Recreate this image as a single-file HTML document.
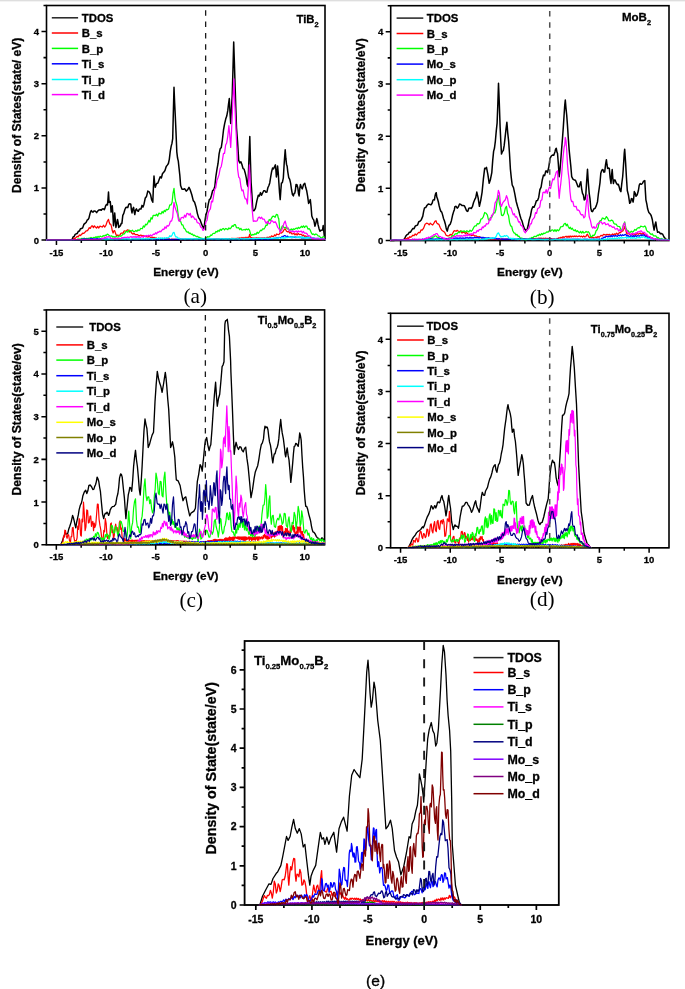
<!DOCTYPE html>
<html><head><meta charset="utf-8"><title>DOS figure</title>
<style>html,body{margin:0;padding:0;background:#fff;width:685px;height:989px;overflow:hidden;position:relative}</style>
</head><body>
<svg width="685" height="989" viewBox="0 0 685 989" style="position:absolute;left:0;top:0;will-change:transform;filter:blur(0.3px)">
<rect x="0" y="0" width="685" height="1" fill="#dedede"/>
<rect x="0" y="1" width="685" height="1" fill="#f3f3f3"/>
<path d="M41.5 240.1H46.5M43.5 214.03H46.5M41.5 187.97H46.5M43.5 161.9H46.5M41.5 135.83H46.5M43.5 109.77H46.5M41.5 83.7H46.5M43.5 57.63H46.5M41.5 31.57H46.5M43.5 5.5H46.5M56.45 240.1V245.1M81.31 240.1V243.1M106.18 240.1V245.1M131.04 240.1V243.1M155.91 240.1V245.1M180.78 240.1V243.1M205.64 240.1V245.1M230.51 240.1V243.1M255.38 240.1V245.1M280.24 240.1V243.1M305.11 240.1V245.1" stroke="#000" stroke-width="1.52" fill="none"/>
<rect x="46.5" y="5.5" width="278.5" height="234.6" stroke="#000" stroke-width="1.6" fill="none"/>
<text x="39" y="243.52" font-size="9.5" text-anchor="end" font-weight="bold" font-family='"Liberation Sans", sans-serif'  stroke="#000" stroke-width="0.3">0</text>
<text x="39" y="191.39" font-size="9.5" text-anchor="end" font-weight="bold" font-family='"Liberation Sans", sans-serif'  stroke="#000" stroke-width="0.3">1</text>
<text x="39" y="139.25" font-size="9.5" text-anchor="end" font-weight="bold" font-family='"Liberation Sans", sans-serif'  stroke="#000" stroke-width="0.3">2</text>
<text x="39" y="87.12" font-size="9.5" text-anchor="end" font-weight="bold" font-family='"Liberation Sans", sans-serif'  stroke="#000" stroke-width="0.3">3</text>
<text x="39" y="34.99" font-size="9.5" text-anchor="end" font-weight="bold" font-family='"Liberation Sans", sans-serif'  stroke="#000" stroke-width="0.3">4</text>
<text x="56.45" y="255.7" font-size="9.5" text-anchor="middle" font-weight="bold" font-family='"Liberation Sans", sans-serif'  stroke="#000" stroke-width="0.3">-15</text>
<text x="106.18" y="255.7" font-size="9.5" text-anchor="middle" font-weight="bold" font-family='"Liberation Sans", sans-serif'  stroke="#000" stroke-width="0.3">-10</text>
<text x="155.91" y="255.7" font-size="9.5" text-anchor="middle" font-weight="bold" font-family='"Liberation Sans", sans-serif'  stroke="#000" stroke-width="0.3">-5</text>
<text x="205.64" y="255.7" font-size="9.5" text-anchor="middle" font-weight="bold" font-family='"Liberation Sans", sans-serif'  stroke="#000" stroke-width="0.3">0</text>
<text x="255.38" y="255.7" font-size="9.5" text-anchor="middle" font-weight="bold" font-family='"Liberation Sans", sans-serif'  stroke="#000" stroke-width="0.3">5</text>
<text x="305.11" y="255.7" font-size="9.5" text-anchor="middle" font-weight="bold" font-family='"Liberation Sans", sans-serif'  stroke="#000" stroke-width="0.3">10</text>
<path d="M385.7 240.5H390.7M387.7 214.41H390.7M385.7 188.32H390.7M387.7 162.23H390.7M385.7 136.14H390.7M387.7 110.06H390.7M385.7 83.97H390.7M387.7 57.88H390.7M385.7 31.79H390.7M387.7 5.7H390.7M400.64 240.5V245.5M425.49 240.5V243.5M450.34 240.5V245.5M475.18 240.5V243.5M500.03 240.5V245.5M524.88 240.5V243.5M549.73 240.5V245.5M574.58 240.5V243.5M599.42 240.5V245.5M624.27 240.5V243.5M649.12 240.5V245.5" stroke="#000" stroke-width="1.52" fill="none"/>
<rect x="390.7" y="5.7" width="278.3" height="234.8" stroke="#000" stroke-width="1.6" fill="none"/>
<text x="383.2" y="243.92" font-size="9.5" text-anchor="end" font-weight="bold" font-family='"Liberation Sans", sans-serif'  stroke="#000" stroke-width="0.3">0</text>
<text x="383.2" y="191.74" font-size="9.5" text-anchor="end" font-weight="bold" font-family='"Liberation Sans", sans-serif'  stroke="#000" stroke-width="0.3">1</text>
<text x="383.2" y="139.56" font-size="9.5" text-anchor="end" font-weight="bold" font-family='"Liberation Sans", sans-serif'  stroke="#000" stroke-width="0.3">2</text>
<text x="383.2" y="87.39" font-size="9.5" text-anchor="end" font-weight="bold" font-family='"Liberation Sans", sans-serif'  stroke="#000" stroke-width="0.3">3</text>
<text x="383.2" y="35.21" font-size="9.5" text-anchor="end" font-weight="bold" font-family='"Liberation Sans", sans-serif'  stroke="#000" stroke-width="0.3">4</text>
<text x="400.64" y="256.1" font-size="9.5" text-anchor="middle" font-weight="bold" font-family='"Liberation Sans", sans-serif'  stroke="#000" stroke-width="0.3">-15</text>
<text x="450.34" y="256.1" font-size="9.5" text-anchor="middle" font-weight="bold" font-family='"Liberation Sans", sans-serif'  stroke="#000" stroke-width="0.3">-10</text>
<text x="500.03" y="256.1" font-size="9.5" text-anchor="middle" font-weight="bold" font-family='"Liberation Sans", sans-serif'  stroke="#000" stroke-width="0.3">-5</text>
<text x="549.73" y="256.1" font-size="9.5" text-anchor="middle" font-weight="bold" font-family='"Liberation Sans", sans-serif'  stroke="#000" stroke-width="0.3">0</text>
<text x="599.42" y="256.1" font-size="9.5" text-anchor="middle" font-weight="bold" font-family='"Liberation Sans", sans-serif'  stroke="#000" stroke-width="0.3">5</text>
<text x="649.12" y="256.1" font-size="9.5" text-anchor="middle" font-weight="bold" font-family='"Liberation Sans", sans-serif'  stroke="#000" stroke-width="0.3">10</text>
<path d="M41.4 544.8H46.4M43.4 523.45H46.4M41.4 502.09H46.4M43.4 480.74H46.4M41.4 459.38H46.4M43.4 438.03H46.4M41.4 416.67H46.4M43.4 395.32H46.4M41.4 373.96H46.4M43.4 352.61H46.4M41.4 331.25H46.4M43.4 309.9H46.4M56.34 544.8V549.8M81.18 544.8V547.8M106.01 544.8V549.8M130.85 544.8V547.8M155.69 544.8V549.8M180.53 544.8V547.8M205.37 544.8V549.8M230.21 544.8V547.8M255.05 544.8V549.8M279.89 544.8V547.8M304.73 544.8V549.8" stroke="#000" stroke-width="1.52" fill="none"/>
<rect x="46.4" y="309.9" width="278.2" height="234.9" stroke="#000" stroke-width="1.6" fill="none"/>
<text x="38.9" y="548.22" font-size="9.5" text-anchor="end" font-weight="bold" font-family='"Liberation Sans", sans-serif'  stroke="#000" stroke-width="0.3">0</text>
<text x="38.9" y="505.51" font-size="9.5" text-anchor="end" font-weight="bold" font-family='"Liberation Sans", sans-serif'  stroke="#000" stroke-width="0.3">1</text>
<text x="38.9" y="462.8" font-size="9.5" text-anchor="end" font-weight="bold" font-family='"Liberation Sans", sans-serif'  stroke="#000" stroke-width="0.3">2</text>
<text x="38.9" y="420.09" font-size="9.5" text-anchor="end" font-weight="bold" font-family='"Liberation Sans", sans-serif'  stroke="#000" stroke-width="0.3">3</text>
<text x="38.9" y="377.38" font-size="9.5" text-anchor="end" font-weight="bold" font-family='"Liberation Sans", sans-serif'  stroke="#000" stroke-width="0.3">4</text>
<text x="38.9" y="334.67" font-size="9.5" text-anchor="end" font-weight="bold" font-family='"Liberation Sans", sans-serif'  stroke="#000" stroke-width="0.3">5</text>
<text x="56.34" y="560.4" font-size="9.5" text-anchor="middle" font-weight="bold" font-family='"Liberation Sans", sans-serif'  stroke="#000" stroke-width="0.3">-15</text>
<text x="106.01" y="560.4" font-size="9.5" text-anchor="middle" font-weight="bold" font-family='"Liberation Sans", sans-serif'  stroke="#000" stroke-width="0.3">-10</text>
<text x="155.69" y="560.4" font-size="9.5" text-anchor="middle" font-weight="bold" font-family='"Liberation Sans", sans-serif'  stroke="#000" stroke-width="0.3">-5</text>
<text x="205.37" y="560.4" font-size="9.5" text-anchor="middle" font-weight="bold" font-family='"Liberation Sans", sans-serif'  stroke="#000" stroke-width="0.3">0</text>
<text x="255.05" y="560.4" font-size="9.5" text-anchor="middle" font-weight="bold" font-family='"Liberation Sans", sans-serif'  stroke="#000" stroke-width="0.3">5</text>
<text x="304.73" y="560.4" font-size="9.5" text-anchor="middle" font-weight="bold" font-family='"Liberation Sans", sans-serif'  stroke="#000" stroke-width="0.3">10</text>
<path d="M385.6 547.8H390.6M387.6 521.74H390.6M385.6 495.69H390.6M387.6 469.63H390.6M385.6 443.58H390.6M387.6 417.52H390.6M385.6 391.47H390.6M387.6 365.41H390.6M385.6 339.36H390.6M387.6 313.3H390.6M400.54 547.8V552.8M425.4 547.8V550.8M450.26 547.8V552.8M475.11 547.8V550.8M499.97 547.8V552.8M524.83 547.8V550.8M549.69 547.8V552.8M574.54 547.8V550.8M599.4 547.8V552.8M624.26 547.8V550.8M649.11 547.8V552.8" stroke="#000" stroke-width="1.52" fill="none"/>
<rect x="390.6" y="313.3" width="278.4" height="234.5" stroke="#000" stroke-width="1.6" fill="none"/>
<text x="383.1" y="551.22" font-size="9.5" text-anchor="end" font-weight="bold" font-family='"Liberation Sans", sans-serif'  stroke="#000" stroke-width="0.3">0</text>
<text x="383.1" y="499.11" font-size="9.5" text-anchor="end" font-weight="bold" font-family='"Liberation Sans", sans-serif'  stroke="#000" stroke-width="0.3">1</text>
<text x="383.1" y="447" font-size="9.5" text-anchor="end" font-weight="bold" font-family='"Liberation Sans", sans-serif'  stroke="#000" stroke-width="0.3">2</text>
<text x="383.1" y="394.89" font-size="9.5" text-anchor="end" font-weight="bold" font-family='"Liberation Sans", sans-serif'  stroke="#000" stroke-width="0.3">3</text>
<text x="383.1" y="342.78" font-size="9.5" text-anchor="end" font-weight="bold" font-family='"Liberation Sans", sans-serif'  stroke="#000" stroke-width="0.3">4</text>
<text x="400.54" y="563.4" font-size="9.5" text-anchor="middle" font-weight="bold" font-family='"Liberation Sans", sans-serif'  stroke="#000" stroke-width="0.3">-15</text>
<text x="450.26" y="563.4" font-size="9.5" text-anchor="middle" font-weight="bold" font-family='"Liberation Sans", sans-serif'  stroke="#000" stroke-width="0.3">-10</text>
<text x="499.97" y="563.4" font-size="9.5" text-anchor="middle" font-weight="bold" font-family='"Liberation Sans", sans-serif'  stroke="#000" stroke-width="0.3">-5</text>
<text x="549.69" y="563.4" font-size="9.5" text-anchor="middle" font-weight="bold" font-family='"Liberation Sans", sans-serif'  stroke="#000" stroke-width="0.3">0</text>
<text x="599.4" y="563.4" font-size="9.5" text-anchor="middle" font-weight="bold" font-family='"Liberation Sans", sans-serif'  stroke="#000" stroke-width="0.3">5</text>
<text x="649.11" y="563.4" font-size="9.5" text-anchor="middle" font-weight="bold" font-family='"Liberation Sans", sans-serif'  stroke="#000" stroke-width="0.3">10</text>
<path d="M239.6 905H244.6M241.6 885.4H244.6M239.6 865.8H244.6M241.6 846.2H244.6M239.6 826.6H244.6M241.6 807H244.6M239.6 787.41H244.6M241.6 767.81H244.6M239.6 748.21H244.6M241.6 728.61H244.6M239.6 709.01H244.6M241.6 689.41H244.6M239.6 669.81H244.6M241.6 650.21H244.6M255.82 905V910M283.88 905V908M311.93 905V910M339.98 905V908M368.04 905V910M396.09 905V908M424.14 905V910M452.2 905V908M480.25 905V910M508.3 905V908M536.36 905V910" stroke="#000" stroke-width="1.71" fill="none"/>
<rect x="244.6" y="641" width="314.2" height="264" stroke="#000" stroke-width="1.8" fill="none"/>
<text x="236.6" y="908.78" font-size="10.5" text-anchor="end" font-weight="bold" font-family='"Liberation Sans", sans-serif'  stroke="#000" stroke-width="0.3">0</text>
<text x="236.6" y="869.58" font-size="10.5" text-anchor="end" font-weight="bold" font-family='"Liberation Sans", sans-serif'  stroke="#000" stroke-width="0.3">1</text>
<text x="236.6" y="830.38" font-size="10.5" text-anchor="end" font-weight="bold" font-family='"Liberation Sans", sans-serif'  stroke="#000" stroke-width="0.3">2</text>
<text x="236.6" y="791.19" font-size="10.5" text-anchor="end" font-weight="bold" font-family='"Liberation Sans", sans-serif'  stroke="#000" stroke-width="0.3">3</text>
<text x="236.6" y="751.99" font-size="10.5" text-anchor="end" font-weight="bold" font-family='"Liberation Sans", sans-serif'  stroke="#000" stroke-width="0.3">4</text>
<text x="236.6" y="712.79" font-size="10.5" text-anchor="end" font-weight="bold" font-family='"Liberation Sans", sans-serif'  stroke="#000" stroke-width="0.3">5</text>
<text x="236.6" y="673.59" font-size="10.5" text-anchor="end" font-weight="bold" font-family='"Liberation Sans", sans-serif'  stroke="#000" stroke-width="0.3">6</text>
<text x="255.82" y="922.8" font-size="10.5" text-anchor="middle" font-weight="bold" font-family='"Liberation Sans", sans-serif'  stroke="#000" stroke-width="0.3">-15</text>
<text x="311.93" y="922.8" font-size="10.5" text-anchor="middle" font-weight="bold" font-family='"Liberation Sans", sans-serif'  stroke="#000" stroke-width="0.3">-10</text>
<text x="368.04" y="922.8" font-size="10.5" text-anchor="middle" font-weight="bold" font-family='"Liberation Sans", sans-serif'  stroke="#000" stroke-width="0.3">-5</text>
<text x="424.14" y="922.8" font-size="10.5" text-anchor="middle" font-weight="bold" font-family='"Liberation Sans", sans-serif'  stroke="#000" stroke-width="0.3">0</text>
<text x="480.25" y="922.8" font-size="10.5" text-anchor="middle" font-weight="bold" font-family='"Liberation Sans", sans-serif'  stroke="#000" stroke-width="0.3">5</text>
<text x="536.36" y="922.8" font-size="10.5" text-anchor="middle" font-weight="bold" font-family='"Liberation Sans", sans-serif'  stroke="#000" stroke-width="0.3">10</text>
<polyline points="46.5,240.1 47.52,240.1 48.54,240.09 49.56,240.09 50.58,240.08 51.6,240.08 52.62,240.07 53.65,240.07 54.67,240.07 55.69,240.06 56.71,240.06 57.73,240.05 58.75,240.05 59.77,240.05 60.79,240.04 61.81,240.04 62.83,240.03 63.85,240.03 64.88,240.03 65.9,240.02 66.92,240.02 67.94,240.01 68.96,240.01 69.98,240 71,240 72.04,239.47 73.08,236.97 74.12,236.54 75.16,234.35 76.2,233.8 77.26,233.44 78.32,231.34 79.38,231.11 80.44,228.69 81.5,228.6 82.67,227.87 83.83,224.43 85,223.4 86.07,222.51 87.13,220.22 88.2,219.4 89,217.93 89.8,214.5 90.6,211.6 91.4,210.5 92.2,211.99 93,212.1 94.2,210.9 95.4,211.3 96.65,212.59 97.9,210.9 99.1,209.9 100.3,209.7 101.3,210.28 102.3,208.9 103.3,208.66 104.3,209.7 104.9,208.39 105.5,206.1 106.5,204.5 107.5,204.9 108,199.19 108.5,192 109.1,202.5 109.7,201.3 110.3,201.7 111.1,212.1 111.7,209.72 112.3,205.7 112.9,214.57 113.5,225.8 114.1,220.06 114.7,212.9 115.3,219.79 115.9,227.4 116.7,223.81 117.5,219.4 118.1,222.35 118.7,227.4 119.7,226.51 120.7,225 121.3,223.31 121.9,223.4 122.8,215.3 123.8,213.34 124.8,209.7 125.8,207.49 126.8,207.3 127.8,207.42 128.8,204.1 129.8,203.7 130.8,204.1 131.4,209.94 132,212.9 132.8,208.84 133.6,207.3 134.2,211.75 134.8,214.5 135.6,210.19 136.4,208.9 137.4,210.8 138.4,211.3 139.2,209.38 140,208.9 141,208.98 142,205.37 143,207.07 144,204.2 145.27,198.01 146.53,196.42 147.8,191.1 149.2,191.88 150.6,194.8 151.7,199.98 152.8,202.3 153.4,187.49 154,176.1 154.65,183.38 155.3,187.3 156.53,183.46 157.77,183.37 159,179.9 160.18,176.78 161.35,178 162.52,173.51 163.7,172.4 164.97,170.47 166.23,166.47 167.5,164.9 168.4,163.53 169.3,159.3 170.25,151.34 171.2,146.1 171.95,143.38 172.7,138.7 173.35,112.16 174,87.2 174.65,103.06 175.3,116.2 176.05,133.3 176.8,151.8 177.55,158.04 178.3,161.1 179.1,168.6 179.85,175.63 180.6,185.5 182,189.19 183.4,189.2 184.8,188.8 186.2,191.1 187.6,189.77 189,187.3 190.4,190.41 191.8,194.8 193.2,200.44 194.6,202.3 196,206.92 197.4,213.6 198.67,217.87 199.93,219.44 201.2,222.9 202.6,226.54 204,228.5 204.9,220.8 205.8,215.4 207.05,211.2 208.3,203.9 209.37,199.37 210.43,198.82 211.5,195.2 212.6,190.72 213.7,189.93 214.8,186.5 215.9,176.27 217,169.1 218.05,163.47 219.1,153.9 220.2,148.68 221.3,147.4 222.4,139.77 223.5,130 224.6,123.95 225.7,119.1 226.75,116.06 227.8,110.4 228.55,103.93 229.3,98.5 230,112.45 230.7,123.5 231.45,108.76 232.2,95.2 232.95,69.86 233.7,42 234.35,61.36 235,82.2 235.75,105.9 236.5,127.8 237.6,142.25 238.7,160.4 239.8,162.91 240.9,161.82 242,164.8 243.05,168.65 244.1,169.1 245.2,172.92 246.3,177.8 247.15,184.14 248,186.5 248.9,159.65 249.8,136.5 250.45,161.35 251.1,182.2 251.95,195.02 252.8,210.4 254.1,210.66 255.4,208.3 256.85,200.82 258.3,195.2 259.38,196.04 260.45,192.6 261.53,195.28 262.6,193 263.8,190.71 265,190.8 265.95,192.31 266.9,192.1 267.85,187.76 268.8,185.7 269.75,182.94 270.7,176.9 271.65,171.45 272.6,168 273.55,168.84 274.5,166.8 275.4,164.9 275.9,170.26 276.4,176.9 277,173.24 277.6,166.1 278.25,172.72 278.9,183.2 279.55,192.59 280.2,199.6 280.8,190.7 281.4,183.2 282.35,182.57 283.3,178.2 284.25,162.39 285.2,149.7 285.85,158.2 286.5,164.2 287.15,166.22 287.8,171.8 288.75,177.54 289.7,179.4 290.6,183.06 291.5,189.5 292.45,194.57 293.4,195.9 294.05,193.52 294.7,193.3 295.35,190.46 296,184.5 296.95,184.81 297.9,188.3 298.5,193.56 299.1,195.9 299.75,188.85 300.4,184.5 301.35,187.34 302.3,188.9 303.55,184.5 304.8,183.2 305.75,187.54 306.7,190.8 307.65,196.44 308.6,203.4 309.45,202.08 310.3,199.6 311.05,206.48 311.8,216.1 312.75,218.58 313.7,219.9 314.3,222.6 314.9,226.2 315.85,223.12 316.8,218.6 317.45,220.78 318.1,224.9 319.05,228.69 320,231.3 321.25,230.16 322.5,230 323.2,225.6 323.8,231.33 324.4,236.3" fill="none" stroke="#000000" stroke-width="1.5" stroke-linejoin="round" stroke-linecap="round"/>
<polyline points="46.5,240.1 47.52,240.1 48.54,240.09 49.56,240.09 50.58,240.08 51.6,240.08 52.62,240.07 53.65,240.07 54.67,240.07 55.69,240.06 56.71,240.06 57.73,240.05 58.75,240.05 59.77,240.05 60.79,240.04 61.81,240.04 62.83,240.03 63.85,240.03 64.88,240.03 65.9,240.02 66.92,240.02 67.94,240.01 68.96,240.01 69.98,240 71,240 72,239.5 73,239.57 74,238.18 75,238.47 76,237.5 77.1,236.37 78.2,236.9 79.3,234.94 80.4,235.57 81.5,234.5 82.67,233.22 83.83,233.42 85,232.2 86.07,230.84 87.13,230.94 88.2,229.8 89.27,227.64 90.33,228.37 91.4,226.2 92.4,225.8 93.4,227.6 94.4,225.8 95.4,227 96.54,228.07 97.68,226.44 98.82,228.02 99.96,226.2 101.1,226.6 102.3,227.03 103.5,225.24 104.7,227.03 105.9,225.4 107.2,221.55 108.5,219.4 109.2,222.3 109.9,224.2 110.7,224.17 111.5,226.6 112.3,230.77 113.1,233 113.9,230.88 114.7,230.6 115.5,233.32 116.3,235.4 117.5,235.18 118.7,235.4 119.77,235.39 120.83,233.39 121.9,233 123,233.28 124.1,230.9 125.2,231 126.27,231.18 127.33,229.8 128.4,230.2 129.47,231.98 130.53,231.21 131.6,233 132.8,234.15 134,233.17 135.2,234.69 136.4,234.6 137.6,234.58 138.8,235.72 140,235.4 141,235 142,236.34 143,235.46 144,236.5 145,235.85 146,236.93 147,236.27 148,237.17 149,236.2 150,237 151,237.65 152,236.97 153,238.08 154,237.32 155,238.12 156,237.83 157,238.73 158,238.5 159,238.1 160,239.19 161,238.36 162,239.12 163,238.33 164,239.25 165,238.77 166,239.33 167,238.8 168,239.69 169,238.68 170,239.3 171,239.87 172,238.9 173,239.85 174,238.9 175,239.74 176,239.18 177,239.7 178,239.06 179,239.71 180,238.9 181,239.9 182,238.9 183,239.9 184,239.11 185,239.69 186,239 187,239.7 188,238.9 189,239.9 190,239.24 191,239.65 192,239.2 193,239.63 194,238.91 195,239.9 196,239.27 197,239.9 198,239.17 199,239.75 200,239.5 201,239.27 202,239.88 203,239.2 204,239.69 205,239.23 206,239.77 207,239.19 208,239.74 209,238.93 210,239.64 211,239.08 212,239.86 213,239 214,239.51 215,238.76 216,239.75 217,238.69 218,239.47 219,238.6 220,239.53 221,238.91 222,239.49 223,238.6 224,239.69 225,238.6 226,239.61 227,238.6 228,239.22 229,238.6 230,239 231,239.4 232,238.28 233,239.27 234,238.31 235,238.95 236,238.27 237,238.65 238,238.05 239,238.52 240,237.79 241,238.75 242,237.5 243,238.55 244,237.44 245,238.44 246,237.22 247,238.31 248,237.1 249,237.5 249.6,234.3 250.3,236.43 251,238 252,237.6 253,238.58 254,237.81 255,238.62 256,237.6 257,238.45 258,237.7 259,238.61 260,237.81 261,238.76 262,237.6 263,238.49 264,237.6 265,238.2 266.09,238.23 267.17,237.25 268.26,237.64 269.34,236.89 270.43,237.54 271.51,235.9 272.6,236.3 273.6,236.54 274.6,234.85 275.6,235.83 276.6,234 277.6,234.4 278.87,234.62 280.13,232.74 281.4,233.1 282.67,232.1 283.93,229.86 285.2,228.7 286.5,231.25 287.8,231.9 288.8,231.5 289.8,233.14 290.8,232.28 291.8,233.84 292.8,233.8 293.89,233.45 294.97,234.77 296.06,233.66 297.14,235.01 298.23,233.4 299.31,234.65 300.4,234.4 301.49,234.35 302.57,235.81 303.66,235 304.74,236.56 305.83,235.91 306.91,236.85 308,236.9 309,237.06 310,238.14 311,237.6 312,238.91 313,238.8 314,238.63 315,239.1 316,238.49 317,239.52 318,238.89 319,239.69 320,238.88 321,239.85 322,238.97 323,239.73 324,239.09 325,239.5" fill="none" stroke="#ff0000" stroke-width="1.25" stroke-linejoin="round" stroke-linecap="round"/>
<polyline points="46.5,240.1 47.52,240.1 48.54,240.09 49.56,240.09 50.58,240.08 51.6,240.08 52.62,240.07 53.65,240.07 54.67,240.07 55.69,240.06 56.71,240.06 57.73,240.05 58.75,240.05 59.77,240.05 60.79,240.04 61.81,240.04 62.83,240.03 63.85,240.03 64.88,240.03 65.9,240.02 66.92,240.02 67.94,240.01 68.96,240.01 69.98,240 71,240 72,239.9 73,239.8 74,239.7 75,239.6 76,239.5 77,239.66 78,238.86 79,239.55 80,238.89 81,239.25 82,238.3 83,239.32 84,238.2 85,238.6 86,239.14 87,238.23 88,238.95 89,238.01 90,238.28 91,237.4 92,238.08 93,237.8 94.01,237.43 95.03,237.77 96.04,236.69 97.05,237.72 98.06,236.33 99.07,237.31 100.09,236.2 101.1,236.6 102.13,236.89 103.16,235.51 104.19,236.18 105.21,235.16 106.24,235.44 107.27,234.2 108.3,234.6 109.5,235.73 110.7,236.2 111.77,235.82 112.83,237.19 113.9,236.38 114.97,237.37 116.03,236.33 117.1,237 118.3,236.96 119.5,235.77 120.7,236.29 121.9,235.4 123.12,234.16 124.35,233.92 125.58,231.9 126.8,231.4 127.87,232.12 128.93,230.2 130,230.6 131.2,231.16 132.4,230.2 133.6,231.6 134.8,231.4 135.84,230.45 136.88,231.35 137.92,229.8 138.96,230.6 140,229.8 140.6,228.49 141.2,228.5 142.3,228.75 143.4,225.94 144.5,227.03 145.6,224.18 146.7,224.83 147.8,222.9 148.88,220.3 149.97,222.09 151.05,217.57 152.13,219.06 153.22,215.26 154.3,215.4 155.44,215.67 156.58,214.15 157.72,216.12 158.86,213.2 160,213.6 161.07,213.98 162.14,211.51 163.21,213.09 164.29,210.45 165.36,211.57 166.43,209.4 167.5,209.8 168.65,208.91 169.8,204.9 170.95,205 172.1,202.3 173.05,193.15 174,188.3 174.95,197.76 175.9,202.3 177.13,206.22 178.37,216.14 179.6,221 180.7,221.5 181.8,224.92 182.9,224.85 184,228.26 185.1,229.06 186.2,231.3 187.23,232.23 188.27,231.96 189.3,233.56 190.33,233.04 191.37,234.46 192.4,233.99 193.43,235.61 194.47,235.15 195.5,236 196.57,236.6 197.64,236.32 198.71,237.44 199.79,237.33 200.86,238.63 201.93,238.17 203,238.8 204.14,238.98 205.28,237.84 206.42,238.12 207.56,236.72 208.7,237 209.7,236.57 210.7,234.96 211.7,235.4 212.7,233.79 213.7,233.3 214.79,233.5 215.88,231.47 216.96,232.05 218.05,230.35 219.14,231.37 220.22,229.23 221.31,230.24 222.4,228.9 223.47,228.5 224.55,229.94 225.62,228.5 226.7,228.9 227.8,229.66 228.9,227.94 230,228.85 231.1,227.8 232.17,225.66 233.23,226.36 234.3,224.6 235.4,224.59 236.5,227.74 237.6,227.8 238.68,227.72 239.76,229.62 240.84,228.34 241.92,230.18 243,230 244.1,229.47 245.2,230.01 246.3,229.02 247.4,229.75 248.5,228.9 249.57,230.41 250.63,234.13 251.7,235.4 252.79,234.42 253.87,234.95 254.96,233.71 256.04,234.35 257.13,232.17 258.21,233.45 259.3,232.2 260.44,230.25 261.58,230.63 262.72,228.76 263.86,229.04 265,227.5 266.07,224.97 267.13,225.38 268.2,222.4 269.23,219.49 270.27,220.38 271.3,218.6 272.55,216.35 273.8,216.1 275.07,217.27 276.33,214.4 277.6,214.8 278.15,217.66 278.7,218.6 279.3,224.19 279.9,231.3 281,229.98 282.1,226.2 283.13,225.92 284.17,227.89 285.2,227.5 286.22,227.2 287.24,229.01 288.26,228.2 289.28,230.23 290.3,230 291.3,228.91 292.3,230.01 293.3,228.89 294.3,229.39 295.3,228.7 296.32,228.08 297.34,228.78 298.36,227.34 299.38,228.25 300.4,227.5 301.42,226.28 302.44,227.35 303.46,225.8 304.48,227.52 305.5,226.2 306.73,226.05 307.97,229.12 309.2,228.7 310.27,230.22 311.33,232.88 312.4,234.4 313.5,234 314.6,234.93 315.7,234 316.8,234.4 318.07,235.81 319.33,236.18 320.6,237.6 321.87,237.97 323.13,236.6 324.4,237" fill="none" stroke="#00ff00" stroke-width="1.25" stroke-linejoin="round" stroke-linecap="round"/>
<polyline points="46.5,240 47.52,240 48.54,240 49.56,240 50.58,240 51.6,240 52.62,240 53.65,240 54.67,240 55.69,240 56.71,240 57.73,240 58.75,240 59.77,240 60.79,240 61.81,240 62.83,240 63.85,240 64.88,240 65.9,240 66.92,240 67.94,240 68.96,240 69.98,240 71,240 72,239.95 73,239.89 74,239.84 75,239.79 76,239.74 77,239.68 78,239.63 79,239.58 80,239.53 81,239.76 82,238.87 83,239.76 84,238.73 85,239.52 86,238.9 87,239.47 88,238.95 89,239.6 90,239 91,238.6 92,239.28 93,238.6 94,239.63 95,238.76 96,239.45 97,238.6 98,239.27 99,238.86 100,239.38 101,238.69 102,239.35 103,238.9 104,239.37 105,238.77 106,239.46 107,238.72 108,239.68 109,239.05 110,239.41 111,238.9 112,239.72 113,238.98 114,239.8 115,238.79 116,239.9 117,239.05 118,239.9 119,238.84 120,239.67 121,239.02 122,239.71 123,239.01 124,239.67 125,239.01 126,239.9 127,239.01 128,239.72 129,239.02 130,239.5 131,239.9 132,239.32 133,239.76 134,239.08 135,239.83 136,238.91 137,239.9 138,238.92 139,239.82 140,238.99 141,239.76 142,239.21 143,239.75 144,239.32 145,239.83 146,238.91 147,239.9 148,238.93 149,239.67 150,239.32 151,239.72 152,239.17 153,239.9 154,238.97 155,239.79 156,239.26 157,239.88 158,239.29 159,239.72 160,238.9 161,239.77 162,239.01 163,239.61 164,238.96 165,239.67 166,239.16 167,239.73 168,238.99 169,239.75 170,239.24 171,239.9 172,239.13 173,239.9 174,239.26 175,239.77 176,239.05 177,239.71 178,239.23 179,239.86 180,238.9 181,239.62 182,238.9 183,239.67 184,239.02 185,239.84 186,239 187,239.62 188,239.1 189,239.79 190,239.13 191,239.59 192,239.24 193,239.87 194,239.12 195,239.8 196,238.9 197,239.65 198,239.04 199,239.76 200,238.9 201,239.78 202,238.9 203,239.72 204,238.9 205,239.9 206,239.21 207,239.72 208,238.9 209,239.73 210,238.9 211,239.6 212,239.04 213,239.79 214,238.9 215,239.66 216,239.04 217,239.74 218,239 219,239.84 220,239.19 221,239.66 222,238.96 223,239.63 224,238.9 225,239.58 226,239.13 227,239.58 228,238.92 229,239.81 230,239.15 231,239.86 232,239.08 233,239.71 234,239.02 235,239.87 236,239.19 237,239.7 238,238.93 239,239.76 240,238.9 241,239.9 242,238.9 243,239.52 244,239.04 245,239.57 246,238.9 247,239.87 248,238.9 249,239.58 250,239.01 251,239.6 252,239.05 253,239.9 254,238.93 255,239.76 256,238.9 257,239.5 258,238.9 259,239.89 260,238.9 261,239.62 262,238.9 263,239.47 264,238.9 265,239.88 266,239 267,239.7 268,239.05 269,239.82 270,239.3 271,238.92 272,239.55 273,238.3 274,238.85 275,238.06 276,238.71 277,237.48 278,238.11 279,237.28 280,237.5 281.04,237.64 282.08,236.3 283.12,236.82 284.16,235.61 285.2,235.7 286.4,236.72 287.6,236.08 288.8,237.23 290,237 291,236.6 292,237.75 293,236.74 294,237.63 295,236.68 296,237.77 297,237.14 298,237.71 299,236.94 300,237.93 301,236.86 302,238.28 303,237.29 304,238.35 305,237.57 306,238 307,237.18 308,238.14 309,237.33 310,238 311,238.51 312,237.84 313,238.68 314,237.8 315,239.05 316,238.13 317,238.95 318,238.22 319,239.12 320,238.84 321,239.47 322,238.74 323,239.45 324,239.18 325,239.5" fill="none" stroke="#0000ff" stroke-width="1.25" stroke-linejoin="round" stroke-linecap="round"/>
<polyline points="46.5,240 47.51,239.99 48.52,239.98 49.53,239.97 50.54,239.96 51.55,239.95 52.56,239.94 53.57,239.93 54.58,239.92 55.58,239.92 56.59,239.91 57.6,239.9 58.61,239.89 59.62,239.88 60.63,239.87 61.64,239.86 62.65,239.85 63.66,239.84 64.67,239.83 65.68,239.82 66.69,239.81 67.7,239.8 68.71,239.79 69.72,239.78 70.73,239.77 71.74,239.76 72.75,239.75 73.75,239.75 74.76,239.74 75.77,239.73 76.78,239.72 77.79,239.71 78.8,239.7 79.81,239.69 80.82,239.68 81.83,239.67 82.84,239.66 83.85,239.65 84.86,239.64 85.87,239.63 86.88,239.62 87.89,239.61 88.9,239.6 89.91,239.59 90.92,239.58 91.92,239.58 92.93,239.57 93.94,239.56 94.95,239.55 95.96,239.54 96.97,239.53 97.98,239.52 98.99,239.51 100,239.5 101,239.82 102,239.23 103,239.62 104,239.04 105,239.9 106,239.15 107,239.9 108,238.82 109,239.68 110,239.2 111,239.84 112,238.91 113,239.8 114,238.9 115,239.47 116,239.13 117,239.7 118,238.93 119,239.48 120,238.82 121,239.48 122,238.77 123,239.42 124,238.8 125,239.54 126,238.6 127,239.35 128,238.8 129,239.68 130,238.92 131,239.7 132,238.6 133,239.28 134,238.85 135,239.54 136,238.82 137,239.57 138,238.66 139,239.43 140,239 141.02,238.73 142.04,239.34 143.06,238.56 144.09,239.38 145.11,238.4 146.13,239.3 147.15,238.41 148.17,239.32 149.19,238.4 150.21,239.08 151.24,238.45 152.26,239.45 153.28,238.62 154.3,238.8 155.32,238.94 156.33,238.26 157.35,238.77 158.36,237.96 159.38,239.07 160.39,237.83 161.41,238.57 162.42,237.84 163.44,238.83 164.45,237.66 165.47,238.3 166.48,237.68 167.5,237.9 168.65,237.72 169.8,235.75 170.95,236.6 172.1,235.1 173.05,232.78 174,232.3 174.95,235.21 175.9,237 176.93,236.86 177.95,238.32 178.97,238.03 180,239 181,239.48 182,238.66 183,239.3 184,238.75 185,239.59 186,238.6 187,239.3 188,238.6 189,239.19 190,238.6 191,239.58 192,238.74 193,239.32 194,238.6 195,239.57 196,238.77 197,239.56 198,238.6 199,239.23 200,238.6 201,239.49 202,238.73 203,239.17 204,238.6 205,239.51 206,238.6 207,239.19 208,238.69 209,239.27 210,238.6 211,239.18 212,238.84 213,239.25 214,238.69 215,239.17 216,238.8 217,239.53 218,238.68 219,239.5 220,238.61 221,239.2 222,238.71 223,239.35 224,238.6 225,239.39 226,238.72 227,239.36 228,238.6 229,239.4 230,238.75 231,239.16 232,238.6 233,239.4 234,238.6 235,239.35 236,238.69 237,239.28 238,238.6 239,239.59 240,239 241,238.49 242,239.23 243,238.59 244,239.49 245,238.37 246,239.27 247,238.35 248,239.36 249,238.45 250,239.02 251,238.55 252,239.07 253,238.33 254,239.2 255,238.05 256,238.88 257,238.38 258,238.78 259,238.16 260,238.73 261,237.99 262,238.97 263,238.18 264,238.6 265,238.06 266,238.65 267,237.97 268,238.95 269,238.07 270,238.61 271,238.04 272,238.67 273,237.88 274,238.5 275,237.64 276,238.53 277,237.89 278,238.38 279,237.69 280,238 281,238.32 282,237.23 283,238.46 284,237.46 285,238.33 286,237.04 287,237.92 288,237.14 289,237.77 290,236.64 291,237.85 292,236.92 293,237.53 294,236.6 295,237 296,237.3 297,236.88 298,237.63 299,236.72 300,237.72 301,237.2 302,238.09 303,236.96 304,238.24 305,237.34 306,238.33 307,237.26 308,238.22 309,237.29 310,238 311,238.51 312,237.6 313,238.96 314,237.99 315,239.05 316,238.44 317,239.33 318,238.25 319,239.29 320,238.55 321,239.44 322,238.78 323,239.84 324,239.12 325,239.5" fill="none" stroke="#00ffff" stroke-width="1.25" stroke-linejoin="round" stroke-linecap="round"/>
<polyline points="46.5,240 47.51,239.99 48.52,239.98 49.53,239.97 50.54,239.96 51.55,239.95 52.56,239.94 53.57,239.93 54.58,239.92 55.58,239.92 56.59,239.91 57.6,239.9 58.61,239.89 59.62,239.88 60.63,239.87 61.64,239.86 62.65,239.85 63.66,239.84 64.67,239.83 65.68,239.82 66.69,239.81 67.7,239.8 68.71,239.79 69.72,239.78 70.73,239.77 71.74,239.76 72.75,239.75 73.75,239.75 74.76,239.74 75.77,239.73 76.78,239.72 77.79,239.71 78.8,239.7 79.81,239.69 80.82,239.68 81.83,239.67 82.84,239.66 83.85,239.65 84.86,239.64 85.87,239.63 86.88,239.62 87.89,239.61 88.9,239.6 89.91,239.59 90.92,239.58 91.92,239.58 92.93,239.57 93.94,239.56 94.95,239.55 95.96,239.54 96.97,239.53 97.98,239.52 98.99,239.51 100,239.5 101.06,239.6 102.12,238.21 103.19,238.73 104.25,237.59 105.31,238.01 106.38,236.69 107.44,237.21 108.5,236.6 109.67,236.88 110.83,238.12 112,238.5 113,238.29 114,238.94 115,238.1 116,238.82 117,238.27 118,238.98 119,238.1 120,238.5 121.04,238.47 122.08,237.5 123.12,238.05 124.16,237.31 125.2,237.4 126.4,237.65 127.6,236.93 128.8,237.59 130,237 131.02,236.6 132.04,237.47 133.05,236.6 134.07,237.3 135.09,236.6 136.11,237.45 137.13,236.6 138.15,237.31 139.16,236.6 140.18,237.57 141.2,237 142.23,236.51 143.25,237.34 144.28,235.87 145.31,236.52 146.34,235.46 147.36,236.33 148.39,235.22 149.42,235.98 150.45,234.96 151.47,235.87 152.5,235.1 153.53,234.06 154.57,234.33 155.6,232.77 156.63,233.94 157.67,231.98 158.7,232.28 159.73,231.1 160.77,231.78 161.8,230.4 162.87,229.21 163.94,229.53 165.01,226.81 166.09,228.36 167.16,225.52 168.23,226.17 169.3,224.8 170.43,221.15 171.57,221.16 172.7,217.3 173.35,208.77 174,202.3 174.95,206.89 175.9,209.8 177.3,213.51 178.7,221 179.93,221.17 181.17,217.83 182.4,217.3 183.52,218.12 184.64,215.09 185.76,217.1 186.88,213.43 188,213.6 189.14,215.17 190.28,213.4 191.42,217.52 192.56,216 193.7,217.3 194.88,219.4 196.05,219.02 197.22,222.61 198.4,222.9 199.55,223.76 200.7,227.16 201.85,227.48 203,230.4 203.95,229.82 204.9,227.6 206,221.75 207.1,220.25 208.2,213.08 209.3,210.4 210.4,208.91 211.5,201.14 212.6,201.88 213.7,195.2 214.77,189.07 215.85,187.52 216.93,180.43 218,177.8 219.1,174.36 220.2,168.35 221.3,166.45 222.4,160.4 223.47,153.47 224.55,153.41 225.62,145 226.7,143 227.8,136.04 228.9,125.7 229.8,135.49 230.7,147.4 231.45,133.28 232.2,117 233.05,96.11 233.9,78.9 234.65,100.39 235.4,117 236.5,140.3 237.6,169.1 238.7,177 239.8,178.29 240.9,186.5 241.97,190.92 243.03,189.84 244.1,195.2 245.2,198.9 246.3,198.9 247.4,203.9 248.4,186.18 249.4,165 249.95,175.13 250.5,190 251.9,206.84 253.3,221.3 254.7,220.9 256.1,221.3 257.17,220.73 258.23,217.76 259.3,217 260.4,218.57 261.5,217.17 262.6,219.07 263.7,219.1 264.35,219.4 265,221.1 266.27,223.37 267.53,221.32 268.8,223.7 270.07,223.61 271.33,220.7 272.6,221.1 273.87,222.57 275.13,221.63 276.4,223.7 277.65,227.3 278.9,228.7 279.55,230.07 280.2,232.5 281.45,230.46 282.7,227.5 283.95,223.33 285.2,221.1 286.15,224.95 287.1,227.5 288.17,228.38 289.23,230.88 290.3,231.3 291.3,230.9 292.3,231.8 293.3,230.96 294.3,232.32 295.3,231.3 296.32,231.02 297.34,232.25 298.36,230.9 299.38,231.71 300.4,231.3 301.42,231.1 302.44,232.95 303.46,231.45 304.48,233.15 305.5,233.1 306.73,233.41 307.97,235.55 309.2,235.7 310.47,236.27 311.73,238.04 313,238.8 314,238.4 315,239.22 316,238.73 317,239.35 318,238.48 319,239.41 320,238.96 321,239.77 322,238.8 323,239.63 324,239.14 325,239.5" fill="none" stroke="#ff00ff" stroke-width="1.25" stroke-linejoin="round" stroke-linecap="round"/>
<polyline points="390.7,240.5 391.77,240.46 392.83,240.42 393.9,240.38 394.97,240.33 396.03,240.29 397.1,240.25 398.17,240.21 399.23,240.17 400.3,240.12 401.37,240.08 402.43,240.04 403.5,240 404.67,238.54 405.83,236.04 407,234.7 408.18,234.04 409.35,232.13 410.52,232.18 411.7,230.1 412.88,228.57 414.05,228.81 415.22,226.13 416.4,225.4 417.57,225.11 418.73,221.7 419.9,221.3 421.35,219.65 422.8,216.1 423.65,211.42 424.5,207.9 425.7,207.55 426.9,205.5 428.35,204 429.8,204.4 430.95,204.87 432.1,203.2 433,200.15 433.9,199.7 434.45,199.91 435,196.2 435.6,193.56 436.2,192.7 436.8,196.98 437.4,198.5 438.25,201.49 439.1,205.5 440,209.15 440.9,211.4 441.75,212.11 442.6,214.9 443.5,218.4 444.4,220.7 445.25,223.67 446.1,227.7 446.7,230.01 447.3,231.2 448.15,227.43 449,225.4 450.2,224.2 451.4,220.7 452.55,215.3 453.7,211.4 454.3,209.99 454.9,206.7 456.07,206.3 457.23,208.16 458.4,206.7 459.55,204 460.7,204.4 461.9,205.46 463.1,205.5 464.25,205.66 465.4,207.9 466.55,210.83 467.7,211.4 468.9,208.12 470.1,207.9 471.25,208.53 472.4,206.7 473.55,202.45 474.7,199.7 475.75,197.64 476.8,192.1 478.1,197.62 479.4,206.3 480.75,200.34 482.1,192.1 483.4,178.79 484.7,168.2 485.6,168.72 486.5,167.3 487.85,174.34 489.2,183.3 490.5,179.17 491.8,172.7 492.7,160.63 493.6,151.4 494.5,148.03 495.4,140.8 496.25,131.13 497.1,123.1 497.8,105.01 498.5,83.3 499.3,103.09 500.1,126.6 500.8,141.47 501.5,154.1 502.4,151.61 503.3,150.5 504.2,145.45 505.1,137.3 506,129.2 506.9,122.2 507.75,133.07 508.6,140.8 509.5,153.44 510.4,169.1 511.3,177.85 512.2,185 513.5,187.68 514.8,193.9 516.15,201.26 517.5,206.3 518.67,209.9 519.83,215.05 521,218.7 522.2,221.58 523.4,226.09 524.6,229.3 525.45,229.54 526.3,231.1 527.2,228.99 528.1,225.8 529.27,219.63 530.43,216.01 531.6,209.8 532.8,206.77 534,207.32 535.2,204.5 536.37,200.71 537.53,200.53 538.7,197.4 539.9,189.59 541.1,187.11 542.3,179.7 543.47,175.13 544.63,175.68 545.8,170.9 546.65,171.03 547.5,172.5 548.75,167.24 550,158.3 551.25,156.03 552.5,155 553.75,155.18 555,151.7 555.65,148.92 556.3,148.3 556.9,151.89 557.5,153.3 558.35,164 559.2,176.7 560,169.82 560.8,160 561.65,148.64 562.5,138.3 563.35,126.65 564.2,113.3 564.75,105.17 565.3,100 566,108.35 566.7,115 567.5,125.83 568.3,138.3 569.15,149.92 570,158.3 570.85,166.64 571.7,176.7 572.95,179.15 574.2,180 575.45,180.27 576.7,183.3 577.95,186.64 579.2,186.7 580,183.68 580.8,181.7 581.65,188.77 582.5,193.3 583.35,194.86 584.2,200 585,199.31 585.8,195 586.65,181.2 587.5,169.2 588.35,183.06 589.2,193.3 590,198.92 590.8,208.3 591.65,211.25 592.5,211.7 593.75,209.01 595,208.3 596.25,205.87 597.5,201.7 598.35,194.22 599.2,188.3 600,182.62 600.8,173.3 601.85,170.06 602.9,169.5 603.8,172.12 604.7,171.9 605.55,164.55 606.4,159.7 607,164.72 607.6,168.4 608.45,168 609.3,168.4 610.15,177.89 611,183.5 611.6,175.14 612.2,169.5 612.8,177.83 613.4,183.5 614.25,179.94 615.1,180 616.25,183 617.4,184.7 618.3,184.3 619.2,187 620.05,190.25 620.9,191.6 621.8,183.36 622.7,176.5 623.25,168.99 623.8,160.2 624.25,153.16 624.7,149.2 625.6,162.6 626.45,177.68 627.3,190.5 628.5,195.27 629.7,203.3 630.55,202.26 631.4,198.6 632.25,199.03 633.1,202.1 633.7,198.23 634.3,191.6 635.15,193.04 636,196.3 637.2,194.8 638.4,190.5 639.25,185.1 640.1,183.5 641.25,184.29 642.4,183.5 643.6,181.13 644.8,180.6 645.35,190.86 645.9,199.8 646.8,203.93 647.7,209.1 648.85,212.54 650,213.7 651.15,215.5 652.3,219.5 653.2,225.19 654.1,230 654.95,225.29 655.8,221.9 656.7,228.11 657.6,232.3 658.45,231.9 659.3,232.3 660.45,233.67 661.6,233.5 662.8,234.45 664,237 665.45,238.78 666.9,239.9 667.95,240.1 669,240.3" fill="none" stroke="#000000" stroke-width="1.5" stroke-linejoin="round" stroke-linecap="round"/>
<polyline points="390.7,240.3 391.77,240.28 392.83,240.25 393.9,240.23 394.97,240.2 396.03,240.18 397.1,240.15 398.17,240.12 399.23,240.1 400.3,240.07 401.37,240.05 402.43,240.03 403.5,240 404.52,239.94 405.55,238.64 406.57,239.17 407.6,237.79 408.62,238.43 409.65,236.72 410.68,237.3 411.7,236.5 412.86,235.17 414.02,235.72 415.18,233.94 416.34,235.09 417.5,233.6 418.68,232.43 419.85,232.75 421.02,229.93 422.2,230.1 423.65,228.14 425.1,224.2 426.55,223.2 428,223.6 429.17,224.87 430.33,223.2 431.5,224.2 432.7,224.98 433.9,223.1 434.95,221.32 436,220.7 436.7,222.89 437.4,223.6 438.85,224.37 440.3,227.7 441.75,230.25 443.2,231.2 444.65,232.32 446.1,235.3 447.55,235.93 449,235.9 450.2,234.39 451.4,235.16 452.6,233.6 453.75,231.16 454.9,230.7 456.07,231.28 457.23,230.3 458.4,231.2 459.57,231.78 460.75,230.83 461.93,233.01 463.1,232.4 464.25,232.19 465.4,233.62 466.55,232.52 467.7,233.6 468.88,234.78 470.05,234.17 471.22,235.66 472.4,235.3 473.57,234.9 474.75,236.17 475.93,235.72 477.1,236.5 478.33,237.09 479.55,236.59 480.77,237.84 482,238 483,237.9 484,238.74 485,238.08 486,238.82 487,238.43 488,239.51 489,238.66 490,239.2 491,239.62 492,238.8 493,239.57 494,238.8 495,239.61 496,238.8 497,239.8 498,238.87 499,239.53 500,238.8 501,239.65 502,238.82 503,239.65 504,239.15 505,239.57 506,238.92 507,239.62 508,239.05 509,239.74 510,238.8 511,239.91 512,238.84 513,239.62 514,238.92 515,239.82 516,239.03 517,239.83 518,238.94 519,240.04 520,239.5 521,239.3 522,240.01 523,238.83 524,239.71 525,238.67 526,239.55 527,239 528,239.41 529,238.64 530,239.57 531,238.45 532,239.14 533,238.25 534,239.45 535,238.33 536,239.36 537,238.31 538,238.89 539,238 540,238.97 541,237.9 542,238.94 543,238.17 544,238.55 545,238.3 546,238.11 547,239.14 548,238.27 549,239.1 550,238.16 551,239.13 552,238.66 553,239.57 554,238.84 555,239.2 556,239.52 557,238.39 558,238.75 559,237.7 560,238.19 561,237.24 562,237.9 563,236.59 564,237.55 565,236.7 566.02,236.2 567.05,237.3 568.07,236.04 569.09,237.27 570.12,235.9 571.14,237.13 572.16,236.04 573.18,236.76 574.21,235.9 575.23,236.62 576.25,235.96 577.28,236.64 578.3,236.3 579.37,235.94 580.44,236.78 581.51,236.07 582.59,237.16 583.66,235.91 584.73,236.98 585.8,236.7 586.65,234.88 587.5,234.2 588.35,236.13 589.2,237.5 590.36,237.1 591.52,237.84 592.68,237.13 593.84,237.75 595,237.5 596,236.94 597,237.68 598,236.53 599,237.39 600,236.4 601.17,235.3 602.35,235.98 603.53,234.38 604.7,234.7 605.85,235.12 607,234.3 608.15,234.99 609.3,234.3 610.45,235.25 611.6,234.7 612.6,233.92 613.6,234.99 614.6,233.88 615.6,234.44 616.6,233.1 617.6,234.42 618.6,233.5 619.62,232.49 620.65,232.61 621.68,230.89 622.7,231.2 623.7,229.46 624.7,226.5 625.7,229.68 626.7,233.5 627.88,234.09 629.06,233.22 630.24,235.08 631.42,233.91 632.6,234.7 633.75,235.32 634.9,233.87 636.05,234.56 637.2,233.1 638.35,234.29 639.5,233.5 640.67,233.1 641.85,234.33 643.03,233.4 644.2,234.1 645.35,235.28 646.5,234.88 647.65,236.99 648.8,237 649.98,236.84 651.16,238.18 652.34,238.02 653.52,239.45 654.7,239.3 655.72,238.9 656.74,240.01 657.76,238.9 658.79,239.7 659.81,239.24 660.83,240 661.85,239.36 662.87,240.08 663.89,239.44 664.91,240.08 665.94,239.34 666.96,239.9 667.98,239.95 669,240" fill="none" stroke="#ff0000" stroke-width="1.25" stroke-linejoin="round" stroke-linecap="round"/>
<polyline points="390.7,240.3 391.72,240.29 392.74,240.28 393.77,240.27 394.79,240.26 395.81,240.25 396.83,240.24 397.85,240.23 398.88,240.23 399.9,240.22 400.92,240.21 401.94,240.2 402.96,240.19 403.98,240.18 405.01,240.17 406.03,240.16 407.05,240.15 408.07,240.14 409.09,240.13 410.12,240.12 411.14,240.11 412.16,240.1 413.18,240.09 414.2,240.08 415.22,240.07 416.25,240.07 417.27,240.06 418.29,240.05 419.31,240.04 420.33,240.03 421.36,240.02 422.38,240.01 423.4,240 424.4,240.3 425.4,238.95 426.4,239.52 427.4,238.74 428.4,239.36 429.4,238.28 430.4,238.2 431.52,238.27 432.64,236.95 433.76,237.1 434.88,235.78 436,235.9 437.23,237.4 438.47,237.08 439.7,238.2 440.7,238.86 441.7,238.32 442.7,239.33 443.7,238.56 444.7,239.3 445.7,238.66 446.7,239.4 447.88,239.4 449.05,237.98 450.22,237.94 451.4,237.1 452.57,235.62 453.75,235.92 454.93,233.98 456.1,233.6 457.26,233.8 458.42,231.96 459.58,232.68 460.74,231.12 461.9,231.2 463.06,231.62 464.22,230.8 465.38,232.19 466.54,230.8 467.7,231.2 468.88,231.91 470.05,230.21 471.22,231.35 472.4,230.1 473.7,227.47 475,225.8 476.17,225.99 477.33,223.6 478.5,224 479.7,223.01 480.9,219.19 482.1,218.7 483.4,216.56 484.7,212.5 486.05,213.19 487.4,215.1 488.3,219.21 489.2,220.4 490.37,217.68 491.53,217.63 492.7,215.1 493.77,212.5 494.83,213.07 495.9,209.8 497.15,200.25 498.4,195.7 499.43,203.24 500.47,207.14 501.5,215.1 502.85,215.61 504.2,213.4 505.35,208.17 506.5,206.3 507.5,213.4 508.5,215.41 509.5,222.2 510.6,225.85 511.7,226.4 512.8,230.77 513.9,232.8 514.91,233.17 515.93,234.99 516.94,234.4 517.96,236.29 518.97,236.07 519.99,237.77 521,238.1 522.06,238.15 523.12,239.32 524.18,238.79 525.24,240.11 526.3,239.9 527.41,239.1 528.52,239.4 529.64,238.31 530.75,238.56 531.86,237.42 532.98,237.77 534.09,236.28 535.2,236.4 536.26,236.56 537.32,235.1 538.38,235.56 539.44,234.17 540.5,235.21 541.56,233.47 542.62,234.57 543.68,233.09 544.74,233.55 545.8,232.8 546.98,231.86 548.16,232.07 549.34,230.54 550.52,231.25 551.7,230 552.8,229.78 553.9,231.33 555,229.66 556.1,231.51 557.2,229.67 558.3,230.8 559.43,229.77 560.57,226.93 561.7,226.7 562.9,226.4 564.1,223.99 565.3,223.3 566.3,225.78 567.3,224.21 568.3,226.7 569.3,228.53 570.3,227.2 571.3,229.26 572.3,228.19 573.3,230 574.3,230.72 575.3,229.77 576.3,231.71 577.3,230.72 578.3,231.7 579.42,232.9 580.53,231.3 581.65,233.08 582.77,231.3 583.88,233.01 585,232.5 586.1,231.39 587.2,232.25 588.3,231.7 589.55,233.36 590.8,236.7 591.85,236.69 592.9,235.04 593.95,235.68 595,234.2 596.1,230.72 597.2,229.8 598.3,226.7 599.15,222.28 600,220.7 601.17,220.6 602.33,218 603.5,218.4 604.95,219.22 606.4,216.6 607.55,218.09 608.7,220.7 610.15,220.96 611.6,220.1 612.77,220.75 613.93,223.54 615.1,224.2 616.27,224.2 617.43,226.21 618.6,226.5 619.77,226.71 620.93,229.86 622.1,230 623.4,224.89 624.7,221.9 625.7,227.24 626.7,230 627.87,230.46 629.03,232.06 630.2,232.3 631.37,231.23 632.53,232.14 633.7,231.2 634.88,229.45 636.05,230.27 637.23,228.25 638.4,227.7 639.57,227.96 640.73,226.1 641.9,226.5 643.35,226.98 644.8,225.9 645.65,227.02 646.5,230 647.67,231.73 648.83,231.9 650,233.5 651.17,234.57 652.35,233.84 653.53,235.82 654.7,235.8 655.85,235.84 657,237.71 658.15,237.45 659.3,238.7 660.47,239.1 661.65,238.48 662.83,239.61 664,239.3 665,239.06 666,240.18 667,239.29 668,240.3 669,240" fill="none" stroke="#00ff00" stroke-width="1.25" stroke-linejoin="round" stroke-linecap="round"/>
<polyline points="390.7,240.3 391.77,240.28 392.83,240.25 393.9,240.23 394.97,240.2 396.03,240.18 397.1,240.15 398.17,240.12 399.23,240.1 400.3,240.07 401.37,240.05 402.43,240.03 403.5,240 404.51,239.97 405.53,239.94 406.54,239.92 407.56,240.05 408.57,239.49 409.58,240.01 410.6,239.62 411.61,239.94 412.62,239.21 413.64,239.96 414.65,239.18 415.67,239.83 416.68,239.42 417.69,240.16 418.71,239.27 419.72,239.71 420.74,239.3 421.75,239.72 422.76,238.9 423.78,240.05 424.79,238.88 425.81,239.64 426.82,239.02 427.83,239.81 428.85,239.13 429.86,239.72 430.88,238.67 431.89,239.68 432.9,238.75 433.92,239.75 434.93,238.9 435.94,239.34 436.96,238.84 437.97,239.24 438.99,238.6 440,239 441,239.38 442,238.51 443,239.42 444,238.43 445,239.38 446,238.37 447,239.36 448,238.31 449,239.25 450,238.4 451,238.96 452,237.94 453,239.06 454,238.16 455,238.61 456,237.77 457,238.65 458,237.86 459,238.87 460,237.63 461,238.51 462,237.95 463,238.35 464,237.9 465,238.63 466,237.5 467,238.16 468,237.61 469,238.45 470,237.19 471,238.4 472,237.49 473,238.38 474,237.37 475,237.87 476,237.45 477,237.87 478,237.23 479,238.21 480,237.5 481,237.1 482,238.33 483,237.14 484,238.29 485,237.53 486,238.54 487,237.68 488,238.37 489,237.62 490,238.91 491,238 492,238.69 493,237.85 494,238.93 495,238.32 496,238.93 497,238.35 498,239.36 499,238.48 500,239 501,239.26 502,238.83 503,239.59 504,238.79 505,239.65 506,238.85 507,239.64 508,238.84 509,239.37 510,238.79 511,239.49 512,238.6 513,239.57 514,238.77 515,239.75 516,238.9 517,239.71 518,238.64 519,239.53 520,238.67 521,239.72 522,239.01 523,239.53 524,238.9 525,239.57 526,238.69 527,239.67 528,239.03 529,239.83 530,238.88 531,239.56 532,238.84 533,239.79 534,238.98 535,239.78 536,239.13 537,239.81 538,238.84 539,239.54 540,239.09 541,239.58 542,239.15 543,239.97 544,239.14 545,239.83 546,238.89 547,239.96 548,238.88 549,239.93 550,238.98 551,239.64 552,239.17 553,239.85 554,238.95 555,239.68 556,239.03 557,239.8 558,239.09 559,239.85 560,239.5 561,239.33 562,239.72 563,238.98 564,240.07 565,239.02 566,239.86 567,238.99 568,239.91 569,239.07 570,239.98 571,239.04 572,239.97 573,238.93 574,239.66 575,238.9 576,239.92 577,239.01 578,239.62 579,239.09 580,239.75 581,239.16 582,239.95 583,239.12 584,239.59 585,238.9 586,239.91 587,238.9 588,239.89 589,239.18 590,239.56 591,239.15 592,239.69 593,238.9 594,239.83 595,239.02 596,239.76 597,238.9 598,239.85 599,238.94 600,239.3 601,239.4 602,238.11 603,238.42 604,237.02 605,237.63 606,236.29 607,236.4 608.03,236.95 609.07,235.91 610.1,236.91 611.13,235.5 612.17,236.73 613.2,235.4 614.23,236.34 615.27,235.55 616.3,235.8 617.35,236.44 618.4,235.06 619.45,235.83 620.5,234.78 621.55,235.9 622.6,234.73 623.65,235.46 624.7,234.7 625.8,234.34 626.9,236.14 628,235.51 629.1,236.5 630.2,236.4 631.23,235.57 632.25,236.67 633.27,235.68 634.3,236.71 635.33,235.4 636.35,236.52 637.38,235.61 638.4,235.8 639.56,236.23 640.72,234.8 641.88,235.79 643.04,234.8 644.2,235.2 645.35,236.39 646.5,236.04 647.65,237.71 648.8,237.6 649.98,237.39 651.16,238.63 652.34,238.23 653.52,239.52 654.7,239.3 655.72,238.9 656.74,239.82 657.76,239.25 658.79,239.72 659.81,239.33 660.83,240.07 661.85,239.16 662.87,240.2 663.89,239.55 664.91,240.3 665.94,239.61 666.96,239.9 667.98,239.95 669,240" fill="none" stroke="#0000ff" stroke-width="1.25" stroke-linejoin="round" stroke-linecap="round"/>
<polyline points="390.7,240.3 391.7,240.29 392.71,240.28 393.71,240.27 394.71,240.26 395.72,240.26 396.72,240.25 397.72,240.24 398.73,240.23 399.73,240.22 400.73,240.21 401.74,240.2 402.74,240.19 403.74,240.18 404.75,240.17 405.75,240.17 406.75,240.16 407.76,240.15 408.76,240.14 409.76,240.13 410.77,240.12 411.77,240.11 412.77,240.1 413.78,240.09 414.78,240.08 415.78,240.08 416.79,240.07 417.79,240.06 418.79,240.05 419.8,240.04 420.8,240.03 421.8,240.02 422.81,240.01 423.81,240 424.81,239.99 425.82,239.99 426.82,239.98 427.82,239.97 428.83,239.96 429.83,239.95 430.83,239.94 431.84,239.93 432.84,239.92 433.84,239.91 434.85,239.9 435.85,240.3 436.86,239.35 437.86,240.3 438.86,239.31 439.87,240.12 440.87,239.67 441.87,240.3 442.88,239.49 443.88,240.02 444.88,239.63 445.89,240.24 446.89,239.42 447.89,240.07 448.9,239.52 449.9,240.3 450.9,239.18 451.91,240.13 452.91,239.22 453.91,239.98 454.92,239.34 455.92,240.12 456.92,239.46 457.93,240.11 458.93,239.31 459.93,239.85 460.94,239.43 461.94,240.02 462.94,239.42 463.95,240.07 464.95,239.17 465.95,239.86 466.96,239.23 467.96,239.83 468.96,239.38 469.97,239.81 470.97,239.36 471.97,239.76 472.98,239.4 473.98,239.99 474.98,239.31 475.99,239.89 476.99,239.25 477.99,239.98 479,239.23 480,239.5 481,239.75 482,239.14 483,239.79 484,238.61 485,239.58 486,238.25 487,239.45 488,238.14 489,238.89 490,237.96 491,238.7 492,237.72 493,238.59 494,237.66 495,238 496.17,236.47 497.33,233.74 498.5,232.8 499.75,235.5 501,237 502.1,236.41 503.2,236.69 504.3,235.59 505.4,236.37 506.5,235.5 507.67,236.19 508.83,238.04 510,238.5 511,238.2 512,239.23 513,238.24 514,239.17 515,238.69 516,239.52 517,238.59 518,239.82 519,239.07 520,239.5 521,239.92 522,239.12 523,239.88 524,239.2 525,239.74 526,239.1 527,239.75 528,239.14 529,239.74 530,239.1 531,239.87 532,239.36 533,240 534,239.34 535,239.98 536,239.1 537,239.8 538,239.11 539,239.82 540,239.17 541,239.95 542,239.22 543,239.86 544,239.24 545,240.22 546,239.11 547,240.06 548,239.32 549,239.8 550,239.46 551,240.22 552,239.45 553,240.15 554,239.21 555,239.84 556,239.1 557,239.9 558,239.32 559,240.1 560,239.28 561,240.02 562,239.53 563,239.93 564,239.4 565,240.28 566,239.22 567,239.95 568,239.17 569,240.07 570,239.47 571,240.09 572,239.17 573,240.1 574,239.23 575,240.13 576,239.49 577,239.97 578,239.49 579,240.3 580,239.36 581,240.09 582,239.31 583,239.97 584,239.42 585,240.29 586,239.49 587,239.99 588,239.45 589,240.08 590,239.62 591,240.3 592,239.3 593,240.3 594,239.35 595,240.3 596,239.32 597,240.08 598,239.37 599,240.27 600,239.9 601.05,239.31 602.11,240.02 603.16,238.99 604.22,239.72 605.27,239.01 606.33,239.8 607.38,238.51 608.44,239.37 609.49,238.36 610.55,239 611.6,238.7 612.61,238.24 613.62,239.2 614.62,237.97 615.63,238.93 616.64,237.91 617.65,238.72 618.65,237.48 619.66,238.54 620.67,237.39 621.68,238.22 622.68,237.45 623.69,237.9 624.7,237.6 625.72,237.25 626.74,238.22 627.76,237.25 628.78,238.07 629.8,237.24 630.82,238.4 631.84,237.44 632.86,238.36 633.88,237.59 634.9,238.1 635.93,238.54 636.97,237.28 638,237.96 639.03,237.27 640.07,238.11 641.1,236.91 642.13,237.52 643.17,236.6 644.2,237 645.2,238.03 646.2,237.27 647.2,238.56 648.2,237.99 649.2,239.07 650.2,238.56 651.2,239.3 652.25,239.6 653.29,239 654.34,239.73 655.39,239.02 656.44,239.69 657.48,239.32 658.53,240.01 659.58,239.39 660.62,240.11 661.67,239.26 662.72,240.08 663.76,239.48 664.81,240.2 665.86,239.71 666.91,239.92 667.95,239.96 669,240" fill="none" stroke="#00ffff" stroke-width="1.25" stroke-linejoin="round" stroke-linecap="round"/>
<polyline points="390.7,240.3 391.72,240.27 392.74,240.24 393.77,240.22 394.79,240.19 395.81,240.16 396.83,240.13 397.85,240.1 398.88,240.08 399.9,240.05 400.92,240.02 401.94,239.99 402.96,239.96 403.98,239.93 405.01,239.91 406.03,240.13 407.05,239.47 408.07,240.15 409.09,239.23 410.12,240.18 411.14,239.5 412.16,239.88 413.18,239.1 414.2,240.18 415.22,239.19 416.25,240.12 417.27,239.18 418.29,239.96 419.31,239.11 420.33,239.9 421.36,239.28 422.38,239.79 423.4,239.4 424.4,238.63 425.4,238.91 426.4,237.74 427.4,238.63 428.4,237.08 429.4,237.71 430.4,237.1 431.52,236.14 432.64,236.17 433.76,234.69 434.88,234.68 436,233.6 437.23,233.69 438.47,236.07 439.7,236.5 440.7,236.72 441.7,237.81 442.7,237.28 443.7,238.79 444.7,238.08 445.7,239.53 446.7,239.4 447.88,238.79 449.05,239.17 450.22,238.01 451.4,238.2 452.57,238.33 453.75,236.35 454.93,236.98 456.1,235.9 457.1,235.66 458.1,236.18 459.1,235.5 460.1,236.36 461.1,235.5 462.1,236.27 463.1,235.9 464.1,235.24 465.1,236.11 466.1,234.63 467.1,235.98 468.1,234.42 469.1,235.43 470.1,234.7 471.33,233.69 472.55,234.69 473.77,232.42 475,232.8 476.06,232.6 477.12,230.48 478.18,231.39 479.24,229.58 480.3,229.3 481.31,229.78 482.33,226.95 483.34,227.72 484.36,225.86 485.37,226.18 486.39,223.71 487.4,224 488.46,223.6 489.52,218.99 490.58,220.02 491.64,215.01 492.7,215.1 493.87,211.86 495.03,203.13 496.2,201 497.3,198.04 498.4,190.4 499.43,193.19 500.47,203.6 501.5,206.3 502.85,202.59 504.2,201 505.35,199.71 506.5,195.7 507.55,198.45 508.6,204.5 509.8,207.55 511,207.76 512.2,211.6 513.26,214.84 514.32,213.78 515.38,217.12 516.44,216.5 517.5,218.7 518.6,222.06 519.7,221.63 520.8,225.21 521.9,225.8 523.07,227.71 524.23,231.57 525.4,232.8 526.75,230.22 528.1,229.3 529.16,227.96 530.22,223.84 531.28,223.85 532.34,219.91 533.4,218.7 534.46,217.39 535.52,212.54 536.58,213.39 537.64,208.7 538.7,208 539.76,207.07 540.82,200.45 541.88,199.84 542.94,192.51 544,192.1 545.08,192.98 546.15,189.6 547.22,193.45 548.3,190 549.43,186.86 550.57,188.5 551.7,183.3 552.8,178.95 553.9,179.9 555,176.7 556.25,172.15 557.5,170.8 558.35,186.25 559.2,198.3 560,189.65 560.8,183.3 561.65,174.86 562.5,163.3 563.35,154.16 564.2,146.7 564.75,145 565.3,137.5 566,140.83 566.7,150 567.5,164.47 568.3,173.3 569.15,179.57 570,191.7 570.85,199.29 571.7,201.7 572.8,201.36 573.9,206.13 575,206.7 576.1,206.3 577.2,210.2 578.3,210 579.43,211.06 580.57,213.95 581.7,215 582.8,214.6 583.9,217.96 585,216.7 586.25,203.7 587.5,195 588.35,208.34 589.2,216.7 590.45,220.66 591.7,226.7 592.8,228.15 593.9,226.58 595,228.3 596.1,227.78 597.2,224.14 598.3,223.3 599.15,223.58 600,221.9 601.17,221.76 602.33,224.09 603.5,223 604.67,222.6 605.83,224.74 607,224.2 608.15,223.8 609.3,226.06 610.45,225.53 611.6,226.5 612.77,227.49 613.95,226.91 615.12,229.07 616.3,228.8 617.45,228.4 618.6,230.98 619.75,229.65 620.9,231.2 622.17,229.53 623.43,224.6 624.7,223 625.45,227.89 626.2,231.2 627.2,230.86 628.2,233.15 629.2,232.83 630.2,234.1 631.38,234.66 632.55,233.1 633.73,234.08 634.9,233.5 635.94,232.71 636.98,233.14 638.02,231.66 639.06,232.01 640.1,231.2 641.27,230.8 642.43,232.39 643.6,232.3 644.62,232.27 645.65,234.65 646.68,234.12 647.7,235.8 648.85,236.73 650,236.54 651.15,238.46 652.3,238.7 653.46,238.48 654.62,239.54 655.78,238.96 656.94,239.89 658.1,239.9 659.19,239.94 660.28,239.98 661.37,240.02 662.46,240.06 663.55,240.1 664.64,240.14 665.73,240.18 666.82,240.22 667.91,240.26 669,240.3" fill="none" stroke="#ff00ff" stroke-width="1.25" stroke-linejoin="round" stroke-linecap="round"/>
<polyline points="60.5,544.5 61.1,544.3 62.2,541.62 63.3,538.3 64.4,535.08 65.5,532.8 66.55,534.1 67.6,533.9 68.7,529.3 69.8,526.3 71.2,521.86 72.6,515.4 73.4,517.76 74.2,520.8 75,524.84 75.8,527.9 76.65,522.24 77.5,518.6 78.3,514.88 79.1,509.9 80.2,505.55 81.3,503.3 82.1,500.06 82.9,495.7 84.3,492 85.7,490.2 86.8,493.5 87.85,490.83 88.9,485.3 90.3,485.02 91.7,487 92.8,489.58 93.9,489.1 94.7,486.32 95.5,484.8 96.3,481.82 97.1,477.1 97.95,478.75 98.8,481.5 99.6,487.05 100.4,491.3 101.5,503.3 102.6,514.3 103.7,518.6 104.5,514.99 105.3,513.2 106.15,513.74 107,512.1 107.8,513.26 108.6,515.4 109.4,513.51 110.2,509.9 111.3,507.84 112.4,506.6 114.05,506.3 115.7,504.4 116.8,497.58 117.9,493.5 118.7,487.39 119.5,478.2 120.6,473.9 121.4,474.52 122.2,477.1 123.3,488 124.4,497.9 125.15,508.72 125.9,518.6 126.55,511.42 127.2,505.5 128.3,494.6 129.05,491.58 129.8,487.4 130.75,487.85 131.7,491.2 132.65,480.57 133.6,466.5 134.55,457.44 135.5,450.3 136.45,459.78 137.4,466.5 138.35,477.05 139.3,489.3 140.2,495 141.15,482.31 142.1,466.5 143.05,447.82 144,430.4 145,419 145.95,424.28 146.9,428.5 147.55,436.68 148.2,447.5 149.45,444.56 150.7,439.9 152.1,435.17 153.5,432.3 154.25,417.74 155,401.8 156.15,384.88 157.3,371.4 158.45,378.09 159.6,382.8 160.85,386.35 162.1,392.3 163.7,383 165.3,372.4 166.05,378.09 166.8,386.6 167.75,399.27 168.7,409.4 169.65,427.82 170.6,447.5 171.55,445.15 172.5,441.8 173.65,447.7 174.8,457 175.55,469.7 176.3,479.8 178.2,480.91 180.1,485.5 181.55,493.63 183,500.7 184.4,497.71 185.8,496.9 187.75,507.1 189.7,515.9 191.1,513.06 192.5,512.1 193.95,511.17 195.4,508.3 196.35,494.6 197.3,481.7 198.7,474.3 200.1,464.6 201.15,466.4 202.2,471.2 203.5,458.51 204.8,444.7 205.75,439.76 206.7,437.5 207.9,445.37 209.1,450.7 209.95,446.83 210.8,444.7 212,429.27 213.2,411 214.4,394.93 215.6,382.2 216.45,395.73 217.3,406.2 218.5,398.46 219.7,394.2 220.9,381.14 222.1,366.6 223.1,364.8 224,361.8 224.3,348.4 224.6,333.3 224.9,324.1 225.5,320.8 226.4,320.5 227.3,319.3 227.9,324.1 228.5,330.2 229.4,336.3 230,348.4 230.6,360.6 230.9,372 231.7,390.91 232.5,411 233.35,434.4 234.2,454.3 235.15,446.59 236.1,442.3 237.3,447.02 238.5,449.5 239.7,446.77 240.9,447.1 242.1,450.43 243.3,451.9 244.5,448.35 245.7,447.1 246.9,458.15 248.1,466.4 249.55,481.52 251,497.6 252.55,489.64 254.1,478.4 255.3,471.98 256.5,468.8 257.7,465.64 258.9,459.1 260.1,450.73 261.3,444.7 262.4,442.87 263.5,438.9 264.25,430.79 265,426.2 265.75,427.85 266.5,427 267.25,427.13 268,430 268.75,436.62 269.5,441.9 270.4,444.95 271.3,450.9 272.05,457.87 272.8,462.9 273.55,457.32 274.3,453.9 275.05,453.75 275.8,450.9 276.4,448.44 277,447.9 277.9,444.81 278.8,438.9 279.75,427.59 280.7,419.5 281.45,427.06 282.2,432.9 283.35,438.6 284.5,447.9 285.1,454.19 285.7,456.9 286.45,451.61 287.2,447.9 288.1,455.13 289,459.9 289.9,470.14 290.8,482.4 291.75,473.43 292.7,462.9 293.45,453.52 294.2,446.4 294.95,446.2 295.7,443.4 296.45,443.68 297.2,444.9 298.2,446.4 298.95,440.69 299.7,432.9 300.45,435.73 301.2,440.4 301.95,454.95 302.7,467.4 303.45,476.9 304.2,489.9 304.95,499.32 305.7,506.3 306.7,506.51 307.7,509.3 308.8,514.32 309.9,518.3 310.65,521.19 311.4,525.8 312.15,529.34 312.9,531.8 314.05,532.37 315.2,534 316.3,536.36 317.4,537.8 318.55,538.35 319.7,540 320.8,539.53 321.9,537.8 323.05,538.81 324.2,540.8" fill="none" stroke="#000000" stroke-width="1.35" stroke-linejoin="round" stroke-linecap="round"/>
<polyline points="60.5,544.8 61.35,544.25 62.2,543.7 62.86,542.74 63.52,536.28 64.18,537.21 64.84,530.2 65.5,530.6 66.3,536.28 67.1,538.3 67.9,534.6 68.7,535 69.55,541.04 70.4,542.7 71.08,536.51 71.75,536.66 72.42,527.78 73.1,527.4 73.9,537.22 74.7,541.6 75.55,540.56 76.4,540.5 77.08,537.86 77.75,526.13 78.42,529.43 79.1,518.6 79.83,520.23 80.57,535.16 81.3,536.1 82.03,519.04 82.77,521.8 83.5,502.2 84.3,514.05 85.1,530.6 85.95,526.76 86.8,509.9 87.6,510.39 88.4,523 89.2,522.51 90,516.4 90.73,516 91.47,526.39 92.2,521.9 92.88,521.5 93.55,530.75 94.23,523.11 94.9,527.4 95.75,524.75 96.6,514.3 97.4,504 98.2,504.4 99.05,519.09 99.9,525.2 100.7,529.34 101.5,536.1 102.3,540.58 103.1,539.4 103.83,530.42 104.57,531.83 105.3,518.6 106.15,523.41 107,536.1 107.7,538.62 108.4,535.7 109.1,538.3 109.83,536.33 110.57,523.92 111.3,523 112.03,532.61 112.77,529.84 113.5,538.3 114.23,535.69 114.97,527.35 115.7,524.1 116.43,529.6 117.17,527.55 117.9,535 118.63,533.87 119.37,522.45 120.1,520.8 120.8,529.47 121.5,528.13 122.2,538.3 122.86,539.62 123.52,538.52 124.18,541.51 124.84,538.33 125.5,540.5 126.14,541.25 126.79,540.1 127.43,541.86 128.07,540.1 128.71,541.7 129.36,540.1 130,540.5 130.62,541.96 131.25,540.1 131.88,541.36 132.5,540.1 133.12,542.56 133.75,540.32 134.38,541.75 135,540.1 135.62,542.82 136.25,540.1 136.88,541.68 137.5,540.1 138.12,542.52 138.75,540.1 139.38,542.48 140,541.5 140.61,540.6 141.21,542.3 141.82,540.6 142.42,543 143.03,540.6 143.64,541.9 144.24,540.6 144.85,542.63 145.45,540.6 146.06,543.08 146.67,540.6 147.27,542.49 147.88,540.6 148.48,542.26 149.09,540.6 149.7,542.6 150.3,540.6 150.91,542.97 151.52,540.6 152.12,542.82 152.73,540.6 153.33,542.49 153.94,540.6 154.55,542.16 155.15,540.6 155.76,542.58 156.36,540.6 156.97,542.51 157.58,540.6 158.18,541.81 158.79,540.6 159.39,542.71 160,541 160.61,540.6 161.21,542.83 161.82,540.6 162.42,542.68 163.03,540.6 163.64,542.01 164.24,540.6 164.85,542.77 165.45,540.6 166.06,541.96 166.67,540.6 167.27,542.76 167.88,540.6 168.48,542.8 169.09,540.6 169.7,541.91 170.3,540.6 170.91,542.36 171.52,540.6 172.12,542.95 172.73,540.6 173.33,542.28 173.94,540.6 174.55,542.42 175.15,540.89 175.76,542.97 176.36,540.6 176.97,542.08 177.58,540.6 178.18,542.42 178.79,540.6 179.39,542.72 180,541.5 180.61,541.1 181.21,542.25 181.82,541.1 182.42,542.27 183.03,541.1 183.64,542.43 184.24,541.1 184.85,542.92 185.45,541.21 186.06,543.05 186.67,541.1 187.27,543.57 187.88,541.63 188.48,543.43 189.09,541.1 189.7,543.61 190.3,541.84 190.91,543.2 191.52,541.4 192.12,543.7 192.73,542 193.33,543.71 193.94,541.57 194.55,543.52 195.15,542.05 195.76,544 196.36,542.08 196.97,543.99 197.58,542.2 198.18,544.3 198.79,542.68 199.39,543.78 200,543.3 200.6,542.73 201.2,543.57 201.8,541.71 202.4,543.69 203,542.01 203.6,543.84 204.2,542.02 204.8,543.51 205.4,541.31 206,543.61 206.6,541.46 207.2,542.45 207.8,540.66 208.4,543.26 209,540.5 209.6,542.46 210.2,540.5 210.8,541.71 211.4,540.5 212,540.9 212.6,541.49 213.21,539.57 213.81,542.22 214.42,539.45 215.03,541.83 215.63,539.3 216.23,541.24 216.84,539.6 217.44,541.25 218.05,539.68 218.66,542.22 219.26,539.3 219.87,541.07 220.47,539.3 221.07,541.46 221.68,539.3 222.28,541.52 222.89,539.3 223.5,541.63 224.1,539.7 224.7,538.44 225.3,540.78 225.9,537.56 226.5,541.64 227.1,537.99 227.7,541.36 228.3,537.79 228.9,540.12 229.5,536.9 230.1,541.06 230.7,537.34 231.3,539.8 231.9,537.28 232.5,540.8 233.1,536.9 233.7,540.68 234.3,536.9 234.9,538.84 235.5,536.9 236.1,537.3 236.7,538.41 237.3,536.9 237.9,538.77 238.5,536.9 239.1,539.62 239.7,536.9 240.3,539.16 240.9,536.9 241.5,539.72 242.1,536.9 242.7,539.87 243.3,536.9 243.9,540.41 244.5,536.9 245.1,540.82 245.7,536.9 246.3,539.77 246.9,537.11 247.5,539.26 248.1,538.5 248.7,536.9 249.3,540.38 249.9,536.9 250.5,539.29 251.1,537.24 251.7,540.78 252.3,536.9 252.9,540.01 253.5,537.03 254.1,539.56 254.7,536.9 255.3,540.27 255.9,536.9 256.5,539.11 257.1,536.9 257.7,540.32 258.3,536.9 258.9,540.09 259.5,536.9 260.1,537.3 260.73,538.98 261.37,536.9 262,537.8 262.6,538.9 263.2,535.52 263.8,538.17 264.4,534.4 265,534.8 265.6,538.16 266.2,535.69 266.8,538.96 267.4,535.77 268,539.3 268.6,539.01 269.2,534.74 269.8,538.42 270.4,533.18 271,533.3 271.6,537.85 272.2,532.9 272.8,536.4 273.4,532.97 274,536.3 274.6,537 275.2,531.73 275.8,536.19 276.4,531.4 277,531.8 277.62,532.66 278.23,526.43 278.85,532.93 279.47,525.73 280.08,531.5 280.7,525.8 281.3,525.4 281.9,531.9 282.5,526.51 283.1,537.32 283.7,534.8 284.3,531.57 284.9,534.91 285.5,528.4 286.1,534.81 286.7,528.8 287.3,528.4 287.9,535.13 288.5,531.14 289.1,534.98 289.7,534.8 290.3,529.17 290.9,532.68 291.5,525.82 292.1,530.05 292.7,525.8 293.3,525.4 293.9,531.92 294.5,527.34 295.1,535.36 295.7,534.8 296.3,531.9 296.9,533.41 297.5,526.9 298.1,533.08 298.7,527.3 299.3,526.9 299.9,532.26 300.5,526.9 301.1,535.46 301.7,531.8 302.32,531.4 302.93,537.6 303.55,534.45 304.17,538.91 304.78,538.66 305.4,540.8 306.04,542.75 306.69,540.63 307.33,543.03 307.97,541.03 308.61,542.81 309.26,541.38 309.9,542.3 310.5,543.66 311.1,541.9 311.7,543.52 312.3,541.9 312.9,543.73 313.5,541.9 314.1,543 314.7,541.9 315.3,543.56 315.9,541.9 316.5,543.31 317.1,541.9 317.7,543.81 318.3,542.32 318.9,543 319.53,543.69 320.17,542.7 320.8,543.58 321.43,542.6 322.07,544.37 322.7,542.6 323.33,544.31 323.97,542.76 324.6,543.5" fill="none" stroke="#ff0000" stroke-width="1.2" stroke-linejoin="round" stroke-linecap="round"/>
<polyline points="60.5,544.8 61.31,544.76 62.11,544.71 62.92,544.67 63.72,544.62 64.53,544.58 65.33,544.53 66.14,544.49 66.94,544.44 67.75,544.4 68.56,544.36 69.36,544.31 70.17,544.27 70.97,544.22 71.78,544.6 72.58,543.61 73.39,544.6 74.19,543.6 75,544 75.85,544.22 76.7,542.82 77.55,543.9 78.4,542.71 79.25,543.97 80.1,542.37 80.95,543.23 81.8,542.7 82.72,541.81 83.63,542.46 84.55,540.13 85.47,541.07 86.38,539 87.3,539.4 88.22,540.37 89.13,538.4 90.05,540.81 90.97,538.4 91.88,539.93 92.8,538.8 93.7,536.32 94.6,537.52 95.5,533.73 96.4,536.44 97.3,532.4 98.2,532.8 99.3,536.25 100.4,538.3 101.23,538.05 102.05,540.46 102.88,537.9 103.7,539.4 104.53,539.16 105.35,534.55 106.17,536.96 107,533.9 108.05,535.19 109.1,539.4 110.2,534.7 111.3,525.2 112.4,526 113.5,532.8 114.6,532.65 115.7,526.3 116.8,529.79 117.9,536.1 119,530.8 120.1,521.9 121.15,521.5 122.2,525.2 123.3,531.47 124.4,530.6 125,531.1 125.8,533.77 126.6,538.3 127.25,534.66 127.9,525.4 128.35,514.76 128.8,511 129.75,526.05 130.7,538.7 131.67,526.69 132.63,522.65 133.6,508.3 134.55,501.34 135.5,498.8 136.45,519.74 137.4,527.3 138.33,526.9 139.27,532.18 140.2,533 141.17,520.27 142.13,516.17 143.1,504.5 144.05,486.92 145,478.8 145.95,495.04 146.9,500.7 147.85,496.96 148.8,496.9 149.73,503.62 150.67,499.73 151.6,508.3 152.55,512.9 153.5,510.2 154.33,495.57 155.17,489.22 156,473.1 157.15,479.42 158.3,493.1 159.23,494.77 160.17,481.3 161.1,481.7 162.05,495.59 163,496.9 163.95,478.28 164.9,472.2 165.85,491 166.8,504.5 167.75,504.1 168.7,516.7 169.65,512.16 170.6,519.7 171.41,523.97 172.23,519.3 173.04,524.33 173.86,521.49 174.67,527.24 175.49,524.03 176.3,527.3 177.14,530.19 177.99,527.56 178.83,531.63 179.68,528.61 180.52,532.71 181.37,529.6 182.21,534.47 183.06,532.96 183.9,534.9 184.76,537.28 185.61,534.61 186.47,537.43 187.32,535.56 188.18,538.67 189.03,535.41 189.89,538.5 190.74,536.91 191.6,538.7 192.41,539.51 193.23,536.25 194.04,538.53 194.86,535.33 195.67,538.3 196.49,534.5 197.3,534.9 198,542.1 198.75,536.37 199.5,529.2 200.2,532.12 200.9,539.1 201.9,538.11 202.9,534.2 203.9,531.54 204.9,531.2 205.65,533.81 206.4,530.2 207.15,530.57 207.9,533.2 208.9,537.22 209.9,537.1 210.6,532.52 211.3,531.2 212.3,534.3 213.3,531.2 214.3,521.34 215.3,519.3 216.05,526.24 216.8,529.2 217.55,531.72 218.3,537.1 219.25,530.02 220.2,518.3 220.95,519.08 221.7,529.2 222.7,533.93 223.7,532.2 224.45,526.66 225.2,525.2 225.95,521.19 226.7,513.4 227.45,513 228.2,519.3 228.95,519.76 229.7,512.4 230.4,515.11 231.1,525.2 231.85,531.41 232.6,532.2 233.35,531.8 234.1,535.1 234.95,536.02 235.8,529.29 236.65,533.18 237.5,524.48 238.35,529.72 239.2,523 240.05,527.49 240.9,521.7 241.8,521.3 242.7,527.5 243.6,521.4 244.5,529.99 245.4,524.38 246.3,530.54 247.2,527.8 248.1,531.3 248.96,534.53 249.81,530.9 250.67,535.89 251.53,532.63 252.39,537.14 253.24,533.5 254.1,536.1 254.96,536.74 255.81,532.44 256.67,534.25 257.53,528.4 258.39,532.58 259.24,526.1 260.1,526.5 261.05,525.7 262,513.8 263.1,505.37 264.2,504.8 264.95,497.73 265.7,484.6 266.45,494.65 267.2,518.3 268.07,515.95 268.93,500.73 269.8,495.9 270.55,516.75 271.3,524.3 272.25,515.96 273.2,515.3 274.35,526.53 275.5,527.3 276.6,520.87 277.7,518.3 278.85,519.89 280,513.8 281.1,517.58 282.2,524.3 283.2,522.65 284.2,513.4 285.2,513.8 286.35,525.74 287.5,527.3 288.25,520.23 289,516.8 290.1,527.7 291.2,531.8 292.2,522.24 293.2,523.92 294.2,512.3 295.15,515.63 296.1,528.8 297.15,520.65 298.2,506.3 299.2,512.02 300.2,525.8 300.95,523.8 301.7,510.8 302.8,517.68 303.9,531.8 304.9,533.18 305.9,529.9 306.9,530.3 307.9,535.13 308.9,533.14 309.9,537.8 310.8,539.76 311.7,537.66 312.6,541.17 313.5,538.6 314.4,540.8 315.3,541.44 316.2,539.65 317.1,540.9 318,538.9 318.9,539.3 319.8,541 320.7,539.21 321.6,541.28 322.5,539.09 323.4,540.8 324,541.86 324.6,541" fill="none" stroke="#00ff00" stroke-width="1.2" stroke-linejoin="round" stroke-linecap="round"/>
<polyline points="60.5,544.8 61.31,544.79 62.11,544.78 62.92,544.76 63.73,544.75 64.53,544.74 65.34,544.73 66.14,544.72 66.95,544.71 67.76,544.69 68.56,544.68 69.37,544.67 70.18,544.66 70.98,544.65 71.79,544.64 72.59,544.62 73.4,544.61 74.21,544.6 75.01,544.59 75.82,544.58 76.63,544.57 77.43,544.55 78.24,544.54 79.05,544.53 79.85,544.52 80.66,544.51 81.46,544.5 82.27,544.48 83.08,544.47 83.88,544.46 84.69,544.45 85.5,544.44 86.3,544.43 87.11,544.41 87.91,544.4 88.72,544.39 89.53,544.38 90.33,544.37 91.14,544.35 91.95,544.34 92.75,544.33 93.56,544.32 94.36,544.31 95.17,544.3 95.98,544.28 96.78,544.27 97.59,544.26 98.4,544.25 99.2,544.24 100.01,544.23 100.82,544.21 101.62,544.2 102.43,544.6 103.23,543.69 104.04,544.39 104.85,543.66 105.65,544.6 106.46,543.36 107.27,544.6 108.07,543.54 108.88,544.6 109.68,543.36 110.49,544.6 111.3,543.72 112.1,544.41 112.91,543.52 113.72,544.53 114.52,543.45 115.33,544.6 116.14,543.24 116.94,544.6 117.75,543.26 118.55,544.41 119.36,543.31 120.17,544.6 120.97,543.34 121.78,544.52 122.59,543.56 123.39,544.38 124.2,543.32 125,544.6 125.81,543.1 126.62,544.15 127.42,543.1 128.23,544.18 129.04,543.43 129.84,544.35 130.65,543.4 131.45,544.56 132.26,543.1 133.07,544.27 133.87,543.44 134.68,544.42 135.49,543.2 136.29,544.47 137.1,543.33 137.91,544.29 138.71,543.1 139.52,544.53 140.32,543.1 141.13,543.99 141.94,543.37 142.74,544.16 143.55,543.1 144.36,544.35 145.16,543.27 145.97,543.96 146.77,543.1 147.58,543.92 148.39,543.1 149.19,544.43 150,543.5 150.8,543.07 151.6,543.95 152.4,543.02 153.2,543.67 154,542.47 154.8,543.98 155.6,542.72 156.4,544.22 157.2,542.97 158,543.99 158.8,542.71 159.6,543.74 160.4,542.44 161.2,543.96 162,542.66 162.8,543.6 163.6,542.67 164.4,543.89 165.2,542.54 166,543.54 166.8,542.21 167.6,543.75 168.4,542.74 169.2,543.79 170,542.7 170.8,543.38 171.6,542.18 172.4,543.47 173.2,542.14 174,543.9 174.8,542.25 175.6,543.92 176.4,542.37 177.2,543.78 178,541.97 178.8,543.54 179.6,542.33 180.4,543.4 181.2,541.68 182,543.22 182.8,542.06 183.6,543.51 184.4,542.12 185.2,543.73 186,541.9 186.8,543.07 187.6,541.72 188.4,543.38 189.2,541.6 190,543.5 190.8,541.6 191.6,543.56 192.4,541.6 193.2,543.54 194,541.6 194.8,543.39 195.6,541.85 196.4,543.06 197.2,541.6 198,543.02 198.8,541.94 199.6,543.41 200.4,541.6 201.2,543.34 202,541.6 202.8,543.17 203.6,541.6 204.4,543.23 205.2,541.62 206,543.27 206.8,541.6 207.6,542.61 208.4,541.6 209.2,543.07 210,542 210.8,541.1 211.6,543.16 212.4,541.31 213.2,542.62 214,541.49 214.8,542.85 215.6,541.1 216.4,542.43 217.2,541.1 218,542.32 218.8,541.1 219.6,542.26 220.4,541.25 221.2,542.56 222,541.1 222.8,542.9 223.6,541.1 224.4,542.65 225.2,541.1 226,542.3 226.8,541.1 227.6,542.09 228.4,541.1 229.2,542.37 230,541.5 230.81,541.1 231.62,542.7 232.43,541.25 233.24,542.49 234.05,541.1 234.86,542.28 235.68,541.1 236.49,542.51 237.3,541.1 238.11,543.1 238.92,541.48 239.73,542.39 240.54,541.1 241.35,543.3 242.16,541.32 242.97,543.34 243.78,541.19 244.59,543.34 245.41,541.62 246.22,543.45 247.03,541.89 247.84,542.69 248.65,542.1 249.46,543.62 250.27,541.61 251.08,543.43 251.89,542.1 252.7,543.28 253.51,541.79 254.32,543.41 255.14,541.75 255.95,543.37 256.76,542.38 257.57,543.57 258.38,542.27 259.19,543.54 260,543 260.81,542.6 261.62,543.49 262.42,542.6 263.23,543.38 264.04,542.6 264.85,543.6 265.65,542.6 266.46,543.82 267.27,542.6 268.07,544.08 268.88,542.6 269.69,543.96 270.5,542.6 271.31,543.6 272.11,542.76 272.92,543.63 273.73,542.81 274.54,543.99 275.34,542.82 276.15,543.63 276.96,542.61 277.76,543.75 278.57,542.84 279.38,543.92 280.19,542.6 281,543.59 281.8,542.6 282.61,544.3 283.42,542.74 284.23,543.77 285.03,542.96 285.84,544.1 286.65,542.68 287.45,544.08 288.26,542.63 289.07,543.89 289.88,543.02 290.69,544.12 291.49,543.17 292.3,544.11 293.11,543.18 293.92,543.98 294.72,543.2 295.53,544.05 296.34,542.77 297.14,544.43 297.95,543.31 298.76,543.98 299.57,542.77 300.38,544.11 301.18,543.37 301.99,544.13 302.8,542.74 303.61,544.17 304.41,543.09 305.22,544.14 306.03,542.88 306.84,543.96 307.64,542.87 308.45,544.04 309.26,543.48 310.06,544.6 310.87,543.01 311.68,544.33 312.49,543.04 313.3,544.17 314.1,542.95 314.91,544.42 315.72,543.01 316.53,544.58 317.33,543.32 318.14,544.32 318.95,543.65 319.75,544.48 320.56,543.4 321.37,544.41 322.18,543.75 322.99,544.54 323.79,543.49 324.6,544" fill="none" stroke="#0000ff" stroke-width="1.2" stroke-linejoin="round" stroke-linecap="round"/>
<polyline points="60.5,544.8 61.31,544.79 62.11,544.78 62.92,544.76 63.73,544.75 64.53,544.74 65.34,544.73 66.14,544.72 66.95,544.71 67.76,544.69 68.56,544.68 69.37,544.67 70.18,544.66 70.98,544.65 71.79,544.64 72.59,544.62 73.4,544.61 74.21,544.6 75.01,544.59 75.82,544.58 76.63,544.57 77.43,544.55 78.24,544.54 79.05,544.53 79.85,544.52 80.66,544.51 81.46,544.5 82.27,544.48 83.08,544.47 83.88,544.46 84.69,544.45 85.5,544.44 86.3,544.43 87.11,544.41 87.91,544.4 88.72,544.39 89.53,544.38 90.33,544.37 91.14,544.35 91.95,544.34 92.75,544.33 93.56,544.32 94.36,544.31 95.17,544.3 95.98,544.28 96.78,544.27 97.59,544.26 98.4,544.25 99.2,544.24 100.01,544.23 100.82,544.21 101.62,544.2 102.43,544.6 103.23,543.61 104.04,544.6 104.85,543.48 105.65,544.52 106.46,543.91 107.27,544.38 108.07,543.43 108.88,544.33 109.68,543.81 110.49,544.59 111.3,543.46 112.1,544.55 112.91,543.55 113.72,544.6 114.52,543.57 115.33,544.46 116.14,543.78 116.94,544.42 117.75,543.17 118.55,544.54 119.36,543.35 120.17,544.43 120.97,543.4 121.78,544.6 122.59,543.58 123.39,544.15 124.2,543.1 125,544.6 125.81,543.11 126.62,544.6 127.42,543.27 128.23,544.49 129.04,543.13 129.84,544.6 130.65,543.14 131.45,544.49 132.26,543.1 133.07,544.07 133.87,543.1 134.68,544.03 135.49,543.47 136.29,544.58 137.1,543.44 137.91,544.03 138.71,543.24 139.52,544.57 140.32,543.1 141.13,544.09 141.94,543.1 142.74,544.28 143.55,543.2 144.36,544.13 145.16,543.24 145.97,544.18 146.77,543.28 147.58,544.01 148.39,543.1 149.19,544.32 150,543.5 150.83,542.51 151.67,543.86 152.5,542.57 153.33,543.78 154.17,542.07 155,543.81 155.83,541.7 156.67,542.87 157.5,541.75 158.33,543.25 159.17,541.6 160,542 160.8,542.44 161.6,541.6 162.4,543.19 163.2,541.6 164,542.56 164.8,541.6 165.6,542.67 166.4,541.6 167.2,542.82 168,541.73 168.8,543.08 169.6,541.6 170.4,543.38 171.2,541.68 172,543.38 172.8,541.61 173.6,543.65 174.4,541.91 175.2,543.35 176,541.81 176.8,543.73 177.6,541.78 178.4,543.75 179.2,541.67 180,543.6 180.8,541.73 181.6,543.23 182.4,541.96 183.2,543.38 184,542.36 184.8,543.41 185.6,542.63 186.4,543.89 187.2,542.51 188,544.08 188.8,542.6 189.6,543.93 190.4,542.54 191.2,543.99 192,542.26 192.8,543.99 193.6,542.93 194.4,543.62 195.2,542.97 196,544.07 196.8,542.4 197.6,544.35 198.4,542.51 199.2,544.3 200,543.5 200.81,542.57 201.62,543.82 202.43,543.11 203.24,543.6 204.05,542.67 204.86,544 205.68,542.35 206.49,543.67 207.3,542.26 208.11,543.88 208.92,542.56 209.73,543.43 210.54,542.44 211.35,543.97 212.16,542.34 212.97,543.92 213.78,542.22 214.59,543.73 215.41,542.3 216.22,543.15 217.03,542.31 217.84,543.13 218.65,541.62 219.46,542.85 220.27,541.6 221.08,542.93 221.89,541.98 222.7,543.48 223.51,541.6 224.32,543.21 225.14,541.84 225.95,542.74 226.76,541.6 227.57,542.97 228.38,541.6 229.19,542.94 230,542 230.81,541.6 231.62,542.98 232.43,541.61 233.24,542.97 234.05,541.6 234.86,542.5 235.68,541.84 236.49,543.15 237.3,541.66 238.11,543.31 238.92,541.84 239.73,543.27 240.54,541.92 241.35,542.74 242.16,541.6 242.97,543.04 243.78,541.76 244.59,543.12 245.41,541.88 246.22,543.19 247.03,541.8 247.84,543.06 248.65,541.7 249.46,543.75 250.27,542.04 251.08,543.25 251.89,542.33 252.7,543.85 253.51,542.3 254.32,543.59 255.14,542.01 255.95,543.43 256.76,542.42 257.57,543.92 258.38,541.91 259.19,543.99 260,543 260.81,542.6 261.62,543.52 262.42,542.6 263.23,543.64 264.04,542.6 264.85,543.54 265.65,542.6 266.46,543.72 267.27,542.6 268.07,543.41 268.88,542.6 269.69,543.62 270.5,542.89 271.31,543.82 272.11,542.6 272.92,544.01 273.73,542.7 274.54,544 275.34,542.6 276.15,543.89 276.96,542.6 277.76,543.91 278.57,542.84 279.38,543.91 280.19,542.83 281,544.27 281.8,543 282.61,543.99 283.42,542.66 284.23,544.35 285.03,542.97 285.84,543.85 286.65,542.63 287.45,544.19 288.26,542.79 289.07,543.81 289.88,542.85 290.69,544.38 291.49,543.17 292.3,544.09 293.11,543.07 293.92,544.26 294.72,543.18 295.53,544.21 296.34,543.09 297.14,544.43 297.95,542.78 298.76,544.11 299.57,543.36 300.38,544.1 301.18,542.73 301.99,544.57 302.8,543.38 303.61,544.27 304.41,542.84 305.22,544.6 306.03,543.41 306.84,544.46 307.64,542.89 308.45,544.46 309.26,543.41 310.06,544.08 310.87,543.16 311.68,544.36 312.49,543.29 313.3,544.42 314.1,543.05 314.91,544.14 315.72,543.32 316.53,544.54 317.33,543.28 318.14,544.36 318.95,543.08 319.75,544.49 320.56,543.2 321.37,544.27 322.18,543.22 322.99,544.6 323.79,543.18 324.6,544" fill="none" stroke="#00ffff" stroke-width="1.2" stroke-linejoin="round" stroke-linecap="round"/>
<polyline points="60.5,544.8 61.31,544.79 62.12,544.78 62.92,544.77 63.73,544.76 64.54,544.75 65.35,544.74 66.16,544.73 66.97,544.73 67.77,544.72 68.58,544.71 69.39,544.7 70.2,544.69 71.01,544.68 71.81,544.67 72.62,544.66 73.43,544.65 74.24,544.64 75.05,544.63 75.85,544.62 76.66,544.61 77.47,544.6 78.28,544.6 79.09,544.59 79.9,544.58 80.7,544.57 81.51,544.56 82.32,544.55 83.13,544.54 83.94,544.53 84.74,544.52 85.55,544.51 86.36,544.5 87.17,544.49 87.98,544.48 88.78,544.47 89.59,544.47 90.4,544.46 91.21,544.45 92.02,544.44 92.83,544.43 93.63,544.42 94.44,544.41 95.25,544.4 96.06,544.39 96.87,544.38 97.67,544.37 98.48,544.36 99.29,544.35 100.1,544.34 100.91,544.33 101.72,544.33 102.52,544.32 103.33,544.31 104.14,544.3 104.95,544.29 105.76,544.28 106.56,544.27 107.37,544.26 108.18,544.25 108.99,544.24 109.8,544.23 110.6,544.22 111.41,544.21 112.22,544.2 113.03,544.56 113.84,543.6 114.65,544.6 115.45,543.83 116.26,544.6 117.07,543.6 117.88,544.6 118.69,543.76 119.49,544.6 120.3,543.6 121.11,544.59 121.92,543.64 122.73,544.53 123.53,543.75 124.34,544.47 125.15,543.6 125.96,544.6 126.77,543.6 127.58,544.32 128.38,543.6 129.19,544.6 130,544 130.8,542.92 131.6,543.97 132.4,542.94 133.2,543.58 134,542.63 134.8,543.8 135.6,542.1 136.4,542.5 137.24,542.69 138.09,540.85 138.93,542.03 139.78,538.51 140.62,540.65 141.47,537.06 142.31,538.89 143.16,536.83 144,536.8 144.84,537.43 145.69,535.47 146.53,537.31 147.38,535.34 148.22,537.82 149.07,534.5 149.91,536.93 150.76,534.5 151.6,534.9 152.44,536.98 153.29,531.81 154.13,534.95 154.98,532.36 155.82,534.68 156.67,530.7 157.51,533.28 158.36,530.7 159.2,531.1 160.01,532.04 160.83,527.23 161.64,528.47 162.46,523.38 163.27,526.96 164.09,521.2 164.9,521.6 165.85,525.65 166.8,522.11 167.75,528.86 168.7,527.3 169.51,526.9 170.33,530.17 171.14,526.9 171.96,530.96 172.77,529.05 173.59,533.01 174.4,531.1 175.24,530.7 176.09,533.04 176.93,530.7 177.78,532.41 178.62,530.7 179.47,534.15 180.31,530.7 181.16,533.39 182,531.1 182.81,530.7 183.63,535.2 184.44,532.15 185.26,536.26 186.07,533.62 186.89,536.84 187.7,536.8 188.56,535.06 189.41,538.33 190.27,535.33 191.12,536.92 191.98,534.87 192.83,536.89 193.69,534.5 194.54,537.37 195.4,534.9 196.2,534.5 197,537.1 198,538.72 199,536.1 199.95,532.91 200.9,531.2 201.9,536.72 202.9,537.1 203.9,531.17 204.9,527.2 205.65,524.07 206.4,515.3 207.15,514.9 207.9,519.3 208.65,527.43 209.4,531.2 210.1,530.8 210.8,534.2 211.55,526.3 212.3,509.4 213.05,509 213.8,511.4 214.55,512.16 215.3,507.4 216.05,507.64 216.8,519.3 217.8,516.08 218.8,499.5 219.25,480.89 219.7,475 220.1,467.12 220.5,449.2 221.1,451.78 221.7,467.8 222.3,464.01 222.9,456.4 223.3,441.89 223.7,437.8 224.3,443.18 224.9,436.2 225.3,446.7 225.7,430.7 226.1,424.1 226.8,405.9 227.5,424.1 228.2,451.6 228.6,445.6 229,426.5 229.6,435.4 230,451.6 230.4,450.4 230.8,450.8 231.4,467.8 232.1,484.7 232.6,499.48 233.1,504.5 233.6,512.19 234.1,529.2 235.1,505.86 236.1,476 236.9,487.06 237.7,510.25 238.5,516.9 239.3,503.06 240.1,507.21 240.9,495.2 241.7,498.69 242.5,512.2 243.3,516.9 244.5,506.64 245.7,502.5 246.5,514.19 247.3,516.55 248.1,526.5 248.9,530.03 249.7,527.47 250.5,533.51 251.3,530.3 252.1,533.54 252.9,533.7 253.7,531.12 254.5,535.71 255.3,531.26 256.1,534.21 256.9,530.9 257.7,533.93 258.5,530.9 259.3,532.88 260.1,531.3 261.05,524.16 262,524.3 262.75,530.15 263.5,527.3 264.4,526.9 265.3,533.69 266.2,529.56 267.1,535.43 268,534.8 268.86,534.4 269.71,536.96 270.57,534.4 271.43,535.63 272.29,534.4 273.14,535.85 274,534.8 274.86,533 275.71,536.14 276.57,531.59 277.43,535.31 278.29,531.4 279.14,534.96 280,531.8 280.9,531.4 281.8,535.24 282.7,533.4 283.6,537.79 284.5,537.8 285.33,537.4 286.17,539.86 287,537.4 287.83,538.73 288.67,537.4 289.5,538.64 290.33,537.4 291.17,538.39 292,537.8 292.86,536.06 293.71,538.82 294.57,535.18 295.43,536.99 296.29,534.4 297.14,536.86 298,534.8 298.86,534.4 299.71,537.95 300.57,534.44 301.43,539.54 302.29,536.47 303.14,540.17 304,539.3 304.8,538.9 305.6,541.32 306.4,539.1 307.2,541.14 308,539.41 308.8,541.62 309.6,540.29 310.4,541.89 311.2,540.55 312,542 312.84,542.51 313.68,541.6 314.52,542.76 315.36,542.07 316.2,542.92 317.04,541.6 317.88,543.25 318.72,542.26 319.56,543.89 320.4,542.67 321.24,543.51 322.08,542.2 322.92,544.08 323.76,542.55 324.6,543.5" fill="none" stroke="#ff00ff" stroke-width="1.2" stroke-linejoin="round" stroke-linecap="round"/>
<polyline points="60.5,544.8 61.4,544.24 62.3,544.14 63.2,542.58 64.1,543.65 65,542 65.83,541.6 66.67,542.86 67.5,541.6 68.33,542.95 69.17,542.12 70,543 70.83,543.29 71.67,542.28 72.5,542.99 73.33,542.08 74.17,543.3 75,541.63 75.83,542.77 76.67,541.37 77.5,542.8 78.33,541.18 79.17,542.51 80,541.5 80.83,541.1 81.67,543 82.5,541.1 83.33,542.82 84.17,541.1 85,542.61 85.83,541.95 86.67,543 87.5,542.17 88.33,543.67 89.17,542.03 90,543 90.83,543.47 91.67,542.1 92.5,543.35 93.33,542.1 94.17,543.81 95,542.1 95.83,543.37 96.67,542.1 97.5,543.27 98.33,542.1 99.17,542.85 100,542.5 100.8,542.1 101.6,543.41 102.4,542.1 103.2,542.99 104,542.1 104.8,543.73 105.6,542.11 106.4,543.68 107.2,542.34 108,542.98 108.8,542.1 109.6,543.71 110.4,542.4 111.2,543.77 112,542.39 112.8,543.37 113.6,542.37 114.4,543.73 115.2,542.29 116,543.97 116.8,542.1 117.6,543.75 118.4,542.1 119.2,543.94 120,543 120.8,542.12 121.6,543.81 122.4,542.66 123.2,543.89 124,542.15 124.8,543.95 125.6,542.1 126.4,543.33 127.2,542.12 128,543.45 128.8,542.34 129.6,543.19 130.4,542.1 131.2,543.31 132,542.31 132.8,543.53 133.6,542.1 134.4,543.44 135.2,542.1 136,543.14 136.8,542.1 137.6,543.54 138.4,542.18 139.2,543.1 140,542.5 140.8,542.14 141.6,543.24 142.4,541.84 143.2,542.66 144,541.72 144.8,543.1 145.6,540.85 146.4,543.26 147.2,541.07 148,542.41 148.8,541.12 149.6,542.74 150.4,540.6 151.2,542.25 152,540.69 152.8,542.25 153.6,541.09 154.4,542.76 155.2,540.99 156,541.82 156.8,540.6 157.6,542.58 158.4,540.6 159.2,541.69 160,541 160.83,540.01 161.67,541 162.5,538.3 163.33,540.48 164.17,538.3 165,538.7 165.83,540.66 166.67,538.47 167.5,541.88 168.33,540.35 169.17,542.35 170,542 170.81,541.6 171.62,543.02 172.43,541.66 173.24,542.86 174.05,541.6 174.86,543.14 175.68,541.91 176.49,543.28 177.3,541.66 178.11,543.33 178.92,541.9 179.73,542.96 180.54,541.6 181.35,543.55 182.16,541.6 182.97,543.26 183.78,542.36 184.59,543.69 185.41,542.08 186.22,543.14 187.03,541.94 187.84,543.72 188.65,541.97 189.46,543.27 190.27,541.98 191.08,543.96 191.89,542.49 192.7,543.46 193.51,542.23 194.32,544.22 195.14,542.82 195.95,543.79 196.76,542.54 197.57,543.76 198.38,542.47 199.19,544.14 200,543.5 200.8,543.22 201.6,544.02 202.4,542.68 203.2,543.83 204,543.16 204.8,543.73 205.6,542.74 206.4,543.68 207.2,542.96 208,543.98 208.8,542.79 209.6,543.77 210.4,542.94 211.2,544.02 212,542.6 212.8,543.9 213.6,542.6 214.4,544.29 215.2,542.66 216,544.02 216.8,542.6 217.6,543.59 218.4,542.6 219.2,543.9 220,542.6 220.8,543.89 221.6,542.83 222.4,544.19 223.2,542.6 224,543.72 224.8,542.6 225.6,544.05 226.4,542.6 227.2,544 228,542.6 228.8,544.17 229.6,542.6 230.4,544.11 231.2,542.6 232,543.53 232.8,542.6 233.6,543.68 234.4,542.73 235.2,543.38 236,542.6 236.8,543.63 237.6,542.6 238.4,544.03 239.2,542.6 240,543 240.81,543.86 241.63,542.11 242.44,543.42 243.26,542.32 244.07,543.67 244.89,541.93 245.7,543.8 246.52,541.89 247.33,543.16 248.15,541.6 248.96,542.9 249.78,542.09 250.59,543.63 251.41,541.6 252.22,543.25 253.04,541.88 253.85,543.51 254.67,541.76 255.48,543.14 256.3,541.92 257.11,543.11 257.93,541.6 258.74,542.63 259.56,541.6 260.37,542.58 261.19,541.67 262,542 262.8,542.86 263.6,540.99 264.4,542.32 265.2,541.06 266,542.16 266.8,540.44 267.6,541.62 268.4,539.95 269.2,541.87 270,540.11 270.8,541.57 271.6,539.6 272.4,541.15 273.2,539.6 274,540 274.88,540.49 275.75,539.6 276.62,541.06 277.5,539.6 278.38,541.02 279.25,539.6 280.12,540.99 281,540.5 281.82,540.1 282.64,541.64 283.45,540.27 284.27,541.61 285.09,540.1 285.91,541.93 286.73,541.07 287.55,542.18 288.36,540.92 289.18,542.38 290,542 290.83,541.05 291.67,542.73 292.5,540.88 293.33,542.6 294.17,540.87 295,542.54 295.83,541.01 296.67,541.96 297.5,540.78 298.33,542.19 299.17,540.6 300,541 300.83,542.52 301.67,540.6 302.5,542.52 303.33,540.6 304.17,542.12 305,540.73 305.83,542.36 306.67,540.91 307.5,543.1 308.33,541.25 309.17,543.19 310,542.5 310.81,542.1 311.62,543.33 312.43,542.1 313.24,543.73 314.06,542.38 314.87,543.84 315.68,542.1 316.49,543.51 317.3,542.53 318.11,543.64 318.92,542.29 319.73,544.07 320.54,542.42 321.36,543.77 322.17,542.99 322.98,543.85 323.79,542.83 324.6,543.5" fill="none" stroke="#ffff00" stroke-width="1.2" stroke-linejoin="round" stroke-linecap="round"/>
<polyline points="60.5,544.8 61.31,544.77 62.11,544.75 62.92,544.72 63.72,544.69 64.53,544.67 65.34,544.64 66.14,544.61 66.95,544.59 67.76,544.56 68.56,544.53 69.37,544.51 70.17,544.48 70.98,544.46 71.79,544.43 72.59,544.4 73.4,544.38 74.2,544.35 75.01,544.32 75.82,544.3 76.62,544.27 77.43,544.24 78.23,544.22 79.04,544.6 79.85,543.81 80.65,544.37 81.46,543.29 82.27,544.52 83.07,543.79 83.88,544.6 84.68,543.43 85.49,544.6 86.3,543.31 87.1,544.29 87.91,543.37 88.71,544.12 89.52,543.12 90.33,544.22 91.13,543.44 91.94,544.46 92.74,543.1 93.55,544.57 94.36,543.21 95.16,543.9 95.97,543.35 96.78,544.44 97.58,543.1 98.39,544.36 99.19,543.1 100,543.5 100.81,543.74 101.61,542.88 102.42,543.79 103.23,542.92 104.03,544.18 104.84,542.97 105.65,544.02 106.45,542.6 107.26,543.8 108.06,542.55 108.87,543.73 109.68,542.71 110.48,543.56 111.29,542.5 112.1,544.26 112.9,542.36 113.71,544.11 114.52,542.95 115.32,543.95 116.13,542.26 116.94,543.48 117.74,542.48 118.55,543.45 119.35,542.84 120.16,543.4 120.97,542.54 121.77,544.07 122.58,542.58 123.39,543.44 124.19,542.11 125,543.83 125.81,542.53 126.61,543.53 127.42,542.42 128.23,543.92 129.03,542.23 129.84,543.54 130.65,542.24 131.45,543.26 132.26,542.23 133.06,543.66 133.87,542.1 134.68,543.1 135.48,542.39 136.29,543.53 137.1,542.1 137.9,543.63 138.71,542.1 139.52,543.79 140.32,542.16 141.13,543.63 141.94,542.1 142.74,543.46 143.55,542.29 144.35,543.08 145.16,542.14 145.97,543.42 146.77,542.11 147.58,543.53 148.39,542.1 149.19,543.46 150,542.5 150.83,541.58 151.67,542.77 152.5,541.11 153.33,542.63 154.17,540.48 155,542.11 155.83,540.04 156.67,542.41 157.5,539.94 158.33,541.27 159.17,539.49 160,541.13 160.83,539.32 161.67,541.32 162.5,539.1 163.33,540.3 164.17,539.1 165,539.5 165.83,540.24 166.67,539.55 167.5,541.51 168.33,539.81 169.17,541.86 170,540.39 170.83,542.5 171.67,540.67 172.5,542.58 173.33,541.37 174.17,543.49 175,543 175.81,542.6 176.61,544.06 177.42,542.6 178.23,543.6 179.03,542.6 179.84,543.77 180.65,542.6 181.45,544.13 182.26,542.6 183.06,543.69 183.87,542.91 184.68,543.81 185.48,542.6 186.29,544.13 187.1,542.74 187.9,544.3 188.71,542.89 189.52,544.39 190.32,542.92 191.13,544.12 191.94,543.15 192.74,544.01 193.55,543.2 194.35,544.04 195.16,543.27 195.97,544.6 196.77,543.18 197.58,544.6 198.39,543.42 199.19,544.6 200,544 200.8,543.71 201.61,544.6 202.41,543.6 203.22,544.48 204.02,543.6 204.82,544.6 205.63,543.6 206.43,544.31 207.23,543.68 208.04,544.6 208.84,543.6 209.65,544.6 210.45,543.6 211.25,544.28 212.06,543.6 212.86,544.6 213.67,543.6 214.47,544.6 215.27,543.6 216.08,544.27 216.88,543.6 217.69,544.43 218.49,543.6 219.29,544.6 220.1,543.6 220.9,544.33 221.7,543.6 222.51,544.6 223.31,543.74 224.12,544.41 224.92,543.6 225.72,544.6 226.53,543.6 227.33,544.6 228.14,543.6 228.94,544.28 229.74,543.6 230.55,544.34 231.35,543.6 232.15,544.43 232.96,543.63 233.76,544.6 234.57,543.6 235.37,544.45 236.17,543.77 236.98,544.6 237.78,543.6 238.59,544.6 239.39,543.6 240.19,544.3 241,543.6 241.8,544.6 242.61,543.76 243.41,544.29 244.21,543.6 245.02,544.46 245.82,543.6 246.62,544.49 247.43,543.76 248.23,544.6 249.04,543.6 249.84,544.53 250.64,543.6 251.45,544.27 252.25,543.6 253.06,544.27 253.86,543.64 254.66,544.34 255.47,543.6 256.27,544.6 257.07,543.6 257.88,544.6 258.68,543.68 259.49,544.52 260.29,543.77 261.09,544.25 261.9,543.62 262.7,544.6 263.51,543.64 264.31,544.6 265.11,543.6 265.92,544.54 266.72,543.6 267.53,544.6 268.33,543.76 269.13,544.6 269.94,543.6 270.74,544.59 271.54,543.6 272.35,544.27 273.15,543.6 273.96,544.41 274.76,543.78 275.56,544.5 276.37,543.78 277.17,544.3 277.98,543.6 278.78,544.6 279.58,543.71 280.39,544.36 281.19,543.6 281.99,544.5 282.8,543.61 283.6,544.57 284.41,543.6 285.21,544.22 286.01,543.61 286.82,544.6 287.62,543.6 288.43,544.34 289.23,543.68 290.03,544.6 290.84,543.6 291.64,544.28 292.45,543.6 293.25,544.28 294.05,543.6 294.86,544.6 295.66,543.74 296.46,544.6 297.27,543.69 298.07,544.6 298.88,543.71 299.68,544.4 300.48,543.6 301.29,544.52 302.09,543.6 302.9,544.6 303.7,543.6 304.5,544.6 305.31,543.6 306.11,544.3 306.91,543.6 307.72,544.58 308.52,543.6 309.33,544.6 310.13,543.7 310.93,544.58 311.74,543.6 312.54,544.43 313.35,543.6 314.15,544.6 314.95,543.6 315.76,544.41 316.56,543.6 317.37,544.6 318.17,543.6 318.97,544.6 319.78,543.78 320.58,544.44 321.38,543.6 322.19,544.6 322.99,543.6 323.8,544.6 324.6,544" fill="none" stroke="#808000" stroke-width="1.2" stroke-linejoin="round" stroke-linecap="round"/>
<polyline points="60.5,544.8 61.3,544.72 62.1,544.63 62.9,544.55 63.7,544.46 64.5,544.38 65.3,544.29 66.1,544.21 66.9,544.6 67.7,543.59 68.5,544.22 69.3,543.3 70.1,544.41 70.9,543.7 71.74,543.2 72.58,544.08 73.42,543.13 74.25,544.24 75.09,542.58 75.93,543.64 76.77,542.3 77.61,543.72 78.45,542.48 79.28,543.95 80.12,542.3 80.96,543.11 81.8,542.7 82.62,541.86 83.45,542.75 84.28,541.1 85.1,542.2 85.92,540.76 86.75,542.36 87.58,540.1 88.4,540.5 89.28,541.64 90.16,538.37 91.04,539.8 91.92,537.9 92.8,538.3 93.6,540.09 94.4,538.08 95.2,540.56 96,539.4 97.1,537.59 98.2,537.2 99.03,539.28 99.85,538.62 100.67,541.9 101.5,541.6 102.38,540.93 103.26,542.08 104.14,540.1 105.02,541.4 105.9,540.5 106.76,540.1 107.62,541.36 108.48,540.41 109.34,541.96 110.2,541.6 111.08,540.3 111.96,541.31 112.84,538.23 113.72,540.31 114.6,538.3 115.7,539.35 116.8,541.6 117.7,540.83 118.6,535.26 119.5,533.9 120.35,536.76 121.2,537.2 122.25,538.63 123.3,541.6 124.15,535.87 125,527.3 125.8,532.36 126.6,540.5 127.7,540.42 128.8,538.7 129.75,534.86 130.7,536.59 131.65,532 132.6,531.1 133.55,534.5 134.5,532.78 135.45,536.98 136.4,536.8 137.35,535.53 138.3,536.71 139.25,534.5 140.2,534.9 141.15,533.62 142.1,523.9 143.05,525.2 144,519.7 144.97,519.3 145.93,525.16 146.9,523.5 147.83,523.1 148.77,527.87 149.7,525.4 150.65,518.23 151.6,523.28 152.55,515.95 153.5,515.9 154.33,510.55 155.17,497.52 156,493.1 157.15,503.08 158.3,504.5 159.25,504.1 160.2,508.7 161.15,504.1 162.1,508.3 163.03,513.13 163.97,504.1 164.9,504.5 165.87,509.55 166.83,504.1 167.8,512.1 168.73,521.34 169.67,515.53 170.6,525.4 171.57,521.77 172.53,503.8 173.5,496.9 174.45,515.46 175.4,527.3 176.35,523 177.3,525.46 178.25,519.3 179.2,519.7 180.13,527.64 181.07,526.78 182,534.9 182.95,532.57 183.9,526.39 184.85,526.69 185.8,521.6 186.78,524.43 187.75,533.16 188.72,531.72 189.7,538.7 190.65,536.99 191.6,531.49 192.55,531.55 193.5,527.3 194.25,523.9 195,524.3 196,534.18 197,537.1 197.75,513.9 198.5,499.5 199,496.33 199.5,484.7 199.95,495.28 200.4,509.4 200.9,511.51 201.4,501.5 201.9,503.47 202.4,519.3 202.9,510.95 203.4,492.6 203.9,490.2 204.4,490.6 204.9,501.58 205.4,505.4 205.9,488.89 206.4,480.7 206.9,496.34 207.4,501.5 208.15,501.2 208.9,509.4 209.6,502.44 210.3,485.6 211.05,493.52 211.8,505.4 212.8,496.36 213.8,482.7 214.3,483.15 214.8,494.6 215.3,495.62 215.8,487.6 216.4,475.81 217,470.8 217.65,494.75 218.3,509.4 218.8,514.52 219.3,523.3 219.75,512.21 220.2,489.6 220.95,491.46 221.7,505.4 222.45,500 223.2,482.7 223.95,476.3 224.7,476.7 225.2,489.64 225.7,493.6 226.3,475.78 226.9,466.8 227.55,482.12 228.2,489.6 228.7,485.2 229.2,485.6 229.65,498.61 230.1,499.5 230.6,499.1 231.1,507.4 231.85,509.21 232.6,504.5 233.1,512.88 233.6,525.2 234.3,529.34 235,529.2 235.88,523.05 236.75,524.54 237.62,517.69 238.5,516.9 239.3,519.34 240.1,516.5 240.9,523.05 241.7,516.56 242.5,522.2 243.3,519.3 244.26,518.9 245.22,525.06 246.18,518.9 247.14,526.6 248.1,521.7 249,522.48 249.9,530.78 250.8,527.41 251.7,533.7 252.56,533.85 253.41,529.95 254.27,532.52 255.13,526.23 255.99,531.99 256.84,526.1 257.7,526.5 258.5,531.1 259.3,527.02 260.1,532.56 260.9,526.6 261.7,532.42 262.5,531.3 263.33,524.13 264.17,527.55 265,521.3 266.1,524.71 267.2,531.8 268.2,533.8 269.2,529.9 270.2,530.3 271.2,534.26 272.2,530.38 273.2,534.8 274.15,534.82 275.1,532.51 276.05,534.36 277,531.8 277.93,531.4 278.85,533.28 279.77,531.4 280.7,531.8 281.65,534.93 282.6,531.73 283.55,536.6 284.5,534.8 285.43,532.9 286.35,535.93 287.27,532.94 288.2,533.3 289.2,536.24 290.2,533.26 291.2,536.3 292.1,538.3 293,534.4 293.9,537.38 294.8,534.4 295.7,534.8 296.62,536.21 297.55,534.4 298.47,536.98 299.4,536.3 300.3,535.9 301.2,538.72 302.1,537.4 303,539.37 303.9,539.3 304.76,539.29 305.61,541.23 306.47,539.16 307.33,541.5 308.19,540.39 309.04,542.38 309.9,542.3 310.72,541.9 311.53,543.47 312.35,541.9 313.17,543.53 313.98,542.02 314.8,543.93 315.62,541.97 316.43,543.71 317.25,542.75 318.07,544 318.88,542.8 319.7,544.22 320.52,543.28 321.33,544.36 322.15,543.17 322.97,544.21 323.78,543.11 324.6,544" fill="none" stroke="#000080" stroke-width="1.2" stroke-linejoin="round" stroke-linecap="round"/>
<polyline points="408,547.5 408.6,547 410.3,543.92 412,539.7 413.5,537.13 415,535.47 416.5,532.9 417.95,531.38 419.4,530.6 420.8,529.44 422.2,527.2 422.75,526.8 423.3,527.8 424.45,525.39 425.6,521.5 427.3,516.83 429,513.6 430.1,510.21 431.2,505.7 432.05,506.65 432.9,509.1 433.75,507.95 434.6,505.7 435.2,506.04 435.8,508 436.65,505.83 437.5,502.3 438.35,501.9 439.2,502.9 439.75,502.53 440.3,500.6 441.15,497.2 442,495.5 442.85,499.61 443.7,501.2 444.85,507.6 446,515.9 446.85,510.73 447.7,503.4 448.25,498.14 448.8,495.5 449.65,502.76 450.5,508 451.05,514.28 451.6,521.5 452.45,525.75 453.3,529.5 454.15,526.57 455,524.9 455.85,526.34 456.7,526.1 457.55,526.72 458.4,528.3 459.25,523.27 460.1,517 461.2,511.02 462.3,506.2 463.45,506.16 464.6,504.6 465.75,502.3 466.9,502.3 468.05,504.84 469.2,506.2 470.35,508.63 471.5,512.3 472.65,510.21 473.8,506.2 474.75,502.85 475.7,500.8 476.45,505.31 477.2,507.7 478.2,509.42 479.2,512.3 480,507.94 480.8,501.5 481.55,495.91 482.3,492.3 483.45,495.04 484.6,495.4 485.55,491 486.5,489.2 487.5,487.37 488.5,483.1 489.65,479.09 490.8,476.9 491.95,472.76 493.1,467.7 494.1,465.75 495.1,464.6 496,469.95 496.9,472.3 497.7,467.98 498.5,464.6 499.4,463.31 500.3,460 501.3,453.76 502.3,449.2 503.05,444.53 503.8,436.9 504.6,428.81 505.4,423.1 506,419.08 506.6,413.8 507.3,407.96 508,404.6 508.75,409 509.5,410.8 510.3,413.94 511.1,418.5 511.7,426.38 512.3,432.3 513.05,429.51 513.8,429.2 514.6,436.94 515.4,441.5 516.15,449.52 516.9,458.5 517.55,467.9 518.2,475.4 519.1,469.48 520,464.6 520.9,460.17 521.8,454.6 522.6,458.39 523.4,464.6 524,473.24 524.6,480 525,485.9 525.55,494.06 526.1,503 527.7,505.24 529.3,505.2 530.9,499.38 532.5,495.5 533.6,502.14 534.7,507.3 536.3,513.21 537.9,520.2 538.95,523.27 540,524.5 541.1,522.73 542.2,522.3 543.8,516.75 545.4,509.5 546.8,503.58 548.2,498.7 548.95,489 549.7,477.3 550.7,468.7 551.6,463.34 552.5,460.1 553.45,462.52 554.4,462.3 555.25,468.33 556.1,477.3 557.15,482.6 558.2,485.9 558.95,472.56 559.7,460.1 560.35,450.79 561,438.7 561.75,425.62 562.5,415.1 563.6,415.04 564.7,412.9 565.75,406.76 566.8,402.2 567.9,398.57 569,393.6 569.75,379.67 570.5,367.9 571.35,358.02 572.2,346.4 573.25,355.89 574.3,367.9 575.4,386.66 576.5,404.3 577.55,433.9 578.6,464.4 579.9,489.39 581.2,511.6 582.6,521.38 584,533 585.6,538.73 587.2,543.8 588.6,544.94 590,547 591,547.8" fill="none" stroke="#000000" stroke-width="1.35" stroke-linejoin="round" stroke-linecap="round"/>
<polyline points="408,547.5 408.3,547.25 408.6,547 409.28,547.31 409.96,545.48 410.64,546.33 411.32,543.91 412,544.2 412.77,545.18 413.53,540.4 414.3,540.8 415.15,542.26 416,538.5 416.85,538.1 417.7,541.9 418.55,541.28 419.4,535.1 420.25,531.3 421.1,531.7 421.9,536.95 422.7,538.5 423.55,533.6 424.4,534 425.25,537.56 426.1,536.3 426.95,529.1 427.8,529.5 428.65,536.14 429.5,532.9 430.35,524.6 431.2,523.8 432.05,530.99 432.9,532.9 433.75,524.83 434.6,521.5 435.45,530.3 436.3,531.7 437.15,521.64 438,520.4 438.85,528.1 439.7,529.5 440.55,521.44 441.4,520.4 442.25,523.83 443.1,519.3 443.95,521.93 444.8,536.3 445.65,535.86 446.5,528.3 447.35,518.9 448.2,519.3 448.8,521.65 449.4,511.4 449.95,517.3 450.5,538.5 451.35,541.45 452.2,541.9 453.05,536.88 453.9,536.3 454.75,542.11 455.6,543.1 456.45,539.53 457.3,539.7 458.15,542.73 459,544.2 459.77,537.83 460.53,538.98 461.3,531.7 462.15,531.3 463,536.3 463.67,536.95 464.33,532.5 465,532.9 465.6,538.42 466.2,536.9 466.8,536.5 467.4,540.4 468,536.8 468.6,542.13 469.2,540 469.86,538.65 470.51,540.6 471.17,537.13 471.83,539.49 472.49,536.5 473.14,540.16 473.8,536.9 474.47,536.5 475.14,540.64 475.81,537.97 476.49,540.4 477.16,539.29 477.83,542.71 478.5,541.5 479.1,538.33 479.7,541.59 480.3,536.5 480.9,539.51 481.5,536.9 482.12,536.5 482.74,541.02 483.36,539.66 483.98,544.09 484.6,543.1 485.22,542.7 485.84,544.1 486.46,542.7 487.08,544.29 487.7,542.7 488.32,544.98 488.94,542.7 489.56,545.23 490.18,542.7 490.8,543.1 491.44,544.16 492.08,542.7 492.73,545.2 493.37,542.7 494.01,544.3 494.65,542.7 495.29,545.53 495.93,543.24 496.57,545.89 497.22,542.73 497.86,545.63 498.5,544.6 499.14,544.2 499.78,545.17 500.43,544.2 501.07,545.65 501.71,544.2 502.35,546.6 502.99,544.2 503.63,545.72 504.27,544.2 504.92,546.65 505.56,544.2 506.2,545.4 506.81,546 507.42,545 508.04,546.6 508.65,545 509.26,545.8 509.87,545.01 510.48,546.04 511.1,545 511.71,546.67 512.32,545 512.93,545.93 513.54,545 514.16,546.77 514.77,545 515.38,546.16 515.99,545 516.6,546.18 517.22,545 517.83,546.26 518.44,545 519.05,545.96 519.66,545 520.28,545.84 520.89,545 521.5,545.4 522.11,546.7 522.71,545 523.32,546.75 523.93,545 524.53,546.38 525.14,545 525.74,546.92 526.35,545 526.96,546.36 527.56,545 528.17,547.08 528.78,545 529.38,547 529.99,545 530.6,546.48 531.2,545 531.81,546.59 532.41,545.17 533.02,546.65 533.63,545 534.23,547.14 534.84,545 535.45,546.46 536.05,545.46 536.66,546.83 537.27,545.53 537.87,546.69 538.48,545.67 539.09,546.72 539.69,545.11 540.3,547.33 540.9,545.33 541.51,546.62 542.12,545.17 542.72,546.63 543.33,545.84 543.94,547.26 544.54,545.71 545.15,547.2 545.76,545.83 546.36,547.26 546.97,546 547.57,547.28 548.18,545.92 548.79,547.21 549.39,545.41 550,546.5 550.6,547.34 551.2,546.1 551.8,547.09 552.4,546.1 553,547.03 553.6,546.1 554.2,547.6 554.8,546.1 555.4,547.17 556,546.15 556.6,547.5 557.2,547 557.83,545.98 558.46,547.3 559.09,546.02 559.72,546.91 560.35,545.22 560.98,547.23 561.61,544.92 562.24,547.26 562.86,545.11 563.49,546.69 564.12,544.73 564.75,546.47 565.38,544.4 566.01,546.69 566.64,544.4 567.27,545.51 567.9,544.8 568.51,543.4 569.13,545.39 569.74,544.09 570.36,545.54 570.97,543.4 571.59,545.51 572.2,543.4 572.81,545.46 573.43,543.4 574.04,544.99 574.66,543.4 575.27,545.33 575.89,543.4 576.5,543.8 577.11,545.77 577.73,543.46 578.34,545.91 578.96,543.88 579.57,546.55 580.19,544.21 580.8,545.9 581.41,546.62 582.03,545.5 582.64,547.31 583.25,545.51 583.87,546.9 584.48,545.54 585.09,547.6 585.71,545.79 586.32,547.46 586.93,546.68 587.55,547.35 588.16,546.57 588.77,547.29 589.39,547.39 590,547.5 590.5,547.65 591,547.8" fill="none" stroke="#ff0000" stroke-width="1.2" stroke-linejoin="round" stroke-linecap="round"/>
<polyline points="408,547.8 408.6,547.5 409.36,547.42 410.12,547.33 410.88,547.25 411.63,547.53 412.39,546.65 413.15,547.6 413.91,546.18 414.67,547.6 415.43,546.1 416.18,547.06 416.94,546.1 417.7,546.5 418.45,547.17 419.2,545.55 419.95,546.81 420.7,545.5 421.45,546.68 422.2,545.77 422.95,546.45 423.7,545.5 424.45,546.68 425.2,545.5 425.95,546.37 426.7,545.9 427.41,544.64 428.12,546.81 428.84,544.76 429.55,546 430.26,544.67 430.97,545.87 431.69,544.56 432.4,544.8 433.1,545.97 433.8,543.39 434.5,544.98 435.2,542.91 435.9,544.82 436.6,542.7 437.3,544.67 438,543.1 438.77,541.58 439.53,543.85 440.3,540.52 441.07,542.98 441.83,540.4 442.6,540.8 443.33,543.02 444.07,541.22 444.8,543.1 445.65,543.57 446.5,539.53 447.35,541.94 448.2,538.5 449.05,535.3 449.9,535.7 450.75,540.21 451.6,541.9 452.45,540.24 453.3,541.83 454.15,539.3 455,539.7 455.85,541.21 456.7,539.3 457.55,541.47 458.4,540.8 459.2,538.9 460,538.5 460.77,538.7 461.55,535 462.33,539.04 463.1,535.4 463.87,535 464.63,542.24 465.4,541.5 466.17,537.87 466.93,537.91 467.7,533.8 468.47,534.62 469.23,540.16 470,540 470.77,534.32 471.53,537.9 472.3,532.3 473.07,533.56 473.83,539.6 474.6,541.5 475.37,533.97 476.13,535.99 476.9,527.7 477.67,527.3 478.43,533 479.2,533.8 479.97,529.29 480.73,531.19 481.5,526.2 482.27,525.8 483.03,534.45 483.8,533.8 484.6,520.5 485.4,516.9 486.17,527.12 486.93,518.31 487.7,527.7 488.47,525.44 489.23,516.13 490,513.8 490.77,524.09 491.53,515.45 492.3,523.1 493.07,523.36 493.83,508.82 494.6,509.2 495.37,520.41 496.13,512.66 496.9,521.5 497.67,520.94 498.43,510.4 499.2,510.8 499.97,516.01 500.73,510.4 501.5,516.9 502.27,517.92 503.03,504.2 503.8,504.6 504.6,505.73 505.4,499.6 506.2,500 507.1,505.27 508,501.5 508.75,490.4 509.5,490.8 510.3,502.35 511.1,504.6 512.1,501.1 513.1,501.5 513.85,510.73 514.6,513.8 515.4,503.46 516.2,501.5 516.95,520.34 517.7,529.2 518.47,527.3 519.23,532.86 520,527.7 520.77,525.8 521.55,530.79 522.33,525.8 523.1,526.2 523.88,530.38 524.65,525.8 525.43,533.78 526.2,532.3 526.96,531.9 527.72,537.63 528.48,533.78 529.24,539.1 530,538.5 530.72,538.1 531.44,542.07 532.16,539.55 532.88,543.87 533.6,542.7 534.32,542.3 535.03,543.96 535.75,542.3 536.47,543.35 537.18,542.3 537.9,543.5 538.62,542.3 539.33,543.47 540.05,542.3 540.77,544.33 541.48,542.3 542.2,542.7 542.91,544.04 543.62,539.87 544.33,542.21 545.04,540.08 545.76,543.21 546.47,539.74 547.18,541.89 547.89,539.1 548.6,539.5 549.32,540.77 550.03,538 550.75,540.38 551.47,538 552.18,541 552.9,538.4 553.62,538 554.33,541.26 555.05,538 555.77,541.76 556.48,538.35 557.2,540.6 557.92,542.35 558.63,537.07 559.35,540.89 560.07,536.9 560.78,538.74 561.5,537.3 562.21,535.23 562.92,537.81 563.63,534.19 564.34,538.63 565.06,532.6 565.77,535.65 566.48,532.6 567.19,536.92 567.9,533 568.62,528.71 569.33,533.92 570.05,526.2 570.77,530.85 571.48,526.2 572.2,526.6 573,530.99 573.8,527.84 574.6,535.08 575.4,536.3 576.17,535.9 576.94,539.32 577.71,537.43 578.49,540.79 579.26,538.75 580.03,542.92 580.8,542.7 581.51,542.5 582.22,544.06 582.93,542.82 583.64,545.74 584.36,543.21 585.07,546.19 585.78,543.92 586.49,546.66 587.2,545.9 588.13,545.65 589.07,547.34 590,547.5 590.5,547.65 591,547.8" fill="none" stroke="#00ff00" stroke-width="1.2" stroke-linejoin="round" stroke-linecap="round"/>
<polyline points="408,547.8 408.86,547.76 409.73,547.73 410.59,547.69 411.46,547.66 412.32,547.62 413.19,547.59 414.05,547.55 414.92,547.52 415.78,547.48 416.65,547.45 417.51,547.41 418.38,547.38 419.24,547.34 420.11,547.31 420.97,547.27 421.84,547.24 422.7,547.2 423.57,547.49 424.43,546.61 425.3,547.58 426.16,546.55 427.03,547.6 427.89,546.37 428.76,547.16 429.62,546.18 430.49,547.3 431.35,546.58 432.22,547.52 433.08,546.58 433.95,546.94 434.81,546.13 435.68,547.31 436.54,546.26 437.41,547.1 438.27,546.1 439.14,546.91 440,546.5 440.86,546.07 441.71,546.72 442.57,545.77 443.43,547.12 444.29,545.81 445.14,546.83 446,545.66 446.86,546.95 447.71,545.94 448.57,546.68 449.43,545.6 450.29,546.55 451.14,545.9 452,546.89 452.86,545.42 453.71,546.71 454.57,545.62 455.43,546.86 456.29,545.62 457.14,546.39 458,545.42 458.86,546.41 459.71,545.36 460.57,546.81 461.43,545.1 462.29,546.52 463.14,545.43 464,546.74 464.86,545.52 465.71,546.39 466.57,545.06 467.43,546.09 468.29,545.4 469.14,546.27 470,544.82 470.86,546.13 471.71,545.2 472.57,546.55 473.43,545.11 474.29,546.58 475.14,545.1 476,546.52 476.86,544.61 477.71,546.48 478.57,544.64 479.43,546.42 480.29,545.11 481.14,546.11 482,544.63 482.86,545.79 483.71,545 484.57,546.2 485.43,544.74 486.29,546.18 487.14,544.6 488,545.77 488.86,544.66 489.71,545.75 490.57,544.6 491.43,546.2 492.29,544.81 493.14,545.53 494,544.6 494.86,545.7 495.71,544.78 496.57,545.98 497.43,544.8 498.29,546.06 499.14,544.6 500,545 500.87,545.92 501.74,544.1 502.61,545.3 503.48,544.1 504.35,545.63 505.22,544.53 506.09,545.75 506.96,544.1 507.83,545.1 508.7,544.14 509.57,545.33 510.43,544.34 511.3,545.34 512.17,544.32 513.04,545.45 513.91,544.1 514.78,545.3 515.65,544.1 516.52,545.12 517.39,544.1 518.26,545.34 519.13,544.1 520,544.5 520.85,545.01 521.7,544.1 522.55,544.9 523.4,544.1 524.26,544.99 525.11,544.1 525.96,545.07 526.81,544.1 527.66,545.04 528.51,544.1 529.36,545.08 530.21,544.26 531.06,545.15 531.91,544.39 532.77,545.66 533.62,544.1 534.47,545.81 535.32,544.36 536.17,545.36 537.02,544.32 537.87,545.83 538.72,544.1 539.57,545.85 540.43,544.68 541.28,545.45 542.13,544.62 542.98,545.68 543.83,544.2 544.68,545.64 545.53,544.49 546.38,546.03 547.23,544.75 548.09,545.53 548.94,544.39 549.79,545.66 550.64,544.75 551.49,546.22 552.34,544.41 553.19,545.78 554.04,544.66 554.89,546.16 555.74,544.62 556.6,546.21 557.45,544.69 558.3,546.28 559.15,545.18 560,545.5 560.86,545.98 561.71,545.22 562.57,546.2 563.43,545.41 564.29,546.6 565.14,545.38 566,546.65 566.86,545.63 567.71,546.29 568.57,545.73 569.43,546.43 570.29,545.6 571.14,546.71 572,545.86 572.86,546.97 573.71,545.58 574.57,546.98 575.43,546.04 576.29,547.04 577.14,546.31 578,547.09 578.86,546.08 579.71,547.35 580.57,546.27 581.43,547.29 582.29,546.35 583.14,547.6 584,546.71 584.86,547.35 585.71,547.21 586.57,547.27 587.43,547.33 588.29,547.39 589.14,547.44 590,547.5 590.5,547.65 591,547.8" fill="none" stroke="#0000ff" stroke-width="1.2" stroke-linejoin="round" stroke-linecap="round"/>
<polyline points="408,547.8 408.85,547.79 409.71,547.77 410.56,547.76 411.42,547.75 412.27,547.73 413.12,547.72 413.98,547.71 414.83,547.69 415.69,547.68 416.54,547.66 417.4,547.65 418.25,547.64 419.1,547.62 419.96,547.61 420.81,547.6 421.67,547.58 422.52,547.57 423.38,547.56 424.23,547.54 425.08,547.53 425.94,547.52 426.79,547.5 427.65,547.49 428.5,547.47 429.35,547.46 430.21,547.45 431.06,547.43 431.92,547.42 432.77,547.41 433.62,547.39 434.48,547.38 435.33,547.37 436.19,547.35 437.04,547.34 437.9,547.33 438.75,547.31 439.6,547.3 440.46,547.29 441.31,547.27 442.17,547.26 443.02,547.24 443.88,547.23 444.73,547.22 445.58,547.2 446.44,547.46 447.29,546.62 448.15,547.47 449,546.51 449.85,547.34 450.71,546.5 451.56,547.3 452.42,546.43 453.27,547.6 454.12,546.72 454.98,547.25 455.83,546.43 456.69,547.25 457.54,546.44 458.4,547.41 459.25,546.33 460.1,547.26 460.96,546.53 461.81,547.31 462.67,546.38 463.52,547.55 464.38,546.63 465.23,547.17 466.08,546.33 466.94,547.06 467.79,546.14 468.65,547.14 469.5,546.43 470.35,547.3 471.21,546.49 472.06,547.33 472.92,546.22 473.77,547.19 474.62,546.52 475.48,546.93 476.33,546.21 477.19,547.18 478.04,546.49 478.9,546.89 479.75,546.23 480.6,546.99 481.46,546.2 482.31,547.24 483.17,546.21 484.02,546.96 484.88,546.1 485.73,547.27 486.58,546.21 487.44,546.81 488.29,546.1 489.15,547.2 490,546.5 490.91,545.48 491.82,546.41 492.73,545.51 493.64,546.12 494.55,544.75 495.45,546.44 496.36,544.32 497.27,545.7 498.18,544.26 499.09,545.2 500,544.6 500.89,543.33 501.77,545.17 502.66,543.35 503.54,544.55 504.43,542.7 505.31,543.77 506.2,543.1 507.12,542.7 508.04,544.43 508.96,542.7 509.88,544.33 510.8,543.8 511.72,543.4 512.64,545.19 513.56,543.4 514.48,545.11 515.4,543.74 516.32,545.9 517.24,544.54 518.16,545.69 519.08,544.89 520,545.5 520.85,546.11 521.7,545.1 522.55,546.22 523.4,545.31 524.26,546.45 525.11,545.1 525.96,546.26 526.81,545.33 527.66,546.47 528.51,545.29 529.36,546.23 530.21,545.16 531.06,546.07 531.91,545.55 532.77,546.36 533.62,545.34 534.47,546.65 535.32,545.32 536.17,546.55 537.02,545.48 537.87,546.58 538.72,545.2 539.57,546.34 540.43,545.65 541.28,546.8 542.13,545.6 542.98,546.86 543.83,545.54 544.68,546.54 545.53,545.79 546.38,546.62 547.23,545.62 548.09,547.01 548.94,545.61 549.79,546.83 550.64,545.81 551.49,546.52 552.34,546.04 553.19,547.09 554.04,545.97 554.89,547.12 555.74,545.85 556.6,547.2 557.45,546.06 558.3,546.95 559.15,545.85 560,546.5 560.86,546.88 561.71,546.1 562.57,546.79 563.43,546.1 564.29,547.25 565.14,546.39 566,547.29 566.86,546.1 567.71,547.42 568.57,546.42 569.43,547.45 570.29,546.39 571.14,547.4 572,546.49 572.86,547.59 573.71,546.46 574.57,547.48 575.43,546.34 576.29,547.6 577.14,546.85 578,547.6 578.86,546.49 579.71,547.34 580.57,546.6 581.43,547.21 582.29,547.24 583.14,547.27 584,547.3 584.86,547.33 585.71,547.36 586.57,547.39 587.43,547.41 588.29,547.44 589.14,547.47 590,547.5 590.5,547.65 591,547.8" fill="none" stroke="#00ffff" stroke-width="1.2" stroke-linejoin="round" stroke-linecap="round"/>
<polyline points="408,547.8 408.5,547.79 409,547.77 409.5,547.76 410,547.75 410.5,547.74 411,547.72 411.5,547.71 412,547.7 412.5,547.69 413,547.67 413.5,547.66 414,547.65 414.5,547.64 415,547.62 415.5,547.61 416,547.6 416.5,547.59 417,547.57 417.5,547.56 418,547.55 418.5,547.54 419,547.52 419.5,547.51 420,547.5 420.5,547.49 421,547.48 421.5,547.46 422,547.45 422.5,547.44 423,547.42 423.5,547.41 424,547.4 424.5,547.39 425,547.38 425.5,547.36 426,547.35 426.5,547.34 427,547.32 427.5,547.31 428,547.3 428.5,547.29 429,547.27 429.5,547.26 430,547.25 430.5,547.24 431,547.23 431.5,547.21 432,547.2 432.5,547.6 433,546.6 433.5,547.6 434,546.6 434.5,547.6 435,546.69 435.5,547.6 436,546.6 436.5,547.6 437,546.6 437.5,547.6 438,546.6 438.5,547.6 439,546.6 439.5,547.6 440,547 440.5,545.86 441,547.39 441.5,545.28 442,547.42 442.5,545.51 443,547.6 443.5,545.19 444,547.6 444.5,545.23 445,547.6 445.5,545.51 446,547.21 446.5,545.72 447,546.89 447.5,545 448,547.34 448.5,545 449,547.6 449.5,545 450,547.6 450.5,545 451,547.6 451.5,545 452,546.52 452.5,545 453,546.48 453.5,545 454,546.4 454.5,545 455,547.1 455.5,545.22 456,546.74 456.5,545 457,546.13 457.5,545 458,547.19 458.5,545 459,546.01 459.5,545 460,545.4 460.5,546.51 461,544.25 461.51,547.31 462.01,544.2 462.51,547.04 463.01,544.63 463.52,546.46 464.02,544.2 464.52,546.26 465.02,544.24 465.52,547.03 466.03,544.2 466.53,546.38 467.03,544.2 467.53,545.93 468.03,544.2 468.54,546.18 469.04,544.2 469.54,546.02 470.04,544.27 470.55,546.59 471.05,544.2 471.55,545.77 472.05,544.2 472.55,546 473.06,544.2 473.56,546.13 474.06,544.32 474.56,546.6 475.07,544.2 475.57,546.47 476.07,544.2 476.57,546.62 477.07,544.2 477.58,545.88 478.08,544.2 478.58,546.63 479.08,544.2 479.58,545.52 480.09,544.2 480.59,545.25 481.09,544.2 481.59,545.9 482.1,544.2 482.6,545.7 483.1,544.6 483.61,542.34 484.12,544.83 484.63,542.37 485.14,544.46 485.65,541.82 486.16,544.35 486.67,540.79 487.18,545.27 487.69,541.49 488.2,543.46 488.7,540.32 489.21,543.87 489.72,540.46 490.23,543.12 490.74,540.32 491.25,543.12 491.76,539.6 492.27,542.96 492.78,539.6 493.29,541.71 493.8,540 494.32,538.31 494.83,542.64 495.35,538.2 495.87,541.27 496.38,538.1 496.9,542.08 497.42,538.1 497.93,540.97 498.45,538.1 498.97,539.94 499.48,538.1 500,538.5 500.51,540.02 501.02,534.29 501.53,539.09 502.04,532.76 502.56,538.48 503.07,532.64 503.58,537.01 504.09,531.9 504.6,532.3 505.11,535.35 505.62,528.8 506.13,533.98 506.64,528.8 507.16,532.51 507.67,528.8 508.18,534.55 508.69,528.8 509.2,529.2 509.76,531.02 510.31,526.41 510.87,531.47 511.43,526.07 511.99,530.79 512.54,525.8 513.1,526.2 513.6,528.51 514.1,518.1 514.6,518.5 515.13,528.78 515.67,522.93 516.2,530.8 516.78,533.6 517.35,528.8 517.92,532.31 518.5,529.2 519.08,521.27 519.65,526.27 520.22,518.1 520.8,518.5 521.38,523.65 521.95,516.5 522.52,523.76 523.1,516.9 523.6,516.5 524.1,530.08 524.6,530.8 525,528.8 525.53,528.4 526.07,535.05 526.6,529.98 527.13,534.53 527.67,530.64 528.2,535.2 528.73,535.28 529.27,525.66 529.8,533.19 530.33,520.89 530.87,528.07 531.4,520.2 531.95,519.8 532.5,527.74 533.05,519.8 533.6,527.03 534.15,522.06 534.7,526.6 535.23,532.08 535.77,526.2 536.3,534.16 536.83,531.24 537.37,537.31 537.9,537.3 538.43,536.9 538.97,539.78 539.5,537.62 540.03,542.88 540.57,539.64 541.1,541.6 541.63,541.4 542.17,537.43 542.7,538.25 543.23,533.61 543.77,535.72 544.3,533 544.83,527.36 545.37,532.67 545.9,524.1 546.43,531.74 546.97,524.1 547.5,524.5 548.03,526.01 548.57,512.37 549.1,523.69 549.63,506.9 550.17,518.14 550.7,507.3 551.25,506.9 551.8,518.4 552.35,506.9 552.9,518.33 553.45,509.08 554,515.9 554.53,519.05 555.07,504.8 555.6,516.66 556.13,504.8 556.67,515.56 557.2,505.2 557.7,491.82 558.2,499.95 558.7,479.72 559.2,492.6 559.7,477.3 560.25,467.78 560.8,474.53 561.35,464 561.9,464.4 562.42,472.9 562.95,467.26 563.48,490.41 564,488 564.55,472.52 565.1,468.04 565.65,446.08 566.2,440.8 566.77,451.6 567.33,440.4 567.9,451.5 568.42,453.8 568.95,429.59 569.48,435.15 570,425.8 570.6,414.15 571.2,422.22 571.8,410.8 572.32,410.4 572.85,423.04 573.38,411.02 573.9,421.5 574.4,435.86 574.9,430.32 575.4,445.1 575.9,465.03 576.4,468.21 576.9,490.2 577.45,504.57 578,498.96 578.55,515.11 579.1,515.9 579.64,516.94 580.18,524.8 580.72,522.03 581.26,534.45 581.8,533 582.35,533.16 582.9,539.05 583.45,535.65 584,541.07 584.55,540.2 585.1,543.8 585.64,545.47 586.19,543.61 586.73,546.96 587.28,544.11 587.82,546.32 588.37,545.57 588.91,547.6 589.46,546.13 590,547.2 590.5,547.5 591,547.8" fill="none" stroke="#ff00ff" stroke-width="1.2" stroke-linejoin="round" stroke-linecap="round"/>
<polyline points="408,547.8 409,547.4 410,547 410.87,547.35 411.74,546.31 412.61,547.43 413.48,546.25 414.35,547.4 415.22,546.08 416.09,546.95 416.96,546.17 417.83,546.99 418.7,546.31 419.57,547.21 420.43,545.72 421.3,546.99 422.17,546.09 423.04,547.08 423.91,545.6 424.78,546.53 425.65,545.79 426.52,546.6 427.39,545.69 428.26,546.84 429.13,545.78 430,546 430.87,546.78 431.74,545.6 432.61,546.63 433.48,545.68 434.35,546.99 435.22,545.6 436.09,546.89 436.96,545.6 437.83,546.81 438.7,545.73 439.57,546.85 440.43,545.65 441.3,546.99 442.17,545.94 443.04,547.05 443.91,546.07 444.78,547.03 445.65,546.07 446.52,547 447.39,545.96 448.26,546.74 449.13,545.97 450,546.5 450.86,547.11 451.72,546.15 452.59,547.08 453.45,545.99 454.31,547.2 455.17,545.71 456.03,547.14 456.9,545.62 457.76,546.65 458.62,546.04 459.48,546.62 460.34,545.72 461.21,547.22 462.07,546.17 462.93,546.78 463.79,545.92 464.66,547.15 465.52,545.6 466.38,546.63 467.24,545.96 468.1,547 468.97,545.95 469.83,547.07 470.69,545.7 471.55,547.02 472.41,545.63 473.28,546.71 474.14,545.6 475,546.85 475.86,545.6 476.72,546.77 477.59,545.62 478.45,546.79 479.31,545.63 480.17,546.48 481.03,545.94 481.9,546.75 482.76,545.6 483.62,546.71 484.48,545.6 485.34,546.46 486.21,545.6 487.07,546.86 487.93,545.84 488.79,546.45 489.66,545.6 490.52,546.65 491.38,545.6 492.24,546.38 493.1,545.6 493.97,546.31 494.83,545.66 495.69,546.45 496.55,545.6 497.41,546.47 498.28,545.6 499.14,546.26 500,546 500.86,545.73 501.71,546.59 502.57,545.6 503.43,546.31 504.29,545.75 505.14,546.75 506,545.6 506.86,546.41 507.71,545.6 508.57,546.35 509.43,545.6 510.29,546.47 511.14,545.6 512,546.59 512.86,545.79 513.71,546.67 514.57,545.81 515.43,546.48 516.29,545.6 517.14,546.91 518,545.6 518.86,546.87 519.71,545.86 520.57,546.57 521.43,545.6 522.29,546.65 523.14,545.73 524,546.91 524.86,545.6 525.71,546.63 526.57,545.6 527.43,546.58 528.29,545.6 529.14,546.69 530,545.6 530.86,547.08 531.71,545.6 532.57,546.89 533.43,545.95 534.29,546.97 535.14,546.07 536,546.53 536.86,545.93 537.71,546.66 538.57,545.65 539.43,546.73 540.29,545.66 541.14,546.7 542,545.66 542.86,547.02 543.71,545.92 544.57,547.15 545.43,545.7 546.29,546.71 547.14,545.99 548,547.13 548.86,546.13 549.71,546.9 550.57,545.93 551.43,547.1 552.29,545.85 553.14,547.18 554,545.65 554.86,546.9 555.71,545.91 556.57,546.7 557.43,546.09 558.29,546.97 559.14,546.11 560,546.5 560.86,546.74 561.71,546.1 562.57,546.97 563.43,546.1 564.29,546.94 565.14,546.1 566,547.06 566.86,546.1 567.71,547.07 568.57,546.1 569.43,547.31 570.29,546.29 571.14,547.53 572,546.19 572.86,547.55 573.71,546.39 574.57,547.59 575.43,546.51 576.29,547.24 577.14,546.43 578,547.58 578.86,546.89 579.71,547.6 580.57,546.91 581.43,547.21 582.29,547.24 583.14,547.27 584,547.3 584.86,547.33 585.71,547.36 586.57,547.39 587.43,547.41 588.29,547.44 589.14,547.47 590,547.5 590.5,547.65 591,547.8" fill="none" stroke="#ffff00" stroke-width="1.2" stroke-linejoin="round" stroke-linecap="round"/>
<polyline points="408,547.8 408.86,547.78 409.71,547.77 410.57,547.75 411.43,547.74 412.29,547.72 413.14,547.71 414,547.69 414.86,547.68 415.71,547.66 416.57,547.65 417.43,547.63 418.29,547.61 419.14,547.6 420,547.58 420.86,547.57 421.71,547.55 422.57,547.54 423.43,547.52 424.29,547.51 425.14,547.49 426,547.47 426.86,547.46 427.71,547.44 428.57,547.43 429.43,547.41 430.29,547.4 431.14,547.38 432,547.37 432.86,547.35 433.71,547.34 434.57,547.32 435.43,547.3 436.29,547.29 437.14,547.27 438,547.26 438.86,547.24 439.71,547.23 440.57,547.21 441.43,547.6 442.29,546.72 443.14,547.57 444,546.59 444.86,547.51 445.71,546.93 446.57,547.6 447.43,546.52 448.29,547.6 449.14,546.49 450,547.6 450.86,546.3 451.71,547.39 452.57,546.32 453.43,547.6 454.29,546.47 455.14,547.54 456,546.75 456.86,547.43 457.71,546.27 458.57,547.57 459.43,546.65 460.29,547.24 461.14,546.16 462,547.35 462.86,546.1 463.71,546.99 464.57,546.3 465.43,547.25 466.29,546.38 467.14,547.02 468,546.16 468.86,547.44 469.71,546.1 470.57,546.96 471.43,546.42 472.29,546.93 473.14,546.1 474,546.83 474.86,546.1 475.71,546.85 476.57,546.1 477.43,547.14 478.29,546.15 479.14,546.89 480,546.5 480.85,546.13 481.7,547.14 482.55,545.82 483.4,547.05 484.26,546.05 485.11,547.14 485.96,545.76 486.81,547.09 487.66,545.96 488.51,546.9 489.36,545.8 490.21,546.86 491.06,545.66 491.91,546.74 492.77,545.75 493.62,546.63 494.47,545.98 495.32,546.89 496.17,545.76 497.02,547.08 497.87,545.69 498.72,546.7 499.57,545.66 500.43,546.67 501.28,545.6 502.13,546.87 502.98,545.6 503.83,546.57 504.68,545.6 505.53,546.54 506.38,545.67 507.23,546.38 508.09,545.6 508.94,546.78 509.79,545.6 510.64,546.96 511.49,545.6 512.34,546.5 513.19,545.6 514.04,546.86 514.89,545.75 515.74,546.52 516.6,545.6 517.45,546.89 518.3,545.65 519.15,546.89 520,546 520.85,545.6 521.7,546.39 522.55,545.68 523.4,546.59 524.26,545.6 525.11,546.92 525.96,545.6 526.81,546.73 527.66,545.6 528.51,546.99 529.36,545.6 530.21,546.39 531.06,545.6 531.91,546.98 532.77,545.6 533.62,546.68 534.47,545.6 535.32,546.53 536.17,545.6 537.02,546.6 537.87,545.6 538.72,546.46 539.57,545.67 540.43,547.01 541.28,545.94 542.13,546.8 542.98,545.85 543.83,547.12 544.68,545.87 545.53,547.07 546.38,546.02 547.23,547.03 548.09,546.05 548.94,546.92 549.79,545.88 550.64,546.76 551.49,545.83 552.34,546.82 553.19,545.78 554.04,547.2 554.89,546.06 555.74,547.02 556.6,545.73 557.45,547.16 558.3,546.07 559.15,547 560,546.5 560.86,546.1 561.71,547.22 562.57,546.1 563.43,547.25 564.29,546.1 565.14,547.37 566,546.12 566.86,547.14 567.71,546.33 568.57,547.21 569.43,546.55 570.29,547.5 571.14,546.44 572,547.51 572.86,546.63 573.71,547.42 574.57,546.79 575.43,547.53 576.29,546.64 577.14,547.57 578,546.4 578.86,547.6 579.71,546.62 580.57,547.39 581.43,547.21 582.29,547.24 583.14,547.27 584,547.3 584.86,547.33 585.71,547.36 586.57,547.39 587.43,547.41 588.29,547.44 589.14,547.47 590,547.5 590.5,547.65 591,547.8" fill="none" stroke="#808000" stroke-width="1.2" stroke-linejoin="round" stroke-linecap="round"/>
<polyline points="408,547.8 408.6,547.5 409.48,547.42 410.35,547.35 411.23,547.27 412.11,547.6 412.98,546.74 413.86,547.6 414.74,546.77 415.62,547.25 416.49,546.6 417.37,547.48 418.25,546.1 419.12,546.9 420,546.5 420.88,545.75 421.77,547.19 422.65,546.16 423.53,547.02 424.41,545.6 425.3,547.18 426.18,545.82 427.06,546.51 427.94,545.74 428.83,546.98 429.71,545.54 430.59,546.98 431.47,545.83 432.36,546.65 433.24,545.77 434.12,546.87 435,545.74 435.89,546.77 436.77,545.74 437.65,546.31 438.53,545.5 439.42,546.81 440.3,545.9 441.43,544.04 442.57,545.13 443.7,543.1 444.6,542.7 445.5,544.48 446.4,543.81 447.3,545.33 448.2,544.8 449.11,544.4 450.02,545.09 450.92,544.2 451.83,545.23 452.74,544.2 453.65,545.74 454.55,544.2 455.46,545.54 456.37,544.29 457.28,545.07 458.18,544.2 459.09,545.36 460,544.6 460.86,544.25 461.71,545.31 462.57,544.27 463.42,545.54 464.28,544.2 465.13,545.25 465.99,544.27 466.84,544.97 467.7,544.6 468.56,543.62 469.41,545.5 470.27,543.51 471.12,545.41 471.98,543.55 472.83,544.78 473.69,543.4 474.54,544.87 475.4,543.8 476.26,543.28 477.11,544.48 477.97,542.7 478.82,544.82 479.68,542.7 480.53,544.15 481.39,542.7 482.24,544.43 483.1,543.1 483.96,541.68 484.81,543.67 485.67,541.78 486.52,543.64 487.38,541.13 488.23,542.48 489.09,541.1 489.94,543.05 490.8,541.5 491.67,540.05 492.54,541.67 493.41,539.09 494.29,541.13 495.16,538.22 496.03,540.39 496.9,538.5 497.82,536.89 498.74,540.1 499.66,536.5 500.58,538.66 501.5,536.9 502.53,533.65 503.57,535.79 504.6,532.3 505.4,523.3 506.2,521.5 506.95,527.79 507.7,524.6 508.85,527.03 510,532.3 511.15,535.48 512.3,535.4 513.45,533.4 514.6,533.8 515.75,537.2 516.9,538.5 518.05,539.05 519.2,541.5 520.35,540.01 521.5,536.9 522.65,530.38 523.8,527.7 525,534.24 526.2,538.5 527.23,539.68 528.27,542.82 529.3,543.8 530.16,543.4 531.02,544.73 531.88,543.4 532.74,544.5 533.6,543.4 534.46,544.71 535.32,543.4 536.18,544.32 537.04,543.4 537.9,543.8 538.81,543.92 539.73,542.04 540.64,543.17 541.56,539.74 542.47,541.3 543.39,539.1 544.3,539.5 545.16,538.37 546.02,532.43 546.88,534.38 547.74,528.23 548.6,526.6 549.65,524.1 550.7,515.9 551.8,511.42 552.9,511.6 553.95,518.66 555,518 555.85,525.27 556.7,537.3 557.62,538.79 558.55,535.17 559.48,538.24 560.4,535.2 561.47,530.94 562.53,533.84 563.6,530.9 564.46,528.4 565.32,530.98 566.18,528.57 567.04,530.85 567.9,528.8 568.77,523.85 569.63,525.47 570.5,520.2 571.15,513.91 571.8,511.6 572.55,524.46 573.3,526.6 574.37,526.2 575.43,534.6 576.5,535.2 577.36,534.9 578.22,538.94 579.08,537.77 579.94,541.96 580.8,541.6 581.66,541.55 582.52,543.79 583.38,543.8 584.24,545.86 585.1,545.9 586.08,545.97 587.06,546.8 588.04,546.55 589.02,547.6 590,547.5 590.5,547.65 591,547.8" fill="none" stroke="#000080" stroke-width="1.2" stroke-linejoin="round" stroke-linecap="round"/>
<polyline points="259.9,904.8 262.5,896.3 265.8,889.7 269,883.8 271,884.4 273,878.5 276.3,873.3 277.6,872 280.9,865.4 282.8,856.2 284.8,845.7 286.5,836.5 288.1,840.4 290.1,836.5 291.8,827.3 293.6,819.4 295.3,828.6 297.3,833.2 299.3,828.6 301.2,833.9 303.2,847 304.9,844.4 306.5,858.8 308.5,875.9 309.8,885.1 311.1,875.9 313.1,870.6 315.7,865.4 317.7,850.9 319,841.7 320.3,832.5 322,839.1 323.6,837.8 324.9,844.4 326.8,837.1 328.8,844.4 330.8,838.1 333.8,832.3 336.6,852.1 339,828.8 341.3,821.9 343.6,817.2 347.1,831.2 349.4,796.3 351.7,775.3 354.1,769.5 356.4,773 359.9,777.7 362.2,759.1 364.3,720.1 365.5,696.7 366.7,672.4 368,660.2 368.9,672.4 370,692.6 371.2,707.2 372.4,700.7 374,682.1 375.2,688.6 376.5,704.8 377.7,720.1 380.3,740.5 383.1,784.7 385.9,828.8 388.1,826 390.5,820.2 392.2,828.4 394.5,850.5 396.5,857 398.6,862.1 400.9,874.8 403.7,866.6 406.4,853 409.1,836.6 410.5,838 412.1,824 414.2,819.1 415.8,811 417.4,805.3 418.6,792.4 419.4,773.8 420.6,779.4 421.9,785.9 423.1,794.8 423.7,802.1 424.3,792.4 425.1,780.2 426.3,760 427.7,738.8 429.2,729.6 431.3,722.5 432.8,730.6 434.3,733.7 435.7,746 436.9,742.9 438.4,728.6 439.4,710.2 440.5,690 441.8,664 443.2,645.5 444.5,652 446,675 447.1,700 448.1,715.3 449.6,730.6 450.7,751.1 451.7,800 452.3,844.8 455.5,885.7 459.6,903.5 461,905" fill="none" stroke="#000000" stroke-width="1.3" stroke-linejoin="round" stroke-linecap="round"/>
<polyline points="259.9,904.8 261.2,903.67 262.5,900.9 263.45,897.7 264.4,895.6 265.4,897.45 266.4,898.2 267.4,895.44 268.4,895.6 269.4,894.45 270.4,890.3 271.35,893.03 272.3,898.2 273.3,892.05 274.3,881.1 275.3,884.27 276.3,893 277.25,890.51 278.2,883.8 279.2,885.88 280.2,891.7 281.2,886.78 282.2,879.8 283.2,879.4 284.2,879.8 285.15,876.53 286.1,869.3 286.75,863.7 287.4,864.1 288.1,876.87 288.8,885.1 289.75,873.36 290.7,866.7 291.7,869.94 292.7,862.8 293.7,858.4 294.7,858.8 295.35,875.6 296,881.1 296.95,874.2 297.9,874.6 298.9,876.79 299.9,869.3 300.9,873.03 301.9,885.1 302.9,884.55 303.9,879.8 304.85,881.51 305.8,886.4 306.8,895.65 307.8,902.2 308.8,898.51 309.8,895.6 310.75,899.45 311.7,900.9 312.7,891.74 313.7,885.1 314.7,890.43 315.7,893 316.7,886.31 317.7,885.1 318.65,890.17 319.6,893 320.6,878.49 321.6,870.6 322.25,883.22 322.9,890.3 324.2,890.31 325.5,891.7 326.6,892.14 327.7,888.09 328.8,887.7 329.4,891.92 330,891.7 331.07,891.3 332.15,895.93 333.23,893.43 334.3,896.3 335.24,895.98 336.18,892.99 337.12,895.11 338.06,891.2 339,891.6 339.92,894.02 340.84,892.81 341.76,895.9 342.68,895.28 343.6,897.4 344.54,899.21 345.48,897 346.42,899.49 347.36,898.73 348.3,899.8 349.22,900.18 350.14,898.27 351.06,899.45 351.98,898.2 352.9,898.6 353.83,899.38 354.76,898.2 355.69,899.54 356.62,898.2 357.55,899.62 358.48,898.49 359.41,900.12 360.34,898.96 361.27,900.9 362.2,899.8 363.13,899.4 364.06,901.15 364.99,899.49 365.92,900.87 366.85,899.58 367.78,900.93 368.71,899.47 369.64,901.1 370.57,899.89 371.5,900.9 372.43,901.36 373.36,900.5 374.3,901.72 375.23,900.5 376.16,901.58 377.09,900.54 378.02,901.82 378.96,900.77 379.89,902.32 380.82,900.85 381.75,901.71 382.68,900.56 383.62,901.88 384.55,900.73 385.48,902.6 386.41,901.16 387.34,902.64 388.28,901.24 389.21,902.7 390.14,901.39 391.07,902.78 392,901.21 392.94,902.56 393.87,901.34 394.8,902.1 395.7,902.53 396.6,901.93 397.5,902.75 398.4,901.7 399.3,902.74 400.2,901.79 401.1,903.26 402,902.28 402.9,903.05 403.8,902.44 404.7,903.52 405.6,902.43 406.5,903.58 407.4,902.14 408.3,903.45 409.2,902.57 410.1,903.42 411,902.54 411.9,903.74 412.8,903 413.7,903.81 414.6,902.76 415.5,903.98 416.4,902.73 417.3,903.5 418.21,903.99 419.13,903.03 420.04,903.59 420.95,902.69 421.87,903.34 422.78,902.33 423.69,903.56 424.61,902.3 425.52,903.51 426.43,902.22 427.35,902.73 428.26,901.7 429.17,903.1 430.09,901.7 431,902.1 431.9,902.05 432.8,901.21 433.7,901.84 434.6,900.25 435.5,901.52 436.4,899.21 437.3,900.74 438.2,899 439.1,899.4 440.01,900.52 440.92,897.98 441.83,899.97 442.74,897.88 443.66,900.02 444.57,897.99 445.48,898.95 446.39,897.6 447.3,898 448.32,898.44 449.35,895.43 450.38,897.82 451.4,895.3 452.42,895.6 453.45,898.42 454.48,896.94 455.5,899.4 456.52,901.47 457.55,900.96 458.58,903.17 459.6,903.5 460.3,903.89 461,905" fill="none" stroke="#ff0000" stroke-width="1.3" stroke-linejoin="round" stroke-linecap="round"/>
<polyline points="259.9,904.8 260.88,904.47 261.87,904.35 262.85,903.16 263.83,904.04 264.82,902.53 265.8,902.8 266.84,903.23 267.88,901.8 268.92,902.78 269.96,901.96 271,902.2 272.06,903.37 273.12,901.8 274.18,902.96 275.24,901.92 276.3,902.8 277.34,903.46 278.38,901.84 279.42,902.59 280.46,901.3 281.5,901.5 282.56,901.55 283.62,899.82 284.68,901.8 285.74,899.17 286.8,899.5 287.84,900.05 288.88,898.43 289.92,899.95 290.96,897.8 292,898.2 293.06,899.55 294.12,896.49 295.18,897.78 296.24,895.2 297.3,895.6 298.34,897.08 299.38,895.2 300.42,897.85 301.46,895.2 302.5,896.9 303.5,898.58 304.5,894.78 305.5,896.62 306.5,894.3 307.8,896.29 309.1,902.2 310.4,900.83 311.7,898.2 312.7,895.65 313.7,897.03 314.7,893.9 315.7,894.3 317,894.29 318.3,890.3 319.3,890.43 320.3,893 320.95,890.45 321.6,878.5 322.25,880.14 322.9,890.3 324.2,891.06 325.5,883.8 326.4,883.4 327.3,887.15 328.2,885.07 329.1,892.17 330,888.8 330.6,882.6 331.2,883 332.05,887.22 332.9,886.5 333.8,882.6 334.7,883 335.55,889.3 336.4,891.2 337,894.51 337.6,901.6 338.45,887.96 339.3,869.1 340.15,874.19 341,885.3 341.9,884.52 342.8,873.7 343.65,867.5 344.5,867.9 345.1,879.72 345.7,880.7 346.55,880.3 347.4,886.5 348.3,873.93 349.2,854 349.75,850.1 350.3,850.5 350.9,851.69 351.5,843.5 352.1,846.91 352.7,855.1 353.25,857.12 353.8,852.8 354.4,853.83 355,862.1 355.75,861.93 356.5,847 357.2,846.6 357.9,852.8 358.5,860.67 359.1,862.1 359.65,862.9 360.2,869.1 360.9,866.06 361.6,852.8 362.2,852.4 362.8,862.1 363.4,853.44 364,838.8 364.55,839.85 365.1,851.6 365.85,850.29 366.6,838.8 367.2,827.62 367.8,824.9 368.65,839.81 369.5,845.8 370.4,845.4 371.3,859.8 372.05,854.53 372.8,836.5 373.4,828 374,828.4 374.65,839.16 375.3,836.5 375.9,830.26 376.5,829.5 377.1,854.26 377.7,866.7 378.25,861.7 378.8,862.1 379.7,872.95 380.6,867.9 381.45,867.5 382.3,869.1 382.9,879.34 383.5,885.3 384.35,884.9 385.2,886.5 386.1,890.34 387,890 387.85,884.9 388.7,885.3 389.6,892.47 390.5,892.3 391.65,890.8 392.8,891.2 393.95,896.93 395.1,898.1 396.25,895.61 397.4,894.7 398,900 399.25,900.18 400.5,897.5 401.75,896.3 403,896.7 404.25,897.74 405.5,897.5 406.75,894.73 408,895 409.25,896.23 410.5,893.5 411.75,891.3 413,891.7 414.25,894.75 415.5,894 416.75,892.9 418,893.3 418.85,893.49 419.7,889 420.5,888.6 421.3,890 422.15,892.89 423,887.5 423.85,887.1 424.7,890 425.35,889.08 426,884 426.6,883.6 427.2,886.7 427.85,888.44 428.5,882 429.1,881.74 429.7,885 430.5,887.75 431.3,881.5 432.15,881.1 433,886.7 433.85,885.68 434.7,882 435.5,881.6 436.3,885 437.15,886.86 438,880 438.85,877.9 439.7,878.3 440.35,880.45 441,876 441.6,874.6 442.2,875 443,882.35 443.8,880 444.65,872.9 445.5,873.3 446.1,878.99 446.7,878 447.35,877.6 448,881.7 449,888.05 450,885 450.85,887.9 451.7,895 452.6,899.06 453.5,901 454.43,900.68 455.36,902.43 456.29,901.83 457.21,903.87 458.14,902.82 459.07,904.62 460,904.5 460.5,904.75 461,905" fill="none" stroke="#0000ff" stroke-width="1.3" stroke-linejoin="round" stroke-linecap="round"/>
<polyline points="259.4,905 260.3,904.99 261.2,904.98 262.11,904.97 263.01,904.96 263.91,904.94 264.81,904.93 265.72,904.92 266.62,904.91 267.52,904.9 268.42,904.89 269.32,904.88 270.23,904.87 271.13,904.86 272.03,904.84 272.93,904.83 273.84,904.82 274.74,904.81 275.64,904.8 276.54,904.79 277.44,904.78 278.35,904.77 279.25,904.76 280.15,904.74 281.05,904.73 281.96,904.72 282.86,904.71 283.76,904.7 284.66,904.69 285.56,904.68 286.47,904.67 287.37,904.66 288.27,904.64 289.17,904.63 290.08,904.62 290.98,904.61 291.88,904.6 292.78,904.59 293.68,904.58 294.59,904.57 295.49,904.56 296.39,904.54 297.29,904.53 298.2,904.52 299.1,904.51 300,904.5 300.91,904.49 301.82,904.47 302.73,904.46 303.64,904.45 304.55,904.44 305.45,904.42 306.36,904.41 307.27,904.55 308.18,904.08 309.09,904.75 310,904 310.91,904.8 311.82,904 312.73,904.7 313.64,904.05 314.55,904.77 315.45,903.85 316.36,904.58 317.27,904.07 318.18,904.52 319.09,903.86 320,904.75 320.91,903.82 321.82,904.39 322.73,903.65 323.64,904.78 324.55,903.62 325.45,904.51 326.36,903.9 327.27,904.44 328.18,903.51 329.09,904.49 330,903.64 330.91,904.68 331.82,903.49 332.73,904.49 333.64,903.65 334.55,904.38 335.45,903.5 336.36,904.16 337.27,903.65 338.18,904.58 339.09,903.6 340,904.22 340.91,903.55 341.82,904.37 342.73,903.33 343.64,904.48 344.55,903.31 345.45,904.1 346.36,903.27 347.27,904.06 348.18,903.37 349.09,904.39 350,903.18 350.91,904.01 351.82,903.12 352.73,904.29 353.64,903.49 354.55,904.3 355.45,903.12 356.36,904.35 357.27,903.1 358.18,903.99 359.09,903.3 360,904.22 360.91,903.1 361.82,904.32 362.73,903.23 363.64,904.22 364.55,903.1 365.45,903.85 366.36,903.1 367.27,904.2 368.18,903.33 369.09,903.74 370,903.5 370.91,903.24 371.82,903.95 372.73,903.1 373.64,904.16 374.55,903.23 375.45,904.05 376.36,903.22 377.27,904.23 378.18,903.1 379.09,903.9 380,903.1 380.91,903.76 381.82,903.1 382.73,904.18 383.64,903.39 384.55,904.04 385.45,903.21 386.36,904.17 387.27,903.26 388.18,904.24 389.09,903.1 390,904.3 390.91,903.1 391.82,903.83 392.73,903.11 393.64,903.93 394.55,903.31 395.45,904.13 396.36,903.17 397.27,904.18 398.18,903.4 399.09,904.17 400,903.24 400.91,903.94 401.82,903.43 402.73,904.3 403.64,903.42 404.55,904.33 405.45,903.26 406.36,904.12 407.27,903.14 408.18,904.37 409.09,903.44 410,904.15 410.91,903.19 411.82,904.45 412.73,903.37 413.64,904.23 414.55,903.57 415.45,904.05 416.36,903.32 417.27,904.1 418.18,903.37 419.09,904.05 420,903.54 420.91,904.31 421.82,903.69 422.73,904.16 423.64,903.63 424.55,904.38 425.45,903.49 426.36,904.47 427.27,903.25 428.18,904.44 429.09,903.59 430,904.2 430.91,903.45 431.82,904.2 432.73,903.7 433.64,904.4 434.55,903.48 435.45,904.28 436.36,903.7 437.27,904.6 438.18,903.35 439.09,904.41 440,904 440.91,903.6 441.83,904.34 442.74,903.76 443.65,904.48 444.57,904 445.48,904.79 446.39,904.05 447.3,904.72 448.22,903.87 449.13,904.64 450.04,904.05 450.96,904.42 451.87,904.45 452.78,904.49 453.7,904.52 454.61,904.56 455.52,904.59 456.43,904.63 457.35,904.66 458.26,904.7 459.17,904.73 460.09,904.77 461,904.8" fill="none" stroke="#ff00ff" stroke-width="1.3" stroke-linejoin="round" stroke-linecap="round"/>
<polyline points="259.4,905 260.31,905 261.21,904.99 262.12,904.99 263.03,904.98 263.93,904.98 264.84,904.97 265.74,904.97 266.65,904.96 267.56,904.96 268.46,904.95 269.37,904.95 270.28,904.95 271.18,904.94 272.09,904.94 272.99,904.93 273.9,904.93 274.81,904.92 275.71,904.92 276.62,904.91 277.53,904.91 278.43,904.91 279.34,904.9 280.25,904.9 281.15,904.89 282.06,904.89 282.96,904.88 283.87,904.88 284.78,904.87 285.68,904.87 286.59,904.86 287.5,904.86 288.4,904.86 289.31,904.85 290.21,904.85 291.12,904.84 292.03,904.84 292.93,904.83 293.84,904.83 294.75,904.82 295.65,904.82 296.56,904.82 297.46,904.81 298.37,904.81 299.28,904.8 300.18,904.8 301.09,904.79 302,904.79 302.9,904.78 303.81,904.78 304.72,904.77 305.62,904.77 306.53,904.77 307.43,904.76 308.34,904.76 309.25,904.75 310.15,904.75 311.06,904.74 311.97,904.74 312.87,904.73 313.78,904.73 314.68,904.73 315.59,904.72 316.5,904.72 317.4,904.71 318.31,904.71 319.22,904.7 320.12,904.7 321.03,904.69 321.94,904.69 322.84,904.68 323.75,904.68 324.65,904.68 325.56,904.67 326.47,904.67 327.37,904.66 328.28,904.66 329.19,904.65 330.09,904.65 331,904.64 331.9,904.64 332.81,904.64 333.72,904.63 334.62,904.63 335.53,904.62 336.44,904.62 337.34,904.61 338.25,904.61 339.15,904.6 340.06,904.6 340.97,904.59 341.87,904.59 342.78,904.59 343.69,904.58 344.59,904.58 345.5,904.57 346.41,904.57 347.31,904.56 348.22,904.56 349.12,904.55 350.03,904.55 350.94,904.55 351.84,904.54 352.75,904.54 353.66,904.53 354.56,904.53 355.47,904.52 356.37,904.52 357.28,904.51 358.19,904.51 359.09,904.5 360,904.5 360.92,904.44 361.84,903.76 362.76,904.38 363.68,903.34 364.6,903.49 365.52,902.52 366.44,903.23 367.36,902.23 368.28,902.97 369.2,902.1 370.1,901.94 371,902.73 371.9,901.94 372.8,903.3 373.7,902.42 374.6,903.59 375.5,903.15 376.4,904.19 377.3,903.73 378.2,904.56 379.1,903.99 380,904.5 380.9,904.51 381.8,904.51 382.7,904.52 383.6,904.52 384.5,904.53 385.4,904.53 386.3,904.54 387.2,904.54 388.1,904.55 389,904.56 389.9,904.56 390.8,904.57 391.7,904.57 392.6,904.58 393.5,904.58 394.4,904.59 395.3,904.59 396.2,904.6 397.1,904.61 398,904.61 398.9,904.62 399.8,904.62 400.7,904.63 401.6,904.63 402.5,904.64 403.4,904.64 404.3,904.65 405.2,904.66 406.1,904.66 407,904.67 407.9,904.67 408.8,904.68 409.7,904.68 410.6,904.69 411.5,904.69 412.4,904.7 413.3,904.71 414.2,904.71 415.1,904.72 416,904.72 416.9,904.73 417.8,904.73 418.7,904.74 419.6,904.74 420.5,904.75 421.4,904.76 422.3,904.76 423.2,904.77 424.1,904.77 425,904.78 425.9,904.78 426.8,904.79 427.7,904.79 428.6,904.8 429.5,904.81 430.4,904.81 431.3,904.82 432.2,904.82 433.1,904.83 434,904.83 434.9,904.84 435.8,904.84 436.7,904.85 437.6,904.86 438.5,904.86 439.4,904.87 440.3,904.87 441.2,904.88 442.1,904.88 443,904.89 443.9,904.89 444.8,904.9 445.7,904.91 446.6,904.91 447.5,904.92 448.4,904.92 449.3,904.93 450.2,904.93 451.1,904.94 452,904.94 452.9,904.95 453.8,904.96 454.7,904.96 455.6,904.97 456.5,904.97 457.4,904.98 458.3,904.98 459.2,904.99 460.1,904.99 461,905" fill="none" stroke="#008000" stroke-width="1.3" stroke-linejoin="round" stroke-linecap="round"/>
<polyline points="259.9,904.8 260.81,904.78 261.72,904.76 262.63,904.75 263.55,904.73 264.46,904.71 265.37,904.69 266.28,904.67 267.19,904.65 268.1,904.64 269.01,904.62 269.92,904.6 270.84,904.58 271.75,904.56 272.66,904.55 273.57,904.53 274.48,904.51 275.39,904.49 276.3,904.47 277.22,904.45 278.13,904.44 279.04,904.42 279.95,904.77 280.86,903.63 281.77,904.8 282.68,903.69 283.6,904.8 284.51,904.04 285.42,904.8 286.33,903.82 287.24,904.8 288.15,903.84 289.06,904.8 289.98,903.61 290.89,904.54 291.8,903.6 292.71,904.54 293.62,903.72 294.53,904.8 295.44,903.66 296.35,904.3 297.27,903.6 298.18,904.43 299.09,903.6 300,904 300.93,904.25 301.85,902.99 302.78,904.67 303.7,903.36 304.63,904.46 305.56,902.99 306.48,904.22 307.41,902.81 308.33,903.87 309.26,902.7 310.19,903.76 311.11,902.32 312.04,903.56 312.96,902.44 313.89,903.91 314.81,901.92 315.74,903.7 316.67,901.71 317.59,903.07 318.52,901.8 319.44,902.88 320.37,901.7 321.3,903.34 322.22,901.7 323.15,903.12 324.07,901.7 325,902.1 325.92,902.43 326.84,901.1 327.76,902.72 328.68,901.12 329.61,903.12 330.53,901.61 331.45,902.54 332.37,901.1 333.29,903.04 334.21,901.1 335.13,902.85 336.05,901.1 336.97,903.26 337.89,901.13 338.82,903.22 339.74,901.1 340.66,903.2 341.58,901.33 342.5,902.73 343.42,901.1 344.34,902.36 345.26,901.1 346.18,902.82 347.11,901.11 348.03,903.05 348.95,901.1 349.87,903.03 350.79,901.1 351.71,902.7 352.63,901.1 353.55,902.02 354.47,901.1 355.39,902.45 356.32,901.1 357.24,902.78 358.16,901.1 359.08,902.29 360,901.5 360.98,901.1 361.96,902.89 362.94,901.1 363.92,902.73 364.9,901.6 366.05,897.88 367.2,897 368.35,898.52 369.5,898.1 370.7,895.18 371.9,894.7 372.75,894.85 373.6,892.3 374.45,891.9 375.3,895.8 376.5,896.52 377.7,894.7 378.55,893.1 379.4,893.5 380.3,893.45 381.2,891.2 382.05,890.97 382.9,893.5 383.8,897.78 384.7,897 385.55,892.6 386.4,891.2 387.25,896.31 388.1,894.7 389.3,893.1 390.5,893.5 391.65,896.36 392.8,897 393.95,896.6 395.1,898.1 396.07,899.27 397.03,897.7 398,898.3 399.1,898.96 400.2,896.59 401.3,896.7 402.43,897.16 403.57,894.6 404.7,895 405.8,896.47 406.9,894.6 408,895.8 409.1,895.77 410.2,892.9 411.3,893.3 412.43,894.98 413.57,889.6 414.7,890 415.8,893.64 416.9,889.6 418,891.7 419.25,888.63 420.5,878.3 421.35,880.31 422.2,890 423.45,891.57 424.7,886.7 425.5,878.84 426.3,878.3 427.15,885.24 428,883.3 428.85,871.45 429.7,871.7 430.5,880.03 431.3,881.7 432.15,875.54 433,873.3 433.85,884.74 434.7,883.3 435.7,866.58 436.7,856.7 437.75,857.02 438.8,846.7 439.9,836.64 441,833.3 441.85,834.7 442.7,820 443.5,822.13 444.3,830 445.3,840.7 446.3,840 447.15,839.6 448,848.3 449,867.76 450,870 450.85,873.77 451.7,890 452.75,897.23 453.8,900 454.7,899.6 455.6,901.84 456.5,899.87 457.4,902.84 458.3,902.1 459.65,902.54 461,904.5" fill="none" stroke="#000080" stroke-width="1.3" stroke-linejoin="round" stroke-linecap="round"/>
<polyline points="259.4,905 260,904.8 261,904.44 262,904.29 263,903.23 264,903.57 265,903 265.94,902.6 266.88,903.69 267.81,902.61 268.75,903.57 269.69,902.95 270.62,903.7 271.56,902.7 272.5,903.86 273.44,902.77 274.38,904.03 275.31,902.99 276.25,903.78 277.19,902.69 278.12,903.93 279.06,903.25 280,903.5 280.91,904 281.82,902.84 282.73,903.98 283.64,903.21 284.55,904.05 285.45,902.86 286.36,904.07 287.27,902.96 288.18,903.87 289.09,902.97 290,903.61 290.91,902.71 291.82,903.92 292.73,902.6 293.64,903.8 294.55,902.73 295.45,903.59 296.36,902.81 297.27,903.28 298.18,902.6 299.09,903.36 300,903 300.91,902.6 301.82,903.41 302.73,902.6 303.64,903.69 304.55,902.63 305.45,903.87 306.36,902.6 307.27,903.55 308.18,902.69 309.09,903.57 310,902.6 310.91,903.73 311.82,902.94 312.73,903.91 313.64,902.74 314.55,903.95 315.45,903.01 316.36,903.78 317.27,902.84 318.18,903.6 319.09,902.79 320,903.83 320.91,902.66 321.82,903.56 322.73,902.97 323.64,903.67 324.55,902.8 325.45,903.75 326.36,903.06 327.27,903.77 328.18,902.86 329.09,904.08 330,903.5 330.91,903.1 331.82,903.75 332.73,903.1 333.64,904.2 334.55,903.2 335.45,903.78 336.36,903.42 337.27,904.03 338.18,903.1 339.09,903.99 340,903.15 340.91,903.9 341.82,903.45 342.73,904.21 343.64,903.2 344.55,904.28 345.45,903.18 346.36,904.13 347.27,903.53 348.18,904.01 349.09,903.45 350,904.05 350.91,903.63 351.82,904.12 352.73,903.68 353.64,904.16 354.55,903.63 355.45,904.23 356.36,903.58 357.27,904.38 358.18,903.69 359.09,904.48 360,904 360.9,903.61 361.8,904.63 362.71,903.68 363.61,904.38 364.51,903.82 365.41,904.32 366.31,903.6 367.21,904.4 368.12,903.71 369.02,904.63 369.92,903.69 370.82,904.63 371.72,903.83 372.62,904.29 373.53,903.6 374.43,904.46 375.33,903.66 376.23,904.58 377.13,903.75 378.04,904.67 378.94,903.6 379.84,904.53 380.74,903.83 381.64,904.61 382.54,903.76 383.45,904.51 384.35,903.85 385.25,904.55 386.15,903.84 387.05,904.46 387.96,903.7 388.86,904.8 389.76,903.8 390.66,904.6 391.56,903.97 392.46,904.75 393.37,904.02 394.27,904.6 395.17,903.84 396.07,904.8 396.97,904.12 397.88,904.76 398.78,904.14 399.68,904.78 400.58,904 401.48,904.8 402.38,903.92 403.29,904.6 404.19,904.17 405.09,904.6 405.99,904.21 406.89,904.61 407.79,903.83 408.7,904.69 409.6,903.87 410.5,904.68 411.4,904.41 412.3,904.41 413.21,904.42 414.11,904.43 415.01,904.44 415.91,904.44 416.81,904.45 417.71,904.46 418.62,904.46 419.52,904.47 420.42,904.48 421.32,904.49 422.22,904.49 423.12,904.5 424.03,904.51 424.93,904.51 425.83,904.52 426.73,904.53 427.63,904.54 428.54,904.54 429.44,904.55 430.34,904.56 431.24,904.56 432.14,904.57 433.04,904.58 433.95,904.59 434.85,904.59 435.75,904.6 436.65,904.61 437.55,904.61 438.46,904.62 439.36,904.63 440.26,904.64 441.16,904.64 442.06,904.65 442.96,904.66 443.87,904.66 444.77,904.67 445.67,904.68 446.57,904.69 447.47,904.69 448.38,904.7 449.28,904.71 450.18,904.71 451.08,904.72 451.98,904.73 452.88,904.74 453.79,904.74 454.69,904.75 455.59,904.76 456.49,904.76 457.39,904.77 458.29,904.78 459.2,904.79 460.1,904.79 461,904.8" fill="none" stroke="#8000ff" stroke-width="1.3" stroke-linejoin="round" stroke-linecap="round"/>
<polyline points="259.9,904.8 260.81,904.77 261.72,904.74 262.63,904.71 263.55,904.68 264.46,904.65 265.37,904.62 266.28,904.59 267.19,904.56 268.1,904.53 269.01,904.5 269.92,904.47 270.84,904.45 271.75,904.42 272.66,904.69 273.57,904.1 274.48,904.75 275.39,904.02 276.3,904.59 277.22,903.74 278.13,904.57 279.04,903.6 279.95,904.55 280.86,903.89 281.77,904.52 282.68,903.46 283.6,904.52 284.51,903.41 285.42,904.15 286.33,903.46 287.24,904.14 288.15,903.32 289.06,904.32 289.98,903.37 290.89,904.12 291.8,903.48 292.71,904.12 293.62,903.52 294.53,903.88 295.44,903.18 296.35,904.08 297.27,903.1 298.18,904.09 299.09,903.32 300,903.5 300.93,904.05 301.85,903.19 302.78,904.08 303.7,903.13 304.63,903.82 305.56,902.98 306.48,904.02 307.41,902.9 308.33,903.74 309.26,902.9 310.19,904.04 311.11,902.97 312.04,904.08 312.96,902.9 313.89,903.96 314.81,902.9 315.74,903.88 316.67,902.9 317.59,903.84 318.52,902.9 319.44,903.98 320.37,902.9 321.3,903.79 322.22,902.9 323.15,903.94 324.07,902.9 325,903.3 325.92,903.97 326.84,902.6 327.76,903.68 328.67,902.63 329.59,903.7 330.51,902.73 331.43,903.29 332.35,902.81 333.27,903.73 334.18,902.32 335.1,903.46 336.02,902.67 336.94,903.12 337.86,902.41 338.78,903.62 339.69,902.02 340.61,903.26 341.53,902.26 342.45,903.5 343.37,902.2 344.29,903.32 345.21,902.28 346.12,902.92 347.04,902.02 347.96,902.74 348.88,901.7 349.8,903 350.72,901.83 351.63,903.14 352.55,901.9 353.47,903.05 354.39,901.88 355.31,902.62 356.23,901.96 357.14,902.73 358.06,901.7 358.98,902.53 359.9,902.1 360.9,900.49 361.9,901.51 362.9,899.67 363.9,899.96 364.9,897.62 365.9,899.2 366.9,897.4 367.82,897 368.74,898.73 369.66,897 370.58,898.94 371.5,897.4 372.5,897 373.5,899.6 374.5,897.99 375.5,899.51 376.5,898.27 377.5,900.78 378.5,899.8 379.42,900.1 380.34,901.99 381.26,901.53 382.18,902.83 383.1,903.3 384.02,902.9 384.95,903.86 385.87,902.9 386.79,903.59 387.71,902.9 388.63,903.66 389.56,902.9 390.48,903.75 391.4,902.9 392.33,903.83 393.25,903.02 394.17,903.66 395.09,903.16 396.01,903.97 396.94,903.13 397.86,903.62 398.78,903.17 399.71,903.74 400.63,902.9 401.55,903.85 402.47,902.9 403.39,904.03 404.32,902.9 405.24,904.15 406.16,902.9 407.09,904.09 408.01,903.05 408.93,903.74 409.85,902.99 410.77,903.88 411.7,903.04 412.62,903.98 413.54,902.9 414.47,903.94 415.39,902.97 416.31,903.68 417.23,903 418.15,904 419.08,902.94 420,903.5 420.91,903.96 421.82,902.88 422.73,903.84 423.64,902.96 424.55,904.02 425.45,903.01 426.36,903.61 427.27,902.82 428.18,903.45 429.09,902.33 430,903.36 430.91,902.63 431.82,903.33 432.73,902.1 433.64,903.04 434.55,902.1 435.45,903.27 436.36,902.27 437.27,903.25 438.18,902.24 439.09,903.2 440,902.5 440.94,902.1 441.88,902.88 442.81,902.42 443.75,903.13 444.69,902.1 445.62,903.28 446.56,902.57 447.5,903.45 448.44,902.84 449.38,903.4 450.31,902.96 451.25,903.45 452.19,902.68 453.12,903.92 454.06,903.18 455,903.5 456,904.2 457,903.29 458,904.51 459,904 460,904.58 461,904.8" fill="none" stroke="#800080" stroke-width="1.3" stroke-linejoin="round" stroke-linecap="round"/>
<polyline points="259.9,904.8 260.81,904.76 261.72,904.72 262.63,904.68 263.54,904.64 264.46,904.61 265.37,904.57 266.28,904.53 267.19,904.49 268.1,904.45 269.01,904.41 269.92,904.8 270.83,903.7 271.74,904.68 272.66,903.7 273.57,904.8 274.48,903.7 275.39,904.73 276.3,904.1 277.29,903.1 278.27,904.56 279.26,902.56 280.25,904.56 281.24,902.46 282.23,903.49 283.21,902.56 284.2,902.8 285.24,903.46 286.28,899.69 287.32,902.36 288.36,899.1 289.4,899.5 290.38,899.5 291.35,895.2 292.32,897.84 293.3,895.6 294.3,892.25 295.3,891.7 295.95,895.69 296.6,896.9 297.7,895.2 298.8,899.33 299.9,895.6 301.2,895.2 302.5,898.2 303.85,898.72 305.2,896.9 306.3,896.88 307.4,901.49 308.5,900.9 309.57,900.5 310.63,903.16 311.7,902.2 312.7,899.48 313.7,902.12 314.7,898.29 315.7,898.2 317,899.93 318.3,895.6 319.4,891.48 320.5,895.9 321.6,890.3 322.6,892.61 323.6,898.2 324.9,898.65 326.2,894.3 327.15,893.9 328.1,896.41 329.05,893.9 330,894.7 331.15,900.12 332.3,899.3 333.5,892.31 334.7,892.3 335.55,897.99 336.4,898.1 337.25,900.5 338.1,904 339,895.41 339.9,883 340.75,885.76 341.6,898.1 342.5,895.15 343.4,888.8 344.25,888.4 345.1,892.3 346,895.61 346.9,894.7 347.75,889.6 348.6,890 349.45,890.55 350.3,883 351.2,879.1 352.1,879.5 352.95,887.13 353.8,878.4 354.7,874.5 355.6,874.9 356.45,881.1 357.3,871.4 358.2,871 359.1,874.9 359.95,878.43 360.8,870.2 361.7,864 362.6,864.4 363.15,870.41 363.7,855.1 364.3,850.1 364.9,850.5 365.45,856.13 366,841.2 366.5,826.8 367,827.2 367.55,826.23 368.1,808.6 368.7,813.92 369.3,827.2 369.9,843.17 370.5,845.8 371.05,845.4 371.6,855.1 372.3,860.76 373,844.7 373.7,836.1 374.4,836.5 375,851.34 375.6,841.2 376.15,840.8 376.7,850.5 377.5,853.82 378.3,843.5 379.05,843.1 379.8,855.1 380.5,861.54 381.2,848.1 381.9,844.3 382.6,844.7 383.15,867.92 383.7,864.4 384.45,871.01 385.2,883 385.95,882.54 386.7,864.4 387.4,864.02 388.1,878.4 388.8,872.57 389.5,860.9 390.25,865.3 391,878.4 391.9,883.14 392.8,871.4 393.65,875.3 394.5,885.3 395.25,891.27 396,890 396.6,879.21 397.2,878 398,881.7 398.85,889.78 399.7,893.3 400.5,882.68 401.3,876.7 402.15,887.19 403,886.7 403.85,867.59 404.7,866.7 405.5,879.36 406.3,883.3 407.15,864.82 408,856.7 408.65,871.35 409.3,870 409.9,848.33 410.5,846.7 411.35,865.72 412.2,873.3 413,849.69 413.8,843.3 414.65,853.7 415.5,856.7 416.35,835.9 417.2,833.3 418,833.56 418.8,826.7 419.4,813.72 420,813.3 420.5,811.35 421,796.7 421.6,816.82 422.2,846.7 422.75,857.34 423.3,856.7 424,825.86 424.7,820 425.35,824.69 426,806.7 426.85,806.3 427.7,811.7 428.5,826.84 429.3,833.3 429.9,805.34 430.5,803.3 431.35,806.96 432.2,785 433,787.79 433.8,803.3 434.65,818.97 435.5,823.3 436.1,809.36 436.7,806.7 437.35,831.03 438,840 438.85,805.82 439.7,796.7 440.35,794.51 441,773.3 441.6,752.1 442.2,752.5 442.75,775.23 443.3,790 444,789.6 444.7,798.3 445.5,814.36 446.3,818.3 447.15,809.6 448,810 448.85,828.53 449.7,840 450.35,840.48 451,853.3 451.6,881.18 452.2,890 453,891.73 453.8,900 454.7,901.61 455.6,899.6 456.5,902.84 457.4,900.01 458.3,902.1 459.65,904.35 461,904.5" fill="none" stroke="#800000" stroke-width="1.3" stroke-linejoin="round" stroke-linecap="round"/>
<line x1="46.5" y1="240.1" x2="325" y2="240.1" stroke="#000" stroke-opacity="0.45" stroke-width="1.6"/>
<line x1="390.7" y1="240.5" x2="669" y2="240.5" stroke="#000" stroke-opacity="0.45" stroke-width="1.6"/>
<line x1="46.4" y1="544.8" x2="324.6" y2="544.8" stroke="#000" stroke-opacity="0.45" stroke-width="1.6"/>
<line x1="390.6" y1="547.8" x2="669" y2="547.8" stroke="#000" stroke-opacity="0.45" stroke-width="1.6"/>
<line x1="244.6" y1="905" x2="558.8" y2="905" stroke="#000" stroke-opacity="0.45" stroke-width="1.6"/>
<line x1="205.64" y1="5.5" x2="205.64" y2="240.1" stroke="#1a1a1a" stroke-width="1.3" stroke-dasharray="5.5,5.8" stroke-dashoffset="-4.8"/>
<line x1="549.73" y1="5.7" x2="549.73" y2="240.5" stroke="#505050" stroke-width="1.5" stroke-dasharray="5.5,5.8" stroke-dashoffset="-5.3"/>
<line x1="205.37" y1="309.9" x2="205.37" y2="544.8" stroke="#1a1a1a" stroke-width="1.3" stroke-dasharray="5.5,5.8" stroke-dashoffset="-5.2"/>
<line x1="549.69" y1="313.3" x2="549.69" y2="547.8" stroke="#505050" stroke-width="1.5" stroke-dasharray="5.5,5.8" stroke-dashoffset="-5"/>
<line x1="424.14" y1="641" x2="424.14" y2="905" stroke="#1a1a1a" stroke-width="1.9" stroke-dasharray="9,9.3" stroke-dashoffset="0"/>
<text transform="translate(20.8 193) rotate(-90)" x="0" y="0" font-size="12.05" font-weight="bold" font-family='"Liberation Sans", sans-serif' stroke="#000" stroke-width="0.3">Density of States(state/ eV)</text>
<text transform="translate(364.5 192) rotate(-90)" x="0" y="0" font-size="12.2" font-weight="bold" font-family='"Liberation Sans", sans-serif' stroke="#000" stroke-width="0.3">Density of States(state/eV)</text>
<text transform="translate(21 495.6) rotate(-90)" x="0" y="0" font-size="12.2" font-weight="bold" font-family='"Liberation Sans", sans-serif' stroke="#000" stroke-width="0.3">Density of States(state/ev)</text>
<text transform="translate(364.5 495.3) rotate(-90)" x="0" y="0" font-size="12" font-weight="bold" font-family='"Liberation Sans", sans-serif' stroke="#000" stroke-width="0.3">Density of State(state/eV)</text>
<text transform="translate(215.5 854.5) rotate(-90)" x="0" y="0" font-size="14.3" font-weight="bold" font-family='"Liberation Sans", sans-serif' stroke="#000" stroke-width="0.3">Density of State(state/eV)</text>
<text x="186" y="275.8" font-size="11.8" text-anchor="middle" font-weight="bold" font-family='"Liberation Sans", sans-serif'  stroke="#000" stroke-width="0.3">Energy (eV)</text>
<text x="529.9" y="275.7" font-size="11.8" text-anchor="middle" font-weight="bold" font-family='"Liberation Sans", sans-serif'  stroke="#000" stroke-width="0.3">Energy (eV)</text>
<text x="185.7" y="580" font-size="11.8" text-anchor="middle" font-weight="bold" font-family='"Liberation Sans", sans-serif'  stroke="#000" stroke-width="0.3">Energy (eV)</text>
<text x="529.9" y="583.5" font-size="11.8" text-anchor="middle" font-weight="bold" font-family='"Liberation Sans", sans-serif'  stroke="#000" stroke-width="0.3">Energy (eV)</text>
<text x="401.7" y="944.9" font-size="13" text-anchor="middle" font-weight="bold" font-family='"Liberation Sans", sans-serif'  stroke="#000" stroke-width="0.3">Energy (eV)</text>
<text x="195.2" y="303" font-size="21.2" text-anchor="middle" font-weight="normal" font-family='"Liberation Serif", serif' >(a)</text>
<text x="542.2" y="303.6" font-size="21.2" text-anchor="middle" font-weight="normal" font-family='"Liberation Serif", serif' >(b)</text>
<text x="191.3" y="607" font-size="21.2" text-anchor="middle" font-weight="normal" font-family='"Liberation Serif", serif' >(c)</text>
<text x="542.2" y="606.3" font-size="21.2" text-anchor="middle" font-weight="normal" font-family='"Liberation Serif", serif' >(d)</text>
<text x="375.6" y="986" font-size="15.5" text-anchor="middle" font-weight="normal" font-family='"Liberation Sans", sans-serif' stroke="#000" stroke-width="0.35">(e)</text>
<line x1="51.8" y1="17.8" x2="78.1" y2="17.8" stroke="#222" stroke-width="1.5"/>
<text x="81.8" y="21.9" font-size="11.4" text-anchor="start" font-weight="bold" font-family='"Liberation Sans", sans-serif'  stroke="#000" stroke-width="0.3">TDOS</text>
<line x1="51.8" y1="33" x2="78.1" y2="33" stroke="#ff0000" stroke-width="1.5"/>
<text x="81.8" y="37.1" font-size="11.4" text-anchor="start" font-weight="bold" font-family='"Liberation Sans", sans-serif'  stroke="#000" stroke-width="0.3">B_s</text>
<line x1="51.8" y1="48.4" x2="78.1" y2="48.4" stroke="#00ff00" stroke-width="1.5"/>
<text x="81.8" y="52.5" font-size="11.4" text-anchor="start" font-weight="bold" font-family='"Liberation Sans", sans-serif'  stroke="#000" stroke-width="0.3">B_p</text>
<line x1="51.8" y1="63.8" x2="78.1" y2="63.8" stroke="#0000ff" stroke-width="1.5"/>
<text x="81.8" y="67.9" font-size="11.4" text-anchor="start" font-weight="bold" font-family='"Liberation Sans", sans-serif'  stroke="#000" stroke-width="0.3">Ti_s</text>
<line x1="51.8" y1="79.5" x2="78.1" y2="79.5" stroke="#00ffff" stroke-width="1.5"/>
<text x="81.8" y="83.6" font-size="11.4" text-anchor="start" font-weight="bold" font-family='"Liberation Sans", sans-serif'  stroke="#000" stroke-width="0.3">Ti_p</text>
<line x1="51.8" y1="94.6" x2="78.1" y2="94.6" stroke="#ff00ff" stroke-width="1.5"/>
<text x="81.8" y="98.7" font-size="11.4" text-anchor="start" font-weight="bold" font-family='"Liberation Sans", sans-serif'  stroke="#000" stroke-width="0.3">Ti_d</text>
<line x1="396.6" y1="18.1" x2="423.3" y2="18.1" stroke="#222" stroke-width="1.5"/>
<text x="426.8" y="22.2" font-size="11.4" text-anchor="start" font-weight="bold" font-family='"Liberation Sans", sans-serif'  stroke="#000" stroke-width="0.3">TDOS</text>
<line x1="396.6" y1="33.5" x2="423.3" y2="33.5" stroke="#ff0000" stroke-width="1.5"/>
<text x="426.8" y="37.6" font-size="11.4" text-anchor="start" font-weight="bold" font-family='"Liberation Sans", sans-serif'  stroke="#000" stroke-width="0.3">B_s</text>
<line x1="396.6" y1="48.5" x2="423.3" y2="48.5" stroke="#00ff00" stroke-width="1.5"/>
<text x="426.8" y="52.6" font-size="11.4" text-anchor="start" font-weight="bold" font-family='"Liberation Sans", sans-serif'  stroke="#000" stroke-width="0.3">B_p</text>
<line x1="396.6" y1="64.1" x2="423.3" y2="64.1" stroke="#0000ff" stroke-width="1.5"/>
<text x="426.8" y="68.2" font-size="11.4" text-anchor="start" font-weight="bold" font-family='"Liberation Sans", sans-serif'  stroke="#000" stroke-width="0.3">Mo_s</text>
<line x1="396.6" y1="79.7" x2="423.3" y2="79.7" stroke="#00ffff" stroke-width="1.5"/>
<text x="426.8" y="83.8" font-size="11.4" text-anchor="start" font-weight="bold" font-family='"Liberation Sans", sans-serif'  stroke="#000" stroke-width="0.3">Mo_p</text>
<line x1="396.6" y1="95.1" x2="423.3" y2="95.1" stroke="#ff00ff" stroke-width="1.5"/>
<text x="426.8" y="99.2" font-size="11.4" text-anchor="start" font-weight="bold" font-family='"Liberation Sans", sans-serif'  stroke="#000" stroke-width="0.3">Mo_d</text>
<line x1="56.3" y1="327" x2="83.2" y2="327" stroke="#222" stroke-width="1.5"/>
<text x="89.2" y="331.1" font-size="11.4" text-anchor="start" font-weight="bold" font-family='"Liberation Sans", sans-serif'  stroke="#000" stroke-width="0.3">TDOS</text>
<line x1="56.3" y1="344.9" x2="83.2" y2="344.9" stroke="#ff0000" stroke-width="1.5"/>
<text x="86.7" y="349" font-size="11.4" text-anchor="start" font-weight="bold" font-family='"Liberation Sans", sans-serif'  stroke="#000" stroke-width="0.3">B_s</text>
<line x1="56.3" y1="360.1" x2="83.2" y2="360.1" stroke="#00ff00" stroke-width="1.5"/>
<text x="86.7" y="364.2" font-size="11.4" text-anchor="start" font-weight="bold" font-family='"Liberation Sans", sans-serif'  stroke="#000" stroke-width="0.3">B_p</text>
<line x1="56.3" y1="375.7" x2="83.2" y2="375.7" stroke="#0000ff" stroke-width="1.5"/>
<text x="86.7" y="379.8" font-size="11.4" text-anchor="start" font-weight="bold" font-family='"Liberation Sans", sans-serif'  stroke="#000" stroke-width="0.3">Ti_s</text>
<line x1="56.3" y1="391.2" x2="83.2" y2="391.2" stroke="#00ffff" stroke-width="1.5"/>
<text x="86.7" y="395.3" font-size="11.4" text-anchor="start" font-weight="bold" font-family='"Liberation Sans", sans-serif'  stroke="#000" stroke-width="0.3">Ti_p</text>
<line x1="56.3" y1="406.7" x2="83.2" y2="406.7" stroke="#ff00ff" stroke-width="1.5"/>
<text x="86.7" y="410.8" font-size="11.4" text-anchor="start" font-weight="bold" font-family='"Liberation Sans", sans-serif'  stroke="#000" stroke-width="0.3">Ti_d</text>
<line x1="56.3" y1="422.3" x2="83.2" y2="422.3" stroke="#ffff00" stroke-width="1.5"/>
<text x="86.7" y="426.4" font-size="11.4" text-anchor="start" font-weight="bold" font-family='"Liberation Sans", sans-serif'  stroke="#000" stroke-width="0.3">Mo_s</text>
<line x1="56.3" y1="437.5" x2="83.2" y2="437.5" stroke="#808000" stroke-width="1.5"/>
<text x="86.7" y="441.6" font-size="11.4" text-anchor="start" font-weight="bold" font-family='"Liberation Sans", sans-serif'  stroke="#000" stroke-width="0.3">Mo_p</text>
<line x1="56.3" y1="452.9" x2="83.2" y2="452.9" stroke="#000080" stroke-width="1.5"/>
<text x="86.7" y="457" font-size="11.4" text-anchor="start" font-weight="bold" font-family='"Liberation Sans", sans-serif'  stroke="#000" stroke-width="0.3">Mo_d</text>
<line x1="397.1" y1="326.2" x2="423.7" y2="326.2" stroke="#222" stroke-width="1.5"/>
<text x="426.4" y="330.3" font-size="11.4" text-anchor="start" font-weight="bold" font-family='"Liberation Sans", sans-serif'  stroke="#000" stroke-width="0.3">TDOS</text>
<line x1="397.1" y1="340" x2="423.7" y2="340" stroke="#ff0000" stroke-width="1.5"/>
<text x="427.2" y="344.1" font-size="11.4" text-anchor="start" font-weight="bold" font-family='"Liberation Sans", sans-serif'  stroke="#000" stroke-width="0.3">B_s</text>
<line x1="397.1" y1="355.5" x2="423.7" y2="355.5" stroke="#00ff00" stroke-width="1.5"/>
<text x="427.2" y="359.6" font-size="11.4" text-anchor="start" font-weight="bold" font-family='"Liberation Sans", sans-serif'  stroke="#000" stroke-width="0.3">B_p</text>
<line x1="397.1" y1="370.7" x2="423.7" y2="370.7" stroke="#0000ff" stroke-width="1.5"/>
<text x="427.2" y="374.8" font-size="11.4" text-anchor="start" font-weight="bold" font-family='"Liberation Sans", sans-serif'  stroke="#000" stroke-width="0.3">Ti_s</text>
<line x1="397.1" y1="386.3" x2="423.7" y2="386.3" stroke="#00ffff" stroke-width="1.5"/>
<text x="427.2" y="390.4" font-size="11.4" text-anchor="start" font-weight="bold" font-family='"Liberation Sans", sans-serif'  stroke="#000" stroke-width="0.3">Ti_p</text>
<line x1="397.1" y1="401.5" x2="423.7" y2="401.5" stroke="#ff00ff" stroke-width="1.5"/>
<text x="427.2" y="405.6" font-size="11.4" text-anchor="start" font-weight="bold" font-family='"Liberation Sans", sans-serif'  stroke="#000" stroke-width="0.3">Ti_d</text>
<line x1="397.1" y1="417.1" x2="423.7" y2="417.1" stroke="#ffff00" stroke-width="1.5"/>
<text x="427.2" y="421.2" font-size="11.4" text-anchor="start" font-weight="bold" font-family='"Liberation Sans", sans-serif'  stroke="#000" stroke-width="0.3">Mo_s</text>
<line x1="397.1" y1="432.4" x2="423.7" y2="432.4" stroke="#808000" stroke-width="1.5"/>
<text x="427.2" y="436.5" font-size="11.4" text-anchor="start" font-weight="bold" font-family='"Liberation Sans", sans-serif'  stroke="#000" stroke-width="0.3">Mo_p</text>
<line x1="397.1" y1="447.6" x2="423.7" y2="447.6" stroke="#000080" stroke-width="1.5"/>
<text x="427.2" y="451.7" font-size="11.4" text-anchor="start" font-weight="bold" font-family='"Liberation Sans", sans-serif'  stroke="#000" stroke-width="0.3">Mo_d</text>
<line x1="473.5" y1="657.6" x2="503.5" y2="657.6" stroke="#222" stroke-width="1.5"/>
<text x="507.4" y="662.06" font-size="12.4" text-anchor="start" font-weight="bold" font-family='"Liberation Sans", sans-serif'  stroke="#000" stroke-width="0.3">TDOS</text>
<line x1="473.5" y1="672.5" x2="503.5" y2="672.5" stroke="#ff0000" stroke-width="1.5"/>
<text x="507.4" y="676.96" font-size="12.4" text-anchor="start" font-weight="bold" font-family='"Liberation Sans", sans-serif'  stroke="#000" stroke-width="0.3">B_s</text>
<line x1="473.5" y1="689.7" x2="503.5" y2="689.7" stroke="#0000ff" stroke-width="1.5"/>
<text x="507.4" y="694.16" font-size="12.4" text-anchor="start" font-weight="bold" font-family='"Liberation Sans", sans-serif'  stroke="#000" stroke-width="0.3">B_p</text>
<line x1="473.5" y1="706.9" x2="503.5" y2="706.9" stroke="#ff00ff" stroke-width="1.5"/>
<text x="507.4" y="711.36" font-size="12.4" text-anchor="start" font-weight="bold" font-family='"Liberation Sans", sans-serif'  stroke="#000" stroke-width="0.3">Ti_s</text>
<line x1="473.5" y1="724.3" x2="503.5" y2="724.3" stroke="#008000" stroke-width="1.5"/>
<text x="507.4" y="728.76" font-size="12.4" text-anchor="start" font-weight="bold" font-family='"Liberation Sans", sans-serif'  stroke="#000" stroke-width="0.3">Ti_p</text>
<line x1="473.5" y1="741.8" x2="503.5" y2="741.8" stroke="#000080" stroke-width="1.5"/>
<text x="507.4" y="746.26" font-size="12.4" text-anchor="start" font-weight="bold" font-family='"Liberation Sans", sans-serif'  stroke="#000" stroke-width="0.3">Ti_d</text>
<line x1="473.5" y1="759.2" x2="503.5" y2="759.2" stroke="#8000ff" stroke-width="1.5"/>
<text x="507.4" y="763.66" font-size="12.4" text-anchor="start" font-weight="bold" font-family='"Liberation Sans", sans-serif'  stroke="#000" stroke-width="0.3">Mo_s</text>
<line x1="473.5" y1="776.5" x2="503.5" y2="776.5" stroke="#800080" stroke-width="1.5"/>
<text x="507.4" y="780.96" font-size="12.4" text-anchor="start" font-weight="bold" font-family='"Liberation Sans", sans-serif'  stroke="#000" stroke-width="0.3">Mo_p</text>
<line x1="473.5" y1="793.7" x2="503.5" y2="793.7" stroke="#800000" stroke-width="1.5"/>
<text x="507.4" y="798.16" font-size="12.4" text-anchor="start" font-weight="bold" font-family='"Liberation Sans", sans-serif'  stroke="#000" stroke-width="0.3">Mo_d</text>
<text x="296.5" y="22.9" font-weight="bold" font-family='"Liberation Sans", sans-serif' stroke="#000" stroke-width="0.3"><tspan font-size="11.3" dy="0">TiB</tspan><tspan font-size="7.4" dy="3.8">2</tspan></text>
<text x="622" y="20.8" font-weight="bold" font-family='"Liberation Sans", sans-serif' stroke="#000" stroke-width="0.3"><tspan font-size="11.5" dy="0">MoB</tspan><tspan font-size="7.4" dy="4">2</tspan></text>
<text x="257.7" y="323.5" font-weight="bold" font-family='"Liberation Sans", sans-serif' stroke="#000" stroke-width="0.3"><tspan font-size="11.3" dy="0">Ti</tspan><tspan font-size="7.3" dy="4">0.5</tspan><tspan font-size="11.3" dy="-4">Mo</tspan><tspan font-size="7.3" dy="4">0.5</tspan><tspan font-size="11.3" dy="-4">B</tspan><tspan font-size="7.3" dy="4">2</tspan></text>
<text x="590.8" y="332.7" font-weight="bold" font-family='"Liberation Sans", sans-serif' stroke="#000" stroke-width="0.3"><tspan font-size="11.3" dy="0">Ti</tspan><tspan font-size="7.2" dy="4.3">0.75</tspan><tspan font-size="11.3" dy="-4.3">Mo</tspan><tspan font-size="7.2" dy="4.3">0.25</tspan><tspan font-size="11.3" dy="-4.3">B</tspan><tspan font-size="7.2" dy="4.3">2</tspan></text>
<text x="253.9" y="664.7" font-weight="bold" font-family='"Liberation Sans", sans-serif' stroke="#000" stroke-width="0.3"><tspan font-size="13.2" dy="0">Ti</tspan><tspan font-size="7.7" dy="4.5">0.25</tspan><tspan font-size="13.2" dy="-4.5">Mo</tspan><tspan font-size="7.7" dy="4.5">0.75</tspan><tspan font-size="13.2" dy="-4.5">B</tspan><tspan font-size="7.7" dy="4.5">2</tspan></text>
</svg>
</body></html>
